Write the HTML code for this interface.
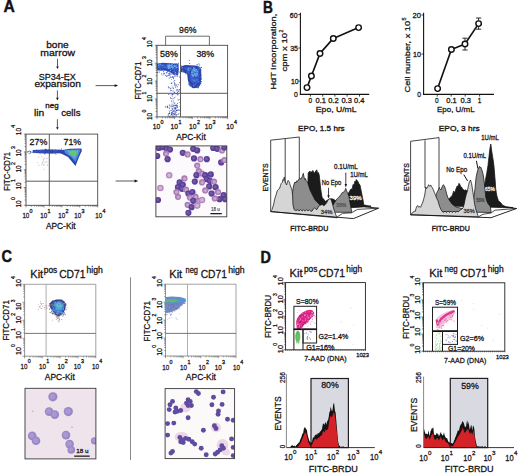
<!DOCTYPE html>
<html><head><meta charset="utf-8"><style>
html,body{margin:0;padding:0;background:#fff;}
svg{display:block;font-family:"Liberation Sans", sans-serif;}
</style></head><body>
<svg width="520" height="475" viewBox="0 0 520 475" fill="#161213">
<defs>
<filter id="b1" x="-20%" y="-20%" width="140%" height="140%"><feGaussianBlur stdDeviation="0.6"/></filter>
<filter id="bm" x="-20%" y="-20%" width="140%" height="140%"><feGaussianBlur stdDeviation="0.6"/></filter>
<filter id="b2" x="-20%" y="-20%" width="140%" height="140%"><feGaussianBlur stdDeviation="1.2"/></filter>
<filter id="b3" x="-30%" y="-30%" width="160%" height="160%"><feGaussianBlur stdDeviation="2"/></filter>
</defs>
<rect width="520" height="475" fill="#fff"/>
<text x="3.4" y="12.4" font-size="16" stroke="#161213" stroke-width="0.45" font-weight="bold" textLength="11.3" lengthAdjust="spacingAndGlyphs">A</text>
<text x="57.5" y="47.9" font-size="8.8" stroke="#161213" stroke-width="0.26" text-anchor="middle" textLength="22.5" lengthAdjust="spacingAndGlyphs">bone</text>
<text x="57.6" y="55.6" font-size="8.8" stroke="#161213" stroke-width="0.26" text-anchor="middle" textLength="34.8" lengthAdjust="spacingAndGlyphs">marrow</text>
<text x="57.2" y="79.6" font-size="8.6" stroke="#161213" stroke-width="0.26" text-anchor="middle" textLength="37" lengthAdjust="spacingAndGlyphs">SP34-EX</text>
<text x="57.6" y="87.2" font-size="8.8" stroke="#161213" stroke-width="0.26" text-anchor="middle" textLength="46.4" lengthAdjust="spacingAndGlyphs">expansion</text>
<text x="34" y="115.5" font-size="8.8" stroke="#161213" stroke-width="0.26" textLength="10.2" lengthAdjust="spacingAndGlyphs">lin</text>
<text x="45.3" y="107.6" font-size="6.6" stroke="#161213" stroke-width="0.26" textLength="13.3" lengthAdjust="spacingAndGlyphs">neg</text>
<text x="61.2" y="115.5" font-size="8.8" stroke="#161213" stroke-width="0.26" textLength="19.3" lengthAdjust="spacingAndGlyphs">cells</text>
<line x1="57.5" y1="58.8" x2="57.5" y2="66.8" stroke="#161213" stroke-width="0.7"/>
<polygon points="56.2,66.4 58.8,66.4 57.5,69" fill="#161213"/>
<line x1="57.4" y1="90.4" x2="57.4" y2="98.2" stroke="#161213" stroke-width="0.7"/>
<polygon points="56.1,97.8 58.7,97.8 57.4,100.4" fill="#161213"/>
<line x1="57.4" y1="119.2" x2="57.4" y2="127.6" stroke="#161213" stroke-width="0.7"/>
<polygon points="56.1,127.2 58.7,127.2 57.4,129.8" fill="#161213"/>
<line x1="95.6" y1="85.6" x2="115.2" y2="85.6" stroke="#161213" stroke-width="0.7"/>
<polygon points="114.6,84.2 114.6,87 118.2,85.6" fill="#161213"/>
<line x1="115.6" y1="181" x2="135.2" y2="181" stroke="#161213" stroke-width="0.7"/>
<polygon points="134.6,179.6 134.6,182.4 138.2,181" fill="#161213"/>
<g filter="url(#b1)">
<polygon points="157,63.5 163,62.8 170,63.2 178.5,63.8 178.8,70 178,75.5 174,75 170,72 165,70.5 160,70.8 157,70" fill="#2f49b5"/>
<polygon points="159,64.5 170,64.2 177,65 177,69 172,70 165,68.5 160,68" fill="#3c66d2"/>
<ellipse cx="171.5" cy="66.5" rx="4.2" ry="2.2" fill="#68aaee"/>
<polygon points="181,66.5 185,65 190,65.2 195,65.5 199,66.5 201.2,69 201.3,76 200.8,84 198.5,87.8 193,88.2 189.5,86 187.8,80 187.2,74 184,72.5 181,72" fill="#2f46b0"/>
<polygon points="184,67.5 192,66.8 198,68.5 199.5,74 198.5,82 195,85 191,82 189.5,75 185,71" fill="#3a5fcc"/>
<ellipse cx="194.5" cy="73" rx="3.6" ry="4" fill="#62a6ec"/>
</g>
<rect x="176.04" y="84.57" width="0.9" height="0.9" fill="#3a50b0"/>
<rect x="177.03" y="106.96" width="0.9" height="0.9" fill="#3a50b0"/>
<rect x="176.84" y="86.46" width="0.9" height="0.9" fill="#3a50b0"/>
<rect x="174.77" y="73.87" width="0.9" height="0.9" fill="#a8b4e4"/>
<rect x="176.16" y="73.14" width="0.9" height="0.9" fill="#2a3a90"/>
<rect x="175.2" y="75.57" width="0.9" height="0.9" fill="#5a70c8"/>
<rect x="172.57" y="98.38" width="0.9" height="0.9" fill="#2a3a90"/>
<rect x="172.97" y="87.85" width="0.9" height="0.9" fill="#5a70c8"/>
<rect x="175.06" y="72.1" width="0.9" height="0.9" fill="#5a70c8"/>
<rect x="171.57" y="94.33" width="0.9" height="0.9" fill="#2a3a90"/>
<rect x="174.26" y="83.88" width="0.9" height="0.9" fill="#2a3a90"/>
<rect x="171.77" y="95.7" width="0.9" height="0.9" fill="#5a70c8"/>
<rect x="172.47" y="86.76" width="0.9" height="0.9" fill="#3a50b0"/>
<rect x="173.18" y="97.86" width="0.9" height="0.9" fill="#a8b4e4"/>
<rect x="171.16" y="100.62" width="0.9" height="0.9" fill="#2a3a90"/>
<rect x="174.64" y="111.55" width="0.9" height="0.9" fill="#8898d8"/>
<rect x="174.78" y="83.49" width="0.9" height="0.9" fill="#5a70c8"/>
<rect x="169.03" y="73.68" width="0.9" height="0.9" fill="#8898d8"/>
<rect x="176.93" y="93.63" width="0.9" height="0.9" fill="#8898d8"/>
<rect x="170.07" y="97.4" width="0.9" height="0.9" fill="#3a50b0"/>
<rect x="169.11" y="75.31" width="0.9" height="0.9" fill="#5a70c8"/>
<rect x="175.98" y="112" width="0.9" height="0.9" fill="#a8b4e4"/>
<rect x="170.99" y="71.76" width="0.9" height="0.9" fill="#2a3a90"/>
<rect x="169.06" y="105.51" width="0.9" height="0.9" fill="#8898d8"/>
<rect x="171.43" y="85.31" width="0.9" height="0.9" fill="#a8b4e4"/>
<rect x="176.34" y="73.09" width="0.9" height="0.9" fill="#3a50b0"/>
<rect x="169.13" y="112.51" width="0.9" height="0.9" fill="#3a50b0"/>
<rect x="174.22" y="102.9" width="0.9" height="0.9" fill="#8898d8"/>
<rect x="179" y="99.12" width="0.9" height="0.9" fill="#8898d8"/>
<rect x="173.26" y="102.25" width="0.9" height="0.9" fill="#8898d8"/>
<rect x="171.73" y="71.02" width="0.9" height="0.9" fill="#3a50b0"/>
<rect x="173.93" y="92.22" width="0.9" height="0.9" fill="#5a70c8"/>
<rect x="175.06" y="104.57" width="0.9" height="0.9" fill="#a8b4e4"/>
<rect x="175.14" y="111.26" width="0.9" height="0.9" fill="#a8b4e4"/>
<rect x="169.9" y="73.63" width="0.9" height="0.9" fill="#5a70c8"/>
<rect x="174.69" y="106.87" width="0.9" height="0.9" fill="#2a3a90"/>
<rect x="171.06" y="82.53" width="0.9" height="0.9" fill="#a8b4e4"/>
<rect x="174.94" y="113.1" width="0.9" height="0.9" fill="#5a70c8"/>
<rect x="176.06" y="73.73" width="0.9" height="0.9" fill="#3a50b0"/>
<rect x="177.08" y="91.82" width="0.9" height="0.9" fill="#2a3a90"/>
<rect x="173.16" y="78.21" width="0.9" height="0.9" fill="#2a3a90"/>
<rect x="175.15" y="86.62" width="0.9" height="0.9" fill="#2a3a90"/>
<rect x="177.69" y="84.34" width="0.9" height="0.9" fill="#2a3a90"/>
<rect x="177.71" y="99.47" width="0.9" height="0.9" fill="#3a50b0"/>
<rect x="178.59" y="90.55" width="0.9" height="0.9" fill="#2a3a90"/>
<rect x="168.14" y="87.66" width="0.9" height="0.9" fill="#a8b4e4"/>
<rect x="170.49" y="87.74" width="0.9" height="0.9" fill="#5a70c8"/>
<rect x="173.85" y="73.03" width="0.9" height="0.9" fill="#5a70c8"/>
<rect x="176.63" y="89.83" width="0.9" height="0.9" fill="#3a50b0"/>
<rect x="176.09" y="70.01" width="0.9" height="0.9" fill="#5a70c8"/>
<rect x="177.43" y="94.15" width="0.9" height="0.9" fill="#3a50b0"/>
<rect x="172.2" y="109.34" width="0.9" height="0.9" fill="#2a3a90"/>
<rect x="168.53" y="86.93" width="0.9" height="0.9" fill="#2a3a90"/>
<rect x="167.9" y="86.39" width="0.9" height="0.9" fill="#3a50b0"/>
<rect x="165.24" y="75.19" width="0.9" height="0.9" fill="#a8b4e4"/>
<rect x="174.12" y="91.77" width="0.9" height="0.9" fill="#3a50b0"/>
<rect x="173.49" y="76.49" width="0.9" height="0.9" fill="#a8b4e4"/>
<rect x="168.57" y="107.3" width="0.9" height="0.9" fill="#5a70c8"/>
<rect x="175.55" y="93.24" width="0.9" height="0.9" fill="#8898d8"/>
<rect x="179" y="76.6" width="0.9" height="0.9" fill="#2a3a90"/>
<rect x="173.63" y="111.14" width="0.9" height="0.9" fill="#3a50b0"/>
<rect x="170.98" y="101.33" width="0.9" height="0.9" fill="#8898d8"/>
<rect x="175.86" y="93.33" width="0.9" height="0.9" fill="#5a70c8"/>
<rect x="171.97" y="93.97" width="0.9" height="0.9" fill="#2a3a90"/>
<rect x="174.42" y="84.83" width="0.9" height="0.9" fill="#5a70c8"/>
<rect x="178.9" y="106.27" width="0.9" height="0.9" fill="#a8b4e4"/>
<rect x="174.03" y="103.29" width="0.9" height="0.9" fill="#8898d8"/>
<rect x="177.08" y="102.9" width="0.9" height="0.9" fill="#3a50b0"/>
<rect x="171.56" y="105.56" width="0.9" height="0.9" fill="#2a3a90"/>
<rect x="173.84" y="113.04" width="0.9" height="0.9" fill="#a8b4e4"/>
<rect x="173.03" y="106.39" width="0.9" height="0.9" fill="#8898d8"/>
<rect x="170.76" y="73.62" width="0.9" height="0.9" fill="#3a50b0"/>
<rect x="174.17" y="80.21" width="0.9" height="0.9" fill="#2a3a90"/>
<rect x="175.42" y="114.34" width="0.9" height="0.9" fill="#2a3a90"/>
<rect x="169.17" y="107.82" width="0.9" height="0.9" fill="#3a50b0"/>
<rect x="174.06" y="107.56" width="0.9" height="0.9" fill="#3a50b0"/>
<rect x="174.51" y="110.94" width="0.9" height="0.9" fill="#a8b4e4"/>
<rect x="168.61" y="110.01" width="0.9" height="0.9" fill="#a8b4e4"/>
<rect x="170.83" y="105.51" width="0.9" height="0.9" fill="#a8b4e4"/>
<rect x="178.18" y="90.84" width="0.9" height="0.9" fill="#3a50b0"/>
<rect x="174.25" y="102.62" width="0.9" height="0.9" fill="#5a70c8"/>
<rect x="174.87" y="96.59" width="0.9" height="0.9" fill="#a8b4e4"/>
<rect x="176.91" y="106.29" width="0.9" height="0.9" fill="#a8b4e4"/>
<rect x="177.96" y="99.58" width="0.9" height="0.9" fill="#8898d8"/>
<rect x="172.9" y="77.02" width="0.9" height="0.9" fill="#3a50b0"/>
<rect x="173.31" y="93.7" width="0.9" height="0.9" fill="#5a70c8"/>
<rect x="177.39" y="89.52" width="0.9" height="0.9" fill="#5a70c8"/>
<rect x="169.45" y="71.26" width="0.9" height="0.9" fill="#5a70c8"/>
<rect x="173.74" y="83.18" width="0.9" height="0.9" fill="#8898d8"/>
<rect x="177.48" y="94.5" width="0.9" height="0.9" fill="#5a70c8"/>
<rect x="173.09" y="72.74" width="0.9" height="0.9" fill="#2a3a90"/>
<rect x="167.11" y="106.68" width="0.9" height="0.9" fill="#2a3a90"/>
<rect x="176.58" y="88.93" width="0.9" height="0.9" fill="#2a3a90"/>
<rect x="171.75" y="76.83" width="0.9" height="0.9" fill="#2a3a90"/>
<rect x="171.73" y="70.84" width="0.9" height="0.9" fill="#3a50b0"/>
<rect x="174.2" y="104.92" width="0.9" height="0.9" fill="#5a70c8"/>
<rect x="168.74" y="77.76" width="0.9" height="0.9" fill="#2a3a90"/>
<rect x="174.3" y="72.78" width="0.9" height="0.9" fill="#2a3a90"/>
<rect x="168.34" y="93.88" width="0.9" height="0.9" fill="#2a3a90"/>
<rect x="174.07" y="72.56" width="0.9" height="0.9" fill="#5a70c8"/>
<rect x="174" y="82.46" width="0.9" height="0.9" fill="#2a3a90"/>
<rect x="169.96" y="71.25" width="0.9" height="0.9" fill="#3a50b0"/>
<rect x="170.79" y="89.95" width="0.9" height="0.9" fill="#2a3a90"/>
<rect x="171.19" y="78.97" width="0.9" height="0.9" fill="#8898d8"/>
<rect x="170.15" y="90.36" width="0.9" height="0.9" fill="#5a70c8"/>
<rect x="172.79" y="101.46" width="0.9" height="0.9" fill="#8898d8"/>
<rect x="175.08" y="111.53" width="0.9" height="0.9" fill="#a8b4e4"/>
<rect x="172.24" y="76.17" width="0.9" height="0.9" fill="#3a50b0"/>
<rect x="171.7" y="87.66" width="0.9" height="0.9" fill="#a8b4e4"/>
<rect x="177.6" y="73.29" width="0.9" height="0.9" fill="#8898d8"/>
<rect x="174.89" y="105.28" width="0.9" height="0.9" fill="#8898d8"/>
<rect x="172.45" y="76.43" width="0.9" height="0.9" fill="#5a70c8"/>
<rect x="174.91" y="113.54" width="0.9" height="0.9" fill="#a8b4e4"/>
<rect x="179" y="109.82" width="0.9" height="0.9" fill="#5a70c8"/>
<rect x="174.38" y="114.54" width="0.9" height="0.9" fill="#a8b4e4"/>
<rect x="171.95" y="114.73" width="0.9" height="0.9" fill="#a8b4e4"/>
<rect x="174.38" y="85.26" width="0.9" height="0.9" fill="#8898d8"/>
<rect x="175.98" y="70.88" width="0.9" height="0.9" fill="#2a3a90"/>
<rect x="172.64" y="90.64" width="0.9" height="0.9" fill="#2a3a90"/>
<rect x="170.67" y="98.08" width="0.9" height="0.9" fill="#2a3a90"/>
<rect x="178.6" y="113.23" width="0.9" height="0.9" fill="#5a70c8"/>
<rect x="177.87" y="113.73" width="0.9" height="0.9" fill="#3a50b0"/>
<rect x="172.6" y="73.78" width="0.9" height="0.9" fill="#5a70c8"/>
<rect x="179" y="82.17" width="0.9" height="0.9" fill="#5a70c8"/>
<rect x="176.14" y="106.89" width="0.9" height="0.9" fill="#8898d8"/>
<rect x="169.85" y="88.27" width="0.9" height="0.9" fill="#2a3a90"/>
<rect x="169.29" y="111.36" width="0.9" height="0.9" fill="#3a50b0"/>
<rect x="171.5" y="82.56" width="0.9" height="0.9" fill="#5a70c8"/>
<rect x="179" y="89.14" width="0.9" height="0.9" fill="#3a50b0"/>
<rect x="176.61" y="106.07" width="0.9" height="0.9" fill="#3a50b0"/>
<rect x="173.91" y="97.37" width="0.9" height="0.9" fill="#3a50b0"/>
<rect x="175.82" y="90.42" width="0.9" height="0.9" fill="#8898d8"/>
<rect x="167.7" y="114.74" width="0.9" height="0.9" fill="#2a3a90"/>
<rect x="176.79" y="75.82" width="0.9" height="0.9" fill="#2a3a90"/>
<rect x="179" y="101.93" width="0.9" height="0.9" fill="#8898d8"/>
<rect x="170.5" y="72.27" width="0.9" height="0.9" fill="#5a70c8"/>
<rect x="170.95" y="111.95" width="0.9" height="0.9" fill="#5a70c8"/>
<rect x="170.83" y="83.05" width="0.9" height="0.9" fill="#2a3a90"/>
<rect x="172.8" y="100.25" width="0.9" height="0.9" fill="#8898d8"/>
<rect x="178.87" y="71.66" width="0.9" height="0.9" fill="#3a50b0"/>
<rect x="171.65" y="102.99" width="0.9" height="0.9" fill="#a8b4e4"/>
<rect x="172.89" y="81.06" width="0.9" height="0.9" fill="#a8b4e4"/>
<rect x="174.84" y="74.78" width="0.9" height="0.9" fill="#a8b4e4"/>
<rect x="170.6" y="94.57" width="0.9" height="0.9" fill="#a8b4e4"/>
<rect x="172.76" y="113.66" width="0.9" height="0.9" fill="#5a70c8"/>
<rect x="175.45" y="85.42" width="0.9" height="0.9" fill="#5a70c8"/>
<rect x="172.92" y="88.21" width="0.9" height="0.9" fill="#5a70c8"/>
<rect x="174.32" y="70.64" width="0.9" height="0.9" fill="#8898d8"/>
<rect x="177.67" y="89.38" width="0.9" height="0.9" fill="#a8b4e4"/>
<rect x="175.01" y="109.17" width="0.9" height="0.9" fill="#8898d8"/>
<rect x="172.73" y="111.19" width="1" height="1" fill="#2c3f9e"/>
<rect x="172.29" y="105.89" width="1" height="1" fill="#5068c0"/>
<rect x="171.53" y="104.04" width="1" height="1" fill="#8090d0"/>
<rect x="174.68" y="107.88" width="1" height="1" fill="#2c3f9e"/>
<rect x="172.14" y="115.59" width="1" height="1" fill="#2c3f9e"/>
<rect x="175.19" y="108.02" width="1" height="1" fill="#2c3f9e"/>
<rect x="171.33" y="109.7" width="1" height="1" fill="#8090d0"/>
<rect x="172.97" y="113.31" width="1" height="1" fill="#2c3f9e"/>
<rect x="175.13" y="107.17" width="1" height="1" fill="#2c3f9e"/>
<rect x="174.35" y="108.73" width="1" height="1" fill="#5068c0"/>
<rect x="173.36" y="107.65" width="1" height="1" fill="#8090d0"/>
<rect x="176.3" y="114.24" width="1" height="1" fill="#2c3f9e"/>
<rect x="171.91" y="111.89" width="1" height="1" fill="#5068c0"/>
<rect x="167.98" y="113.17" width="1" height="1" fill="#8090d0"/>
<rect x="175.37" y="115.82" width="1" height="1" fill="#8090d0"/>
<rect x="176.24" y="105.74" width="1" height="1" fill="#8090d0"/>
<rect x="170.17" y="114.7" width="1" height="1" fill="#8090d0"/>
<rect x="170.08" y="105.67" width="1" height="1" fill="#8090d0"/>
<rect x="168.84" y="113.03" width="1" height="1" fill="#2c3f9e"/>
<rect x="171.09" y="113.92" width="1" height="1" fill="#8090d0"/>
<rect x="171.49" y="113.58" width="1" height="1" fill="#8090d0"/>
<rect x="166.93" y="106.76" width="1" height="1" fill="#2c3f9e"/>
<rect x="168.88" y="104.5" width="1" height="1" fill="#5068c0"/>
<rect x="168.2" y="114.03" width="1" height="1" fill="#8090d0"/>
<rect x="176.06" y="104.61" width="1" height="1" fill="#2c3f9e"/>
<rect x="173.36" y="109.87" width="1" height="1" fill="#2c3f9e"/>
<rect x="178.25" y="109.48" width="1" height="1" fill="#8090d0"/>
<rect x="175.48" y="105.1" width="1" height="1" fill="#8090d0"/>
<rect x="172.84" y="104.79" width="1" height="1" fill="#2c3f9e"/>
<rect x="171.1" y="114.15" width="1" height="1" fill="#2c3f9e"/>
<rect x="174.14" y="112.75" width="1" height="1" fill="#5068c0"/>
<rect x="176.94" y="109.93" width="1" height="1" fill="#5068c0"/>
<rect x="174.74" y="104.92" width="1" height="1" fill="#2c3f9e"/>
<rect x="171.9" y="111.4" width="1" height="1" fill="#8090d0"/>
<rect x="171.18" y="106.38" width="1" height="1" fill="#8090d0"/>
<rect x="171.68" y="112.92" width="1" height="1" fill="#5068c0"/>
<rect x="174.92" y="111.45" width="1" height="1" fill="#5068c0"/>
<rect x="175.13" y="107.23" width="1" height="1" fill="#8090d0"/>
<rect x="173.58" y="105.19" width="1" height="1" fill="#8090d0"/>
<rect x="175.84" y="110.2" width="1" height="1" fill="#5068c0"/>
<rect x="173.85" y="109.59" width="1" height="1" fill="#8090d0"/>
<rect x="165.14" y="106.39" width="1" height="1" fill="#2c3f9e"/>
<rect x="175.75" y="115.24" width="1" height="1" fill="#8090d0"/>
<rect x="173.3" y="115.62" width="1" height="1" fill="#5068c0"/>
<rect x="168.78" y="115.93" width="1" height="1" fill="#2c3f9e"/>
<rect x="176.64" y="104.9" width="1" height="1" fill="#2c3f9e"/>
<rect x="166.89" y="105.7" width="1" height="1" fill="#2c3f9e"/>
<rect x="172.07" y="111.24" width="1" height="1" fill="#8090d0"/>
<rect x="175.95" y="110.1" width="1" height="1" fill="#2c3f9e"/>
<rect x="170.46" y="109.97" width="1" height="1" fill="#5068c0"/>
<rect x="176.31" y="108.73" width="1" height="1" fill="#8090d0"/>
<rect x="178.15" y="109.41" width="1" height="1" fill="#5068c0"/>
<rect x="170.9" y="112.73" width="1" height="1" fill="#2c3f9e"/>
<rect x="174.22" y="114.08" width="1" height="1" fill="#2c3f9e"/>
<rect x="171.67" y="107.89" width="1" height="1" fill="#2c3f9e"/>
<rect x="188.37" y="75.28" width="0.9" height="0.9" fill="#3a52b8"/>
<rect x="196.67" y="69.81" width="0.9" height="0.9" fill="#3a52b8"/>
<rect x="174.29" y="75.67" width="0.9" height="0.9" fill="#3a52b8"/>
<rect x="200.95" y="66.99" width="0.9" height="0.9" fill="#3a52b8"/>
<rect x="175.83" y="68.49" width="0.9" height="0.9" fill="#3a52b8"/>
<rect x="169.11" y="73.21" width="0.9" height="0.9" fill="#3a52b8"/>
<rect x="193.73" y="71.69" width="0.9" height="0.9" fill="#3a52b8"/>
<rect x="169.57" y="74.48" width="0.9" height="0.9" fill="#3a52b8"/>
<rect x="168.69" y="69.51" width="0.9" height="0.9" fill="#3a52b8"/>
<rect x="199.07" y="75.49" width="0.9" height="0.9" fill="#3a52b8"/>
<rect x="195.91" y="73.68" width="0.9" height="0.9" fill="#3a52b8"/>
<rect x="197.19" y="64.47" width="0.9" height="0.9" fill="#3a52b8"/>
<rect x="198.39" y="63.41" width="0.9" height="0.9" fill="#3a52b8"/>
<rect x="159.18" y="68.57" width="0.9" height="0.9" fill="#3a52b8"/>
<rect x="189.22" y="63.04" width="0.9" height="0.9" fill="#3a52b8"/>
<rect x="185.36" y="73.54" width="0.9" height="0.9" fill="#3a52b8"/>
<rect x="162.6" y="74.46" width="0.9" height="0.9" fill="#3a52b8"/>
<rect x="177.78" y="68.67" width="0.9" height="0.9" fill="#3a52b8"/>
<rect x="189.52" y="74.5" width="0.9" height="0.9" fill="#3a52b8"/>
<rect x="199.96" y="70.53" width="0.9" height="0.9" fill="#3a52b8"/>
<rect x="181.52" y="68.62" width="0.9" height="0.9" fill="#3a52b8"/>
<rect x="164.11" y="72.86" width="0.9" height="0.9" fill="#3a52b8"/>
<rect x="166.15" y="75.87" width="0.9" height="0.9" fill="#3a52b8"/>
<rect x="166.68" y="67.73" width="0.9" height="0.9" fill="#3a52b8"/>
<rect x="196.88" y="76.47" width="0.9" height="0.9" fill="#3a52b8"/>
<rect x="163.14" y="70.88" width="0.9" height="0.9" fill="#3a52b8"/>
<rect x="165.47" y="74.85" width="0.9" height="0.9" fill="#3a52b8"/>
<rect x="161.01" y="73.47" width="0.9" height="0.9" fill="#3a52b8"/>
<rect x="167.52" y="70.66" width="0.9" height="0.9" fill="#3a52b8"/>
<rect x="196.04" y="77.48" width="0.9" height="0.9" fill="#3a52b8"/>
<rect x="189.98" y="66.59" width="0.9" height="0.9" fill="#3a52b8"/>
<rect x="173.58" y="70.06" width="0.9" height="0.9" fill="#3a52b8"/>
<rect x="169.21" y="72.52" width="0.9" height="0.9" fill="#3a52b8"/>
<rect x="199.58" y="75.16" width="0.9" height="0.9" fill="#3a52b8"/>
<rect x="194.97" y="71.84" width="0.9" height="0.9" fill="#3a52b8"/>
<rect x="167.93" y="74.89" width="0.9" height="0.9" fill="#3a52b8"/>
<rect x="174.59" y="59.31" width="0.9" height="0.9" fill="#3a52b8"/>
<rect x="194.34" y="75.14" width="0.9" height="0.9" fill="#3a52b8"/>
<rect x="195.41" y="72.27" width="0.9" height="0.9" fill="#3a52b8"/>
<rect x="188.22" y="71.17" width="0.9" height="0.9" fill="#3a52b8"/>
<rect x="196.41" y="64.44" width="0.9" height="0.9" fill="#3a52b8"/>
<rect x="157.01" y="72.11" width="0.9" height="0.9" fill="#3a52b8"/>
<rect x="194.64" y="66.85" width="0.9" height="0.9" fill="#3a52b8"/>
<rect x="199.78" y="71.02" width="0.9" height="0.9" fill="#3a52b8"/>
<rect x="163.79" y="73.4" width="0.9" height="0.9" fill="#3a52b8"/>
<rect x="188.76" y="60.16" width="0.9" height="0.9" fill="#3a52b8"/>
<rect x="185.48" y="71.51" width="0.9" height="0.9" fill="#3a52b8"/>
<rect x="181.27" y="65.5" width="0.9" height="0.9" fill="#3a52b8"/>
<rect x="158.74" y="71.73" width="0.9" height="0.9" fill="#3a52b8"/>
<rect x="197.48" y="67.44" width="0.9" height="0.9" fill="#3a52b8"/>
<rect x="185.4" y="70.13" width="0.9" height="0.9" fill="#3a52b8"/>
<rect x="168.08" y="73.47" width="0.9" height="0.9" fill="#3a52b8"/>
<rect x="185" y="70.23" width="0.9" height="0.9" fill="#3a52b8"/>
<rect x="160.1" y="68.69" width="0.9" height="0.9" fill="#3a52b8"/>
<rect x="166.84" y="68.53" width="0.9" height="0.9" fill="#3a52b8"/>
<rect x="177.27" y="71.28" width="0.9" height="0.9" fill="#3a52b8"/>
<rect x="199.19" y="64.62" width="0.9" height="0.9" fill="#3a52b8"/>
<rect x="177.91" y="62.82" width="0.9" height="0.9" fill="#3a52b8"/>
<rect x="167.33" y="71.24" width="0.9" height="0.9" fill="#3a52b8"/>
<rect x="188" y="83.71" width="0.9" height="0.9" fill="#3a52b8"/>
<rect x="170.53" y="76.82" width="0.9" height="0.9" fill="#3a52b8"/>
<rect x="186.68" y="71.8" width="0.9" height="0.9" fill="#3a52b8"/>
<rect x="175.48" y="70.66" width="0.9" height="0.9" fill="#3a52b8"/>
<rect x="197.71" y="78.41" width="0.9" height="0.9" fill="#3a52b8"/>
<rect x="166.98" y="75.44" width="0.9" height="0.9" fill="#3a52b8"/>
<rect x="175.5" y="71.97" width="0.9" height="0.9" fill="#3a52b8"/>
<rect x="187.03" y="73.86" width="0.9" height="0.9" fill="#3a52b8"/>
<rect x="189.52" y="79.46" width="0.9" height="0.9" fill="#3a52b8"/>
<rect x="193.08" y="71.43" width="0.9" height="0.9" fill="#3a52b8"/>
<rect x="190.46" y="74.51" width="0.9" height="0.9" fill="#3a52b8"/>
<rect x="169.98" y="76.59" width="0.9" height="0.9" fill="#3a52b8"/>
<rect x="165.24" y="69.26" width="0.9" height="0.9" fill="#3a52b8"/>
<rect x="166.83" y="64.59" width="0.9" height="0.9" fill="#3a52b8"/>
<rect x="198.75" y="74.68" width="0.9" height="0.9" fill="#3a52b8"/>
<rect x="163.44" y="68.29" width="0.9" height="0.9" fill="#3a52b8"/>
<rect x="199.86" y="73.15" width="0.9" height="0.9" fill="#3a52b8"/>
<rect x="163.24" y="72.67" width="0.9" height="0.9" fill="#3a52b8"/>
<rect x="174.31" y="71.56" width="0.9" height="0.9" fill="#3a52b8"/>
<rect x="196.52" y="77.04" width="0.9" height="0.9" fill="#3a52b8"/>
<rect x="171.49" y="67.64" width="1" height="1" fill="#7ab8f2"/>
<rect x="173.45" y="71.29" width="1" height="1" fill="#5a9ae6"/>
<rect x="161.79" y="64.96" width="1" height="1" fill="#6eb0f0"/>
<rect x="166.13" y="71.92" width="1" height="1" fill="#2a3a98"/>
<rect x="193.17" y="73.81" width="1" height="1" fill="#6eb0f0"/>
<rect x="188.03" y="67.89" width="1" height="1" fill="#7ab8f2"/>
<rect x="197.46" y="67.83" width="1" height="1" fill="#2a3a98"/>
<rect x="189.44" y="74.86" width="1" height="1" fill="#3a5cc8"/>
<rect x="158.53" y="64.56" width="1" height="1" fill="#6eb0f0"/>
<rect x="196.54" y="71.48" width="1" height="1" fill="#2a3a98"/>
<rect x="188.49" y="74.64" width="1" height="1" fill="#213080"/>
<rect x="191.75" y="85.84" width="1" height="1" fill="#213080"/>
<rect x="163.66" y="68.9" width="1" height="1" fill="#2a3a98"/>
<rect x="174.23" y="67" width="1" height="1" fill="#213080"/>
<rect x="159.85" y="63.85" width="1" height="1" fill="#7ab8f2"/>
<rect x="175.77" y="65.63" width="1" height="1" fill="#6eb0f0"/>
<rect x="168.66" y="65.1" width="1" height="1" fill="#6eb0f0"/>
<rect x="199.77" y="67.33" width="1" height="1" fill="#5a9ae6"/>
<rect x="194.27" y="79.61" width="1" height="1" fill="#6eb0f0"/>
<rect x="191.31" y="70.35" width="1" height="1" fill="#2a3a98"/>
<rect x="189.47" y="67.98" width="1" height="1" fill="#5a9ae6"/>
<rect x="165.17" y="68.89" width="1" height="1" fill="#2a3a98"/>
<rect x="195.9" y="77.46" width="1" height="1" fill="#2a3a98"/>
<rect x="159.85" y="69.29" width="1" height="1" fill="#5a9ae6"/>
<rect x="192.57" y="79.33" width="1" height="1" fill="#6eb0f0"/>
<rect x="193.04" y="84.01" width="1" height="1" fill="#2a3a98"/>
<rect x="158.78" y="70.34" width="1" height="1" fill="#6eb0f0"/>
<rect x="193.43" y="67.85" width="1" height="1" fill="#6eb0f0"/>
<rect x="176.76" y="69.5" width="1" height="1" fill="#3a5cc8"/>
<rect x="166.58" y="72.22" width="1" height="1" fill="#5a9ae6"/>
<rect x="197.21" y="83.37" width="1" height="1" fill="#2a3a98"/>
<rect x="175" y="72.3" width="1" height="1" fill="#7ab8f2"/>
<rect x="170.74" y="68.09" width="1" height="1" fill="#213080"/>
<rect x="161.01" y="67.09" width="1" height="1" fill="#3a5cc8"/>
<rect x="195.88" y="73.35" width="1" height="1" fill="#6eb0f0"/>
<rect x="173.01" y="67.93" width="1" height="1" fill="#3a5cc8"/>
<rect x="176.1" y="66.91" width="1" height="1" fill="#6eb0f0"/>
<rect x="193.1" y="73.16" width="1" height="1" fill="#2a3a98"/>
<rect x="177.28" y="67.06" width="1" height="1" fill="#6eb0f0"/>
<rect x="159.27" y="66.56" width="1" height="1" fill="#213080"/>
<rect x="163.42" y="70.08" width="1" height="1" fill="#7ab8f2"/>
<rect x="164.56" y="64.68" width="1" height="1" fill="#213080"/>
<rect x="199.54" y="67.93" width="1" height="1" fill="#5a9ae6"/>
<rect x="197.16" y="70.86" width="1" height="1" fill="#7ab8f2"/>
<rect x="197.75" y="72.7" width="1" height="1" fill="#3a5cc8"/>
<rect x="194.24" y="83.73" width="1" height="1" fill="#5a9ae6"/>
<rect x="198.3" y="66.91" width="1" height="1" fill="#2a3a98"/>
<rect x="162.41" y="69.18" width="1" height="1" fill="#3a5cc8"/>
<rect x="192.89" y="67.81" width="1" height="1" fill="#7ab8f2"/>
<rect x="194.07" y="79.81" width="1" height="1" fill="#3a5cc8"/>
<rect x="184.59" y="70.66" width="1" height="1" fill="#213080"/>
<rect x="170.56" y="69.23" width="1" height="1" fill="#213080"/>
<rect x="176.29" y="63.58" width="1" height="1" fill="#7ab8f2"/>
<rect x="200.39" y="74.63" width="1" height="1" fill="#213080"/>
<rect x="190.6" y="82.5" width="1" height="1" fill="#213080"/>
<rect x="193.81" y="83.26" width="1" height="1" fill="#213080"/>
<rect x="161.71" y="66.21" width="1" height="1" fill="#213080"/>
<rect x="158.79" y="66.26" width="1" height="1" fill="#3a5cc8"/>
<rect x="196.37" y="79.32" width="1" height="1" fill="#5a9ae6"/>
<rect x="158.14" y="64.66" width="1" height="1" fill="#7ab8f2"/>
<rect x="189.21" y="83.37" width="1" height="1" fill="#5a9ae6"/>
<rect x="191.98" y="80.15" width="1" height="1" fill="#3a5cc8"/>
<rect x="197.48" y="68.21" width="1" height="1" fill="#2a3a98"/>
<rect x="184.1" y="68.93" width="1" height="1" fill="#2a3a98"/>
<rect x="158.62" y="67.55" width="1" height="1" fill="#5a9ae6"/>
<rect x="185.01" y="69.95" width="1" height="1" fill="#2a3a98"/>
<rect x="196.4" y="67.22" width="1" height="1" fill="#2a3a98"/>
<rect x="185" y="71.99" width="1" height="1" fill="#213080"/>
<rect x="200.69" y="78.74" width="1" height="1" fill="#213080"/>
<rect x="189.47" y="72.29" width="1" height="1" fill="#213080"/>
<rect x="200.58" y="77.43" width="1" height="1" fill="#2a3a98"/>
<rect x="171.56" y="65.03" width="1" height="1" fill="#5a9ae6"/>
<rect x="200.3" y="77.65" width="1" height="1" fill="#3a5cc8"/>
<rect x="196.41" y="81.33" width="1" height="1" fill="#3a5cc8"/>
<rect x="158.49" y="66.73" width="1" height="1" fill="#7ab8f2"/>
<rect x="173.02" y="64.19" width="1" height="1" fill="#213080"/>
<rect x="172.62" y="65.66" width="1" height="1" fill="#2a3a98"/>
<rect x="170.25" y="66.34" width="1" height="1" fill="#2a3a98"/>
<rect x="167.72" y="66.73" width="1" height="1" fill="#6eb0f0"/>
<rect x="159.8" y="66.62" width="1" height="1" fill="#3a5cc8"/>
<rect x="191.41" y="73.05" width="1" height="1" fill="#2a3a98"/>
<rect x="193.12" y="85.32" width="1" height="1" fill="#7ab8f2"/>
<rect x="198.23" y="81.34" width="1" height="1" fill="#5a9ae6"/>
<rect x="159.71" y="63.63" width="1" height="1" fill="#5a9ae6"/>
<rect x="167.46" y="64.46" width="1" height="1" fill="#6eb0f0"/>
<rect x="198.4" y="66.56" width="1" height="1" fill="#5a9ae6"/>
<rect x="200.74" y="81.11" width="1" height="1" fill="#213080"/>
<rect x="194.16" y="81.63" width="1" height="1" fill="#213080"/>
<rect x="197.71" y="86.57" width="1" height="1" fill="#2a3a98"/>
<rect x="188.31" y="69.65" width="1" height="1" fill="#7ab8f2"/>
<rect x="197.36" y="87.3" width="1" height="1" fill="#2a3a98"/>
<rect x="157.67" y="69.51" width="1" height="1" fill="#5a9ae6"/>
<rect x="194.04" y="68.07" width="1" height="1" fill="#5a9ae6"/>
<rect x="189.83" y="71.17" width="1" height="1" fill="#213080"/>
<rect x="171.46" y="68.98" width="1" height="1" fill="#3a5cc8"/>
<rect x="194.03" y="76.41" width="1" height="1" fill="#213080"/>
<rect x="193.95" y="80.44" width="1" height="1" fill="#6eb0f0"/>
<rect x="182.09" y="70.69" width="1" height="1" fill="#5a9ae6"/>
<rect x="181.87" y="67.29" width="1" height="1" fill="#6eb0f0"/>
<rect x="158.18" y="65.67" width="1" height="1" fill="#5a9ae6"/>
<rect x="172.17" y="66.55" width="1" height="1" fill="#6eb0f0"/>
<rect x="158.36" y="66.46" width="1" height="1" fill="#3a5cc8"/>
<rect x="192.97" y="83.49" width="1" height="1" fill="#3a5cc8"/>
<rect x="197.23" y="86.61" width="1" height="1" fill="#6eb0f0"/>
<rect x="167.85" y="68.08" width="1" height="1" fill="#6eb0f0"/>
<rect x="192.73" y="78.85" width="1" height="1" fill="#3a5cc8"/>
<rect x="185.44" y="70.36" width="1" height="1" fill="#2a3a98"/>
<rect x="175.65" y="63.52" width="1" height="1" fill="#2a3a98"/>
<rect x="190.43" y="85.76" width="1" height="1" fill="#7ab8f2"/>
<rect x="175.17" y="73.91" width="1" height="1" fill="#6eb0f0"/>
<rect x="193.07" y="67.26" width="1" height="1" fill="#6eb0f0"/>
<rect x="172.3" y="65.39" width="1" height="1" fill="#3a5cc8"/>
<rect x="192.06" y="67.61" width="1" height="1" fill="#213080"/>
<rect x="198.28" y="68.79" width="1" height="1" fill="#5a9ae6"/>
<rect x="184.63" y="71.89" width="1" height="1" fill="#213080"/>
<rect x="197.85" y="85.3" width="1" height="1" fill="#3a5cc8"/>
<rect x="158.11" y="68.15" width="1" height="1" fill="#2a3a98"/>
<rect x="187.32" y="69.43" width="1" height="1" fill="#5a9ae6"/>
<rect x="195.95" y="68.95" width="1" height="1" fill="#5a9ae6"/>
<rect x="193.37" y="78.43" width="1" height="1" fill="#3a5cc8"/>
<rect x="163.86" y="69.19" width="1" height="1" fill="#2a3a98"/>
<rect x="183.53" y="71.72" width="1" height="1" fill="#5a9ae6"/>
<rect x="171.44" y="67.73" width="1" height="1" fill="#3a5cc8"/>
<rect x="200.78" y="67.12" width="1" height="1" fill="#3a5cc8"/>
<rect x="200.29" y="82.87" width="1" height="1" fill="#3a5cc8"/>
<rect x="170.09" y="69.85" width="1" height="1" fill="#6eb0f0"/>
<rect x="166.08" y="72.71" width="1" height="1" fill="#6eb0f0"/>
<rect x="176.21" y="68.56" width="1" height="1" fill="#3a5cc8"/>
<rect x="170.03" y="63.55" width="1" height="1" fill="#2a3a98"/>
<rect x="157" y="45.3" width="70.6" height="71.6" fill="none" stroke="#4a4a4a" stroke-width="0.9"/>
<line x1="180.5" y1="45.3" x2="180.5" y2="116.9" stroke="#4a4a4a" stroke-width="0.9"/>
<line x1="157" y1="93.3" x2="227.6" y2="93.3" stroke="#4a4a4a" stroke-width="0.9"/>
<line x1="157" y1="116.9" x2="157" y2="119.1" stroke="#4a4a4a" stroke-width="0.6"/>
<line x1="162.31" y1="116.9" x2="162.31" y2="118.3" stroke="#4a4a4a" stroke-width="0.6"/>
<line x1="165.42" y1="116.9" x2="165.42" y2="118.3" stroke="#4a4a4a" stroke-width="0.6"/>
<line x1="167.63" y1="116.9" x2="167.63" y2="118.3" stroke="#4a4a4a" stroke-width="0.6"/>
<line x1="169.34" y1="116.9" x2="169.34" y2="118.3" stroke="#4a4a4a" stroke-width="0.6"/>
<line x1="170.73" y1="116.9" x2="170.73" y2="118.3" stroke="#4a4a4a" stroke-width="0.6"/>
<line x1="171.92" y1="116.9" x2="171.92" y2="118.3" stroke="#4a4a4a" stroke-width="0.6"/>
<line x1="172.94" y1="116.9" x2="172.94" y2="118.3" stroke="#4a4a4a" stroke-width="0.6"/>
<line x1="173.84" y1="116.9" x2="173.84" y2="118.3" stroke="#4a4a4a" stroke-width="0.6"/>
<line x1="174.65" y1="116.9" x2="174.65" y2="119.1" stroke="#4a4a4a" stroke-width="0.6"/>
<line x1="179.96" y1="116.9" x2="179.96" y2="118.3" stroke="#4a4a4a" stroke-width="0.6"/>
<line x1="183.07" y1="116.9" x2="183.07" y2="118.3" stroke="#4a4a4a" stroke-width="0.6"/>
<line x1="185.28" y1="116.9" x2="185.28" y2="118.3" stroke="#4a4a4a" stroke-width="0.6"/>
<line x1="186.99" y1="116.9" x2="186.99" y2="118.3" stroke="#4a4a4a" stroke-width="0.6"/>
<line x1="188.38" y1="116.9" x2="188.38" y2="118.3" stroke="#4a4a4a" stroke-width="0.6"/>
<line x1="189.57" y1="116.9" x2="189.57" y2="118.3" stroke="#4a4a4a" stroke-width="0.6"/>
<line x1="190.59" y1="116.9" x2="190.59" y2="118.3" stroke="#4a4a4a" stroke-width="0.6"/>
<line x1="191.49" y1="116.9" x2="191.49" y2="118.3" stroke="#4a4a4a" stroke-width="0.6"/>
<line x1="192.3" y1="116.9" x2="192.3" y2="119.1" stroke="#4a4a4a" stroke-width="0.6"/>
<line x1="197.61" y1="116.9" x2="197.61" y2="118.3" stroke="#4a4a4a" stroke-width="0.6"/>
<line x1="200.72" y1="116.9" x2="200.72" y2="118.3" stroke="#4a4a4a" stroke-width="0.6"/>
<line x1="202.93" y1="116.9" x2="202.93" y2="118.3" stroke="#4a4a4a" stroke-width="0.6"/>
<line x1="204.64" y1="116.9" x2="204.64" y2="118.3" stroke="#4a4a4a" stroke-width="0.6"/>
<line x1="206.03" y1="116.9" x2="206.03" y2="118.3" stroke="#4a4a4a" stroke-width="0.6"/>
<line x1="207.22" y1="116.9" x2="207.22" y2="118.3" stroke="#4a4a4a" stroke-width="0.6"/>
<line x1="208.24" y1="116.9" x2="208.24" y2="118.3" stroke="#4a4a4a" stroke-width="0.6"/>
<line x1="209.14" y1="116.9" x2="209.14" y2="118.3" stroke="#4a4a4a" stroke-width="0.6"/>
<line x1="209.95" y1="116.9" x2="209.95" y2="119.1" stroke="#4a4a4a" stroke-width="0.6"/>
<line x1="215.26" y1="116.9" x2="215.26" y2="118.3" stroke="#4a4a4a" stroke-width="0.6"/>
<line x1="218.37" y1="116.9" x2="218.37" y2="118.3" stroke="#4a4a4a" stroke-width="0.6"/>
<line x1="220.58" y1="116.9" x2="220.58" y2="118.3" stroke="#4a4a4a" stroke-width="0.6"/>
<line x1="222.29" y1="116.9" x2="222.29" y2="118.3" stroke="#4a4a4a" stroke-width="0.6"/>
<line x1="223.68" y1="116.9" x2="223.68" y2="118.3" stroke="#4a4a4a" stroke-width="0.6"/>
<line x1="224.87" y1="116.9" x2="224.87" y2="118.3" stroke="#4a4a4a" stroke-width="0.6"/>
<line x1="225.89" y1="116.9" x2="225.89" y2="118.3" stroke="#4a4a4a" stroke-width="0.6"/>
<line x1="226.79" y1="116.9" x2="226.79" y2="118.3" stroke="#4a4a4a" stroke-width="0.6"/>
<line x1="227.6" y1="116.9" x2="227.6" y2="119.1" stroke="#4a4a4a" stroke-width="0.6"/>
<line x1="154.8" y1="116.9" x2="157" y2="116.9" stroke="#4a4a4a" stroke-width="0.6"/>
<line x1="155.6" y1="111.51" x2="157" y2="111.51" stroke="#4a4a4a" stroke-width="0.6"/>
<line x1="155.6" y1="108.36" x2="157" y2="108.36" stroke="#4a4a4a" stroke-width="0.6"/>
<line x1="155.6" y1="106.12" x2="157" y2="106.12" stroke="#4a4a4a" stroke-width="0.6"/>
<line x1="155.6" y1="104.39" x2="157" y2="104.39" stroke="#4a4a4a" stroke-width="0.6"/>
<line x1="155.6" y1="102.97" x2="157" y2="102.97" stroke="#4a4a4a" stroke-width="0.6"/>
<line x1="155.6" y1="101.77" x2="157" y2="101.77" stroke="#4a4a4a" stroke-width="0.6"/>
<line x1="155.6" y1="100.73" x2="157" y2="100.73" stroke="#4a4a4a" stroke-width="0.6"/>
<line x1="155.6" y1="99.82" x2="157" y2="99.82" stroke="#4a4a4a" stroke-width="0.6"/>
<line x1="154.8" y1="99" x2="157" y2="99" stroke="#4a4a4a" stroke-width="0.6"/>
<line x1="155.6" y1="93.61" x2="157" y2="93.61" stroke="#4a4a4a" stroke-width="0.6"/>
<line x1="155.6" y1="90.46" x2="157" y2="90.46" stroke="#4a4a4a" stroke-width="0.6"/>
<line x1="155.6" y1="88.22" x2="157" y2="88.22" stroke="#4a4a4a" stroke-width="0.6"/>
<line x1="155.6" y1="86.49" x2="157" y2="86.49" stroke="#4a4a4a" stroke-width="0.6"/>
<line x1="155.6" y1="85.07" x2="157" y2="85.07" stroke="#4a4a4a" stroke-width="0.6"/>
<line x1="155.6" y1="83.87" x2="157" y2="83.87" stroke="#4a4a4a" stroke-width="0.6"/>
<line x1="155.6" y1="82.83" x2="157" y2="82.83" stroke="#4a4a4a" stroke-width="0.6"/>
<line x1="155.6" y1="81.92" x2="157" y2="81.92" stroke="#4a4a4a" stroke-width="0.6"/>
<line x1="154.8" y1="81.1" x2="157" y2="81.1" stroke="#4a4a4a" stroke-width="0.6"/>
<line x1="155.6" y1="75.71" x2="157" y2="75.71" stroke="#4a4a4a" stroke-width="0.6"/>
<line x1="155.6" y1="72.56" x2="157" y2="72.56" stroke="#4a4a4a" stroke-width="0.6"/>
<line x1="155.6" y1="70.32" x2="157" y2="70.32" stroke="#4a4a4a" stroke-width="0.6"/>
<line x1="155.6" y1="68.59" x2="157" y2="68.59" stroke="#4a4a4a" stroke-width="0.6"/>
<line x1="155.6" y1="67.17" x2="157" y2="67.17" stroke="#4a4a4a" stroke-width="0.6"/>
<line x1="155.6" y1="65.97" x2="157" y2="65.97" stroke="#4a4a4a" stroke-width="0.6"/>
<line x1="155.6" y1="64.93" x2="157" y2="64.93" stroke="#4a4a4a" stroke-width="0.6"/>
<line x1="155.6" y1="64.02" x2="157" y2="64.02" stroke="#4a4a4a" stroke-width="0.6"/>
<line x1="154.8" y1="63.2" x2="157" y2="63.2" stroke="#4a4a4a" stroke-width="0.6"/>
<line x1="155.6" y1="57.81" x2="157" y2="57.81" stroke="#4a4a4a" stroke-width="0.6"/>
<line x1="155.6" y1="54.66" x2="157" y2="54.66" stroke="#4a4a4a" stroke-width="0.6"/>
<line x1="155.6" y1="52.42" x2="157" y2="52.42" stroke="#4a4a4a" stroke-width="0.6"/>
<line x1="155.6" y1="50.69" x2="157" y2="50.69" stroke="#4a4a4a" stroke-width="0.6"/>
<line x1="155.6" y1="49.27" x2="157" y2="49.27" stroke="#4a4a4a" stroke-width="0.6"/>
<line x1="155.6" y1="48.07" x2="157" y2="48.07" stroke="#4a4a4a" stroke-width="0.6"/>
<line x1="155.6" y1="47.03" x2="157" y2="47.03" stroke="#4a4a4a" stroke-width="0.6"/>
<line x1="155.6" y1="46.12" x2="157" y2="46.12" stroke="#4a4a4a" stroke-width="0.6"/>
<line x1="154.8" y1="45.3" x2="157" y2="45.3" stroke="#4a4a4a" stroke-width="0.6"/>
<polyline points="165.6,45.2 165.6,36.2 209.4,36.2 209.4,45.2" fill="none" stroke="#4a4a4a" stroke-width="0.8" stroke-linejoin="round"/>
<text x="187.8" y="32.7" font-size="9" stroke="#161213" stroke-width="0.26" text-anchor="middle" textLength="17.4" lengthAdjust="spacingAndGlyphs">96%</text>
<text x="160" y="56.5" font-size="8.8" stroke="#161213" stroke-width="0.26" textLength="17.8" lengthAdjust="spacingAndGlyphs">58%</text>
<text x="196.4" y="56.5" font-size="8.8" stroke="#161213" stroke-width="0.26" textLength="17.8" lengthAdjust="spacingAndGlyphs">38%</text>
<text x="152.8" y="129" font-size="8" stroke="#161213" stroke-width="0.26" textLength="7.5" lengthAdjust="spacingAndGlyphs">10</text>
<text x="160.6" y="124" font-size="5.4" stroke="#161213" stroke-width="0.26">0</text>
<text x="170.6" y="129" font-size="8" stroke="#161213" stroke-width="0.26" textLength="7.5" lengthAdjust="spacingAndGlyphs">10</text>
<text x="178.4" y="124" font-size="5.4" stroke="#161213" stroke-width="0.26">1</text>
<text x="189.1" y="129" font-size="8" stroke="#161213" stroke-width="0.26" textLength="7.5" lengthAdjust="spacingAndGlyphs">10</text>
<text x="196.9" y="124" font-size="5.4" stroke="#161213" stroke-width="0.26">2</text>
<text x="204.7" y="129" font-size="8" stroke="#161213" stroke-width="0.26" textLength="7.5" lengthAdjust="spacingAndGlyphs">10</text>
<text x="212.5" y="124" font-size="5.4" stroke="#161213" stroke-width="0.26">3</text>
<text x="226.3" y="129" font-size="8" stroke="#161213" stroke-width="0.26" textLength="7.5" lengthAdjust="spacingAndGlyphs">10</text>
<text x="234.1" y="124" font-size="5.4" stroke="#161213" stroke-width="0.26">4</text>
<text x="191" y="139.8" font-size="8.3" stroke="#161213" stroke-width="0.26" text-anchor="middle" textLength="29.6" lengthAdjust="spacingAndGlyphs">APC-Kit</text>
<g transform="translate(151.6,120) rotate(-90)">
<text x="0" y="0" font-size="7.6" stroke="#161213" stroke-width="0.26" textLength="7.2" lengthAdjust="spacingAndGlyphs">10</text>
<text x="7.5" y="-5.6" font-size="5.2" stroke="#161213" stroke-width="0.26">0</text>
</g>
<g transform="translate(151.6,102) rotate(-90)">
<text x="0" y="0" font-size="7.6" stroke="#161213" stroke-width="0.26" textLength="7.2" lengthAdjust="spacingAndGlyphs">10</text>
<text x="7.5" y="-5.6" font-size="5.2" stroke="#161213" stroke-width="0.26">1</text>
</g>
<g transform="translate(151.6,85) rotate(-90)">
<text x="0" y="0" font-size="7.6" stroke="#161213" stroke-width="0.26" textLength="7.2" lengthAdjust="spacingAndGlyphs">10</text>
<text x="7.5" y="-5.6" font-size="5.2" stroke="#161213" stroke-width="0.26">2</text>
</g>
<g transform="translate(151.6,66.6) rotate(-90)">
<text x="0" y="0" font-size="7.6" stroke="#161213" stroke-width="0.26" textLength="7.2" lengthAdjust="spacingAndGlyphs">10</text>
<text x="7.5" y="-5.6" font-size="5.2" stroke="#161213" stroke-width="0.26">3</text>
</g>
<g transform="translate(151.6,47.6) rotate(-90)">
<text x="0" y="0" font-size="7.6" stroke="#161213" stroke-width="0.26" textLength="7.2" lengthAdjust="spacingAndGlyphs">10</text>
<text x="7.5" y="-5.6" font-size="5.2" stroke="#161213" stroke-width="0.26">4</text>
</g>
<g transform="translate(140.6,80.6) rotate(-90)">
<text x="0" y="0" font-size="8.2" stroke="#161213" stroke-width="0.26" text-anchor="middle" textLength="37.8" lengthAdjust="spacingAndGlyphs">FITC-CD71</text>
</g>
<g filter="url(#b1)">
<polygon points="33,150 45,149.6 55,149.4 62,149.8 62,153.2 50,153.4 40,153.3 33,152.8" fill="#2f48b2"/>
<polygon points="60.5,150.2 70,148.8 81.5,148.6 81.8,151 79,157 75.5,166 73,163 68,157 61,153.5" fill="#2e44ad"/>
<polygon points="64,150.3 72,149.4 80.5,149.5 79,154 75.5,162 71,157 65,153" fill="#4a8cd8"/>
<polygon points="67,150.6 73,150.2 78.5,150.4 76.5,155.5 74.5,158.5 71.5,155.5 68,152.5" fill="#5eb0d0"/>
<ellipse cx="73.2" cy="153" rx="4" ry="2.6" fill="#6cc078"/>
</g>
<rect x="53.19" y="150" width="0.9" height="0.9" fill="#3a55c0"/>
<rect x="51.84" y="149.82" width="0.9" height="0.9" fill="#2c3f9e"/>
<rect x="50.71" y="150.4" width="0.9" height="0.9" fill="#5070d0"/>
<rect x="57.92" y="151.58" width="0.9" height="0.9" fill="#2c3f9e"/>
<rect x="51.11" y="149.46" width="0.9" height="0.9" fill="#5070d0"/>
<rect x="32.22" y="150.45" width="0.9" height="0.9" fill="#5070d0"/>
<rect x="31.33" y="151.68" width="0.9" height="0.9" fill="#3a55c0"/>
<rect x="36.24" y="149.77" width="0.9" height="0.9" fill="#2c3f9e"/>
<rect x="36.5" y="152.41" width="0.9" height="0.9" fill="#3a55c0"/>
<rect x="44.41" y="153.66" width="0.9" height="0.9" fill="#5070d0"/>
<rect x="50.96" y="151.59" width="0.9" height="0.9" fill="#2c3f9e"/>
<rect x="58.41" y="151.22" width="0.9" height="0.9" fill="#3a55c0"/>
<rect x="58.88" y="151.45" width="0.9" height="0.9" fill="#2c3f9e"/>
<rect x="29.3" y="150.62" width="0.9" height="0.9" fill="#2c3f9e"/>
<rect x="45.65" y="151.11" width="0.9" height="0.9" fill="#2c3f9e"/>
<rect x="56.8" y="150.52" width="0.9" height="0.9" fill="#3a55c0"/>
<rect x="45.41" y="151.52" width="0.9" height="0.9" fill="#5070d0"/>
<rect x="54.95" y="150.55" width="0.9" height="0.9" fill="#5070d0"/>
<rect x="60.23" y="152.1" width="0.9" height="0.9" fill="#2c3f9e"/>
<rect x="61.67" y="151.88" width="0.9" height="0.9" fill="#2c3f9e"/>
<rect x="52.79" y="152.62" width="0.9" height="0.9" fill="#5070d0"/>
<rect x="40.09" y="152.2" width="0.9" height="0.9" fill="#3a55c0"/>
<rect x="30.09" y="151.63" width="0.9" height="0.9" fill="#2c3f9e"/>
<rect x="42.23" y="149.67" width="0.9" height="0.9" fill="#3a55c0"/>
<rect x="47.73" y="152.19" width="0.9" height="0.9" fill="#2c3f9e"/>
<rect x="35.63" y="151.15" width="0.9" height="0.9" fill="#5070d0"/>
<rect x="61.03" y="148.46" width="0.9" height="0.9" fill="#3a55c0"/>
<rect x="43.71" y="152.71" width="0.9" height="0.9" fill="#2c3f9e"/>
<rect x="55.53" y="153.67" width="0.9" height="0.9" fill="#5070d0"/>
<rect x="34.57" y="150.1" width="0.9" height="0.9" fill="#2c3f9e"/>
<rect x="40.01" y="149.81" width="0.9" height="0.9" fill="#5070d0"/>
<rect x="56.24" y="151.65" width="0.9" height="0.9" fill="#3a55c0"/>
<rect x="53.84" y="150.11" width="0.9" height="0.9" fill="#5070d0"/>
<rect x="32.26" y="151.86" width="0.9" height="0.9" fill="#2c3f9e"/>
<rect x="37.09" y="150.33" width="0.9" height="0.9" fill="#3a55c0"/>
<rect x="51.37" y="153.1" width="0.9" height="0.9" fill="#3a55c0"/>
<rect x="28.09" y="151.11" width="0.9" height="0.9" fill="#5070d0"/>
<rect x="55.16" y="150.2" width="0.9" height="0.9" fill="#3a55c0"/>
<rect x="44.3" y="152.66" width="0.9" height="0.9" fill="#3a55c0"/>
<rect x="49.19" y="153.5" width="0.9" height="0.9" fill="#2c3f9e"/>
<rect x="59.58" y="152.61" width="0.9" height="0.9" fill="#3a55c0"/>
<rect x="29.94" y="152.53" width="0.9" height="0.9" fill="#2c3f9e"/>
<rect x="46.04" y="149" width="0.9" height="0.9" fill="#3a55c0"/>
<rect x="49.53" y="151.48" width="0.9" height="0.9" fill="#2c3f9e"/>
<rect x="50.3" y="151.32" width="0.9" height="0.9" fill="#3a55c0"/>
<rect x="48.68" y="149.23" width="0.9" height="0.9" fill="#2c3f9e"/>
<rect x="54.39" y="150.19" width="0.9" height="0.9" fill="#3a55c0"/>
<rect x="54.69" y="151.61" width="0.9" height="0.9" fill="#5070d0"/>
<rect x="33.71" y="152.48" width="0.9" height="0.9" fill="#5070d0"/>
<rect x="48.68" y="151.65" width="0.9" height="0.9" fill="#5070d0"/>
<rect x="54.79" y="149.55" width="0.9" height="0.9" fill="#3a55c0"/>
<rect x="34.71" y="150.78" width="0.9" height="0.9" fill="#5070d0"/>
<rect x="56.54" y="149.92" width="0.9" height="0.9" fill="#5070d0"/>
<rect x="58.01" y="150.42" width="0.9" height="0.9" fill="#2c3f9e"/>
<rect x="56.12" y="150.98" width="0.9" height="0.9" fill="#3a55c0"/>
<rect x="44.76" y="152.56" width="0.9" height="0.9" fill="#2c3f9e"/>
<rect x="51.81" y="151.78" width="0.9" height="0.9" fill="#2c3f9e"/>
<rect x="44.94" y="148.98" width="0.9" height="0.9" fill="#2c3f9e"/>
<rect x="33.45" y="150.71" width="0.9" height="0.9" fill="#3a55c0"/>
<rect x="43.91" y="149.66" width="0.9" height="0.9" fill="#3a55c0"/>
<rect x="40.75" y="150.62" width="0.9" height="0.9" fill="#3a55c0"/>
<rect x="62" y="150.96" width="0.9" height="0.9" fill="#3a55c0"/>
<rect x="49.63" y="150.62" width="0.9" height="0.9" fill="#2c3f9e"/>
<rect x="28.7" y="153.18" width="0.9" height="0.9" fill="#3a55c0"/>
<rect x="55.49" y="151.86" width="0.9" height="0.9" fill="#2c3f9e"/>
<rect x="45.36" y="148.75" width="0.9" height="0.9" fill="#2c3f9e"/>
<rect x="35.25" y="151.55" width="0.9" height="0.9" fill="#3a55c0"/>
<rect x="49.26" y="150.04" width="0.9" height="0.9" fill="#3a55c0"/>
<rect x="39.6" y="153.33" width="0.9" height="0.9" fill="#5070d0"/>
<rect x="46.84" y="152.14" width="0.9" height="0.9" fill="#3a55c0"/>
<rect x="42.36" y="150.79" width="0.9" height="0.9" fill="#5070d0"/>
<rect x="29.79" y="151.03" width="0.9" height="0.9" fill="#3a55c0"/>
<rect x="41.73" y="152.39" width="0.9" height="0.9" fill="#5070d0"/>
<rect x="61.47" y="152.07" width="0.9" height="0.9" fill="#2c3f9e"/>
<rect x="50.26" y="150.51" width="0.9" height="0.9" fill="#2c3f9e"/>
<rect x="39.25" y="150.89" width="0.9" height="0.9" fill="#5070d0"/>
<rect x="61.07" y="152.22" width="0.9" height="0.9" fill="#2c3f9e"/>
<rect x="54.66" y="153.16" width="0.9" height="0.9" fill="#3a55c0"/>
<rect x="46.54" y="151.78" width="0.9" height="0.9" fill="#2c3f9e"/>
<rect x="41.55" y="151.59" width="0.9" height="0.9" fill="#3a55c0"/>
<rect x="43.3" y="164.55" width="1.1" height="1.1" fill="#d0c4c8"/>
<rect x="43.4" y="164.15" width="1.1" height="1.1" fill="#c8c0d4"/>
<rect x="38.55" y="164.67" width="1.1" height="1.1" fill="#d0c4c8"/>
<rect x="43.5" y="158.26" width="1.1" height="1.1" fill="#d8d0e0"/>
<rect x="46.43" y="161.48" width="1.1" height="1.1" fill="#c8c0d4"/>
<rect x="46.97" y="164.52" width="1.1" height="1.1" fill="#b8b0cc"/>
<rect x="46.46" y="157.8" width="1.1" height="1.1" fill="#b8b0cc"/>
<rect x="42.75" y="159.35" width="1.1" height="1.1" fill="#b8b0cc"/>
<rect x="38.22" y="156.45" width="1.1" height="1.1" fill="#c8c0d4"/>
<rect x="41.17" y="164.34" width="1.1" height="1.1" fill="#c8c0d4"/>
<rect x="41.97" y="162.79" width="1.1" height="1.1" fill="#c8c0d4"/>
<rect x="45.29" y="161.47" width="1.1" height="1.1" fill="#d0c4c8"/>
<rect x="41.36" y="156.18" width="1.1" height="1.1" fill="#d0c4c8"/>
<rect x="43.13" y="168.91" width="1.1" height="1.1" fill="#d8d0e0"/>
<rect x="41.71" y="161.36" width="1.1" height="1.1" fill="#c8c0d4"/>
<rect x="37" y="162.14" width="1.1" height="1.1" fill="#d8d0e0"/>
<rect x="43.52" y="161.55" width="1.1" height="1.1" fill="#c8c0d4"/>
<rect x="44.21" y="157.58" width="1.1" height="1.1" fill="#c8c0d4"/>
<rect x="26.8" y="151.5" width="1.6" height="0.9" fill="#2c3f9e"/>
<rect x="26" y="134.1" width="71.7" height="71.2" fill="none" stroke="#4a4a4a" stroke-width="0.9"/>
<line x1="49.3" y1="134.1" x2="49.3" y2="205.3" stroke="#4a4a4a" stroke-width="0.9"/>
<line x1="26" y1="181.2" x2="97.7" y2="181.2" stroke="#4a4a4a" stroke-width="0.9"/>
<line x1="26" y1="205.3" x2="26" y2="207.5" stroke="#4a4a4a" stroke-width="0.6"/>
<line x1="31.4" y1="205.3" x2="31.4" y2="206.7" stroke="#4a4a4a" stroke-width="0.6"/>
<line x1="34.55" y1="205.3" x2="34.55" y2="206.7" stroke="#4a4a4a" stroke-width="0.6"/>
<line x1="36.79" y1="205.3" x2="36.79" y2="206.7" stroke="#4a4a4a" stroke-width="0.6"/>
<line x1="38.53" y1="205.3" x2="38.53" y2="206.7" stroke="#4a4a4a" stroke-width="0.6"/>
<line x1="39.95" y1="205.3" x2="39.95" y2="206.7" stroke="#4a4a4a" stroke-width="0.6"/>
<line x1="41.15" y1="205.3" x2="41.15" y2="206.7" stroke="#4a4a4a" stroke-width="0.6"/>
<line x1="42.19" y1="205.3" x2="42.19" y2="206.7" stroke="#4a4a4a" stroke-width="0.6"/>
<line x1="43.1" y1="205.3" x2="43.1" y2="206.7" stroke="#4a4a4a" stroke-width="0.6"/>
<line x1="43.92" y1="205.3" x2="43.92" y2="207.5" stroke="#4a4a4a" stroke-width="0.6"/>
<line x1="49.32" y1="205.3" x2="49.32" y2="206.7" stroke="#4a4a4a" stroke-width="0.6"/>
<line x1="52.48" y1="205.3" x2="52.48" y2="206.7" stroke="#4a4a4a" stroke-width="0.6"/>
<line x1="54.72" y1="205.3" x2="54.72" y2="206.7" stroke="#4a4a4a" stroke-width="0.6"/>
<line x1="56.45" y1="205.3" x2="56.45" y2="206.7" stroke="#4a4a4a" stroke-width="0.6"/>
<line x1="57.87" y1="205.3" x2="57.87" y2="206.7" stroke="#4a4a4a" stroke-width="0.6"/>
<line x1="59.07" y1="205.3" x2="59.07" y2="206.7" stroke="#4a4a4a" stroke-width="0.6"/>
<line x1="60.11" y1="205.3" x2="60.11" y2="206.7" stroke="#4a4a4a" stroke-width="0.6"/>
<line x1="61.03" y1="205.3" x2="61.03" y2="206.7" stroke="#4a4a4a" stroke-width="0.6"/>
<line x1="61.85" y1="205.3" x2="61.85" y2="207.5" stroke="#4a4a4a" stroke-width="0.6"/>
<line x1="67.25" y1="205.3" x2="67.25" y2="206.7" stroke="#4a4a4a" stroke-width="0.6"/>
<line x1="70.4" y1="205.3" x2="70.4" y2="206.7" stroke="#4a4a4a" stroke-width="0.6"/>
<line x1="72.64" y1="205.3" x2="72.64" y2="206.7" stroke="#4a4a4a" stroke-width="0.6"/>
<line x1="74.38" y1="205.3" x2="74.38" y2="206.7" stroke="#4a4a4a" stroke-width="0.6"/>
<line x1="75.8" y1="205.3" x2="75.8" y2="206.7" stroke="#4a4a4a" stroke-width="0.6"/>
<line x1="77" y1="205.3" x2="77" y2="206.7" stroke="#4a4a4a" stroke-width="0.6"/>
<line x1="78.04" y1="205.3" x2="78.04" y2="206.7" stroke="#4a4a4a" stroke-width="0.6"/>
<line x1="78.95" y1="205.3" x2="78.95" y2="206.7" stroke="#4a4a4a" stroke-width="0.6"/>
<line x1="79.78" y1="205.3" x2="79.78" y2="207.5" stroke="#4a4a4a" stroke-width="0.6"/>
<line x1="85.17" y1="205.3" x2="85.17" y2="206.7" stroke="#4a4a4a" stroke-width="0.6"/>
<line x1="88.33" y1="205.3" x2="88.33" y2="206.7" stroke="#4a4a4a" stroke-width="0.6"/>
<line x1="90.57" y1="205.3" x2="90.57" y2="206.7" stroke="#4a4a4a" stroke-width="0.6"/>
<line x1="92.3" y1="205.3" x2="92.3" y2="206.7" stroke="#4a4a4a" stroke-width="0.6"/>
<line x1="93.72" y1="205.3" x2="93.72" y2="206.7" stroke="#4a4a4a" stroke-width="0.6"/>
<line x1="94.92" y1="205.3" x2="94.92" y2="206.7" stroke="#4a4a4a" stroke-width="0.6"/>
<line x1="95.96" y1="205.3" x2="95.96" y2="206.7" stroke="#4a4a4a" stroke-width="0.6"/>
<line x1="96.88" y1="205.3" x2="96.88" y2="206.7" stroke="#4a4a4a" stroke-width="0.6"/>
<line x1="97.7" y1="205.3" x2="97.7" y2="207.5" stroke="#4a4a4a" stroke-width="0.6"/>
<line x1="23.8" y1="205.3" x2="26" y2="205.3" stroke="#4a4a4a" stroke-width="0.6"/>
<line x1="24.6" y1="199.94" x2="26" y2="199.94" stroke="#4a4a4a" stroke-width="0.6"/>
<line x1="24.6" y1="196.81" x2="26" y2="196.81" stroke="#4a4a4a" stroke-width="0.6"/>
<line x1="24.6" y1="194.58" x2="26" y2="194.58" stroke="#4a4a4a" stroke-width="0.6"/>
<line x1="24.6" y1="192.86" x2="26" y2="192.86" stroke="#4a4a4a" stroke-width="0.6"/>
<line x1="24.6" y1="191.45" x2="26" y2="191.45" stroke="#4a4a4a" stroke-width="0.6"/>
<line x1="24.6" y1="190.26" x2="26" y2="190.26" stroke="#4a4a4a" stroke-width="0.6"/>
<line x1="24.6" y1="189.22" x2="26" y2="189.22" stroke="#4a4a4a" stroke-width="0.6"/>
<line x1="24.6" y1="188.31" x2="26" y2="188.31" stroke="#4a4a4a" stroke-width="0.6"/>
<line x1="23.8" y1="187.5" x2="26" y2="187.5" stroke="#4a4a4a" stroke-width="0.6"/>
<line x1="24.6" y1="182.14" x2="26" y2="182.14" stroke="#4a4a4a" stroke-width="0.6"/>
<line x1="24.6" y1="179.01" x2="26" y2="179.01" stroke="#4a4a4a" stroke-width="0.6"/>
<line x1="24.6" y1="176.78" x2="26" y2="176.78" stroke="#4a4a4a" stroke-width="0.6"/>
<line x1="24.6" y1="175.06" x2="26" y2="175.06" stroke="#4a4a4a" stroke-width="0.6"/>
<line x1="24.6" y1="173.65" x2="26" y2="173.65" stroke="#4a4a4a" stroke-width="0.6"/>
<line x1="24.6" y1="172.46" x2="26" y2="172.46" stroke="#4a4a4a" stroke-width="0.6"/>
<line x1="24.6" y1="171.42" x2="26" y2="171.42" stroke="#4a4a4a" stroke-width="0.6"/>
<line x1="24.6" y1="170.51" x2="26" y2="170.51" stroke="#4a4a4a" stroke-width="0.6"/>
<line x1="23.8" y1="169.7" x2="26" y2="169.7" stroke="#4a4a4a" stroke-width="0.6"/>
<line x1="24.6" y1="164.34" x2="26" y2="164.34" stroke="#4a4a4a" stroke-width="0.6"/>
<line x1="24.6" y1="161.21" x2="26" y2="161.21" stroke="#4a4a4a" stroke-width="0.6"/>
<line x1="24.6" y1="158.98" x2="26" y2="158.98" stroke="#4a4a4a" stroke-width="0.6"/>
<line x1="24.6" y1="157.26" x2="26" y2="157.26" stroke="#4a4a4a" stroke-width="0.6"/>
<line x1="24.6" y1="155.85" x2="26" y2="155.85" stroke="#4a4a4a" stroke-width="0.6"/>
<line x1="24.6" y1="154.66" x2="26" y2="154.66" stroke="#4a4a4a" stroke-width="0.6"/>
<line x1="24.6" y1="153.62" x2="26" y2="153.62" stroke="#4a4a4a" stroke-width="0.6"/>
<line x1="24.6" y1="152.71" x2="26" y2="152.71" stroke="#4a4a4a" stroke-width="0.6"/>
<line x1="23.8" y1="151.9" x2="26" y2="151.9" stroke="#4a4a4a" stroke-width="0.6"/>
<line x1="24.6" y1="146.54" x2="26" y2="146.54" stroke="#4a4a4a" stroke-width="0.6"/>
<line x1="24.6" y1="143.41" x2="26" y2="143.41" stroke="#4a4a4a" stroke-width="0.6"/>
<line x1="24.6" y1="141.18" x2="26" y2="141.18" stroke="#4a4a4a" stroke-width="0.6"/>
<line x1="24.6" y1="139.46" x2="26" y2="139.46" stroke="#4a4a4a" stroke-width="0.6"/>
<line x1="24.6" y1="138.05" x2="26" y2="138.05" stroke="#4a4a4a" stroke-width="0.6"/>
<line x1="24.6" y1="136.86" x2="26" y2="136.86" stroke="#4a4a4a" stroke-width="0.6"/>
<line x1="24.6" y1="135.82" x2="26" y2="135.82" stroke="#4a4a4a" stroke-width="0.6"/>
<line x1="24.6" y1="134.91" x2="26" y2="134.91" stroke="#4a4a4a" stroke-width="0.6"/>
<line x1="23.8" y1="134.1" x2="26" y2="134.1" stroke="#4a4a4a" stroke-width="0.6"/>
<text x="29.6" y="144.6" font-size="8.8" stroke="#161213" stroke-width="0.26" textLength="17.8" lengthAdjust="spacingAndGlyphs">27%</text>
<text x="63.6" y="144.6" font-size="8.8" stroke="#161213" stroke-width="0.26" textLength="17.6" lengthAdjust="spacingAndGlyphs">71%</text>
<text x="22.4" y="217.8" font-size="8" stroke="#161213" stroke-width="0.26" textLength="6.9" lengthAdjust="spacingAndGlyphs">10</text>
<text x="29.6" y="212.8" font-size="5.4" stroke="#161213" stroke-width="0.26">0</text>
<text x="40.2" y="217.8" font-size="8" stroke="#161213" stroke-width="0.26" textLength="6.9" lengthAdjust="spacingAndGlyphs">10</text>
<text x="47.4" y="212.8" font-size="5.4" stroke="#161213" stroke-width="0.26">1</text>
<text x="58.3" y="217.8" font-size="8" stroke="#161213" stroke-width="0.26" textLength="6.9" lengthAdjust="spacingAndGlyphs">10</text>
<text x="65.5" y="212.8" font-size="5.4" stroke="#161213" stroke-width="0.26">2</text>
<text x="74.2" y="217.8" font-size="8" stroke="#161213" stroke-width="0.26" textLength="6.9" lengthAdjust="spacingAndGlyphs">10</text>
<text x="81.4" y="212.8" font-size="5.4" stroke="#161213" stroke-width="0.26">3</text>
<text x="95.2" y="217.8" font-size="8" stroke="#161213" stroke-width="0.26" textLength="6.9" lengthAdjust="spacingAndGlyphs">10</text>
<text x="102.4" y="212.8" font-size="5.4" stroke="#161213" stroke-width="0.26">4</text>
<text x="60.8" y="228.6" font-size="8.3" stroke="#161213" stroke-width="0.26" text-anchor="middle" textLength="29.6" lengthAdjust="spacingAndGlyphs">APC-Kit</text>
<g transform="translate(21,207.6) rotate(-90)">
<text x="0" y="0" font-size="7.6" stroke="#161213" stroke-width="0.26" textLength="7.2" lengthAdjust="spacingAndGlyphs">10</text>
<text x="7.5" y="-5.6" font-size="5.2" stroke="#161213" stroke-width="0.26">0</text>
</g>
<g transform="translate(21,189.6) rotate(-90)">
<text x="0" y="0" font-size="7.6" stroke="#161213" stroke-width="0.26" textLength="7.2" lengthAdjust="spacingAndGlyphs">10</text>
<text x="7.5" y="-5.6" font-size="5.2" stroke="#161213" stroke-width="0.26">1</text>
</g>
<g transform="translate(21,172.6) rotate(-90)">
<text x="0" y="0" font-size="7.6" stroke="#161213" stroke-width="0.26" textLength="7.2" lengthAdjust="spacingAndGlyphs">10</text>
<text x="7.5" y="-5.6" font-size="5.2" stroke="#161213" stroke-width="0.26">2</text>
</g>
<g transform="translate(21,156.6) rotate(-90)">
<text x="0" y="0" font-size="7.6" stroke="#161213" stroke-width="0.26" textLength="7.2" lengthAdjust="spacingAndGlyphs">10</text>
<text x="7.5" y="-5.6" font-size="5.2" stroke="#161213" stroke-width="0.26">3</text>
</g>
<g transform="translate(21,135.2) rotate(-90)">
<text x="0" y="0" font-size="7.6" stroke="#161213" stroke-width="0.26" textLength="7.2" lengthAdjust="spacingAndGlyphs">10</text>
<text x="7.5" y="-5.6" font-size="5.2" stroke="#161213" stroke-width="0.26">4</text>
</g>
<g transform="translate(10.2,171.3) rotate(-90)">
<text x="0" y="0" font-size="8.2" stroke="#161213" stroke-width="0.26" text-anchor="middle" textLength="38.7" lengthAdjust="spacingAndGlyphs">FITC-CD71</text>
</g>
<rect x="155.9" y="145.9" width="70.9" height="70.9" fill="#fdfafd"/>
<clipPath id="cpA"><rect x="155.9" y="145.9" width="70.9" height="70.9"/></clipPath>
<g clip-path="url(#cpA)"><g filter="url(#bm)">
<ellipse cx="200" cy="175" rx="6" ry="6" fill="#efe0ef"/>
<ellipse cx="192" cy="196" rx="6" ry="6" fill="#efe0ef"/>
<ellipse cx="212" cy="190" rx="5" ry="5" fill="#efe0ef"/>
<circle cx="158.8" cy="148" r="3.1" fill="#5a4096"/>
<circle cx="158.4" cy="147.6" r="1.5" fill="#7658ac"/>
<circle cx="162.8" cy="147.2" r="3.1" fill="#5a4096"/>
<circle cx="162.4" cy="146.8" r="1.5" fill="#7658ac"/>
<circle cx="166.8" cy="148.8" r="3.1" fill="#5a4096"/>
<circle cx="166.4" cy="148.4" r="1.5" fill="#7658ac"/>
<circle cx="170" cy="149.6" r="3.1" fill="#5a4096"/>
<circle cx="169.6" cy="149.2" r="1.5" fill="#7658ac"/>
<circle cx="157.2" cy="156" r="3.1" fill="#5a4096"/>
<circle cx="156.8" cy="155.6" r="1.5" fill="#7658ac"/>
<circle cx="166" cy="153.6" r="3.1" fill="#a97cb6"/>
<circle cx="166.2" cy="153.8" r="1.6" fill="#c9a8d0"/>
<circle cx="167.6" cy="159.2" r="3.1" fill="#5a4096"/>
<circle cx="167.2" cy="158.8" r="1.5" fill="#7658ac"/>
<circle cx="182.8" cy="152.8" r="3.1" fill="#5a4096"/>
<circle cx="182.4" cy="152.4" r="1.5" fill="#7658ac"/>
<circle cx="187.6" cy="154.4" r="3.1" fill="#a97cb6"/>
<circle cx="187.8" cy="154.6" r="1.6" fill="#c9a8d0"/>
<circle cx="193.2" cy="148.8" r="3.1" fill="#5a4096"/>
<circle cx="192.8" cy="148.4" r="1.5" fill="#7658ac"/>
<circle cx="197.2" cy="150.4" r="3.1" fill="#5a4096"/>
<circle cx="196.8" cy="150" r="1.5" fill="#7658ac"/>
<circle cx="194" cy="158.4" r="3.1" fill="#5a4096"/>
<circle cx="193.6" cy="158" r="1.5" fill="#7658ac"/>
<circle cx="200.4" cy="159.2" r="3.1" fill="#a97cb6"/>
<circle cx="200.6" cy="159.4" r="1.6" fill="#c9a8d0"/>
<circle cx="206.8" cy="159.2" r="3.1" fill="#5a4096"/>
<circle cx="206.4" cy="158.8" r="1.5" fill="#7658ac"/>
<circle cx="213.2" cy="148" r="3.1" fill="#5a4096"/>
<circle cx="212.8" cy="147.6" r="1.5" fill="#7658ac"/>
<circle cx="217.2" cy="148.8" r="3.1" fill="#5a4096"/>
<circle cx="216.8" cy="148.4" r="1.5" fill="#7658ac"/>
<circle cx="222" cy="150.4" r="3.1" fill="#a97cb6"/>
<circle cx="222.2" cy="150.6" r="1.6" fill="#c9a8d0"/>
<circle cx="224.4" cy="147.5" r="3.1" fill="#5a4096"/>
<circle cx="224" cy="147.1" r="1.5" fill="#7658ac"/>
<circle cx="221.2" cy="162.4" r="3.1" fill="#5a4096"/>
<circle cx="220.8" cy="162" r="1.5" fill="#7658ac"/>
<circle cx="224.4" cy="160" r="3.1" fill="#a97cb6"/>
<circle cx="224.6" cy="160.2" r="1.6" fill="#c9a8d0"/>
<circle cx="169.2" cy="175.2" r="3.3" fill="#b68cbf"/>
<circle cx="169.2" cy="175.2" r="1.8" fill="#d3b8d8"/>
<circle cx="160.4" cy="188" r="3.3" fill="#b68cbf"/>
<circle cx="160.4" cy="188" r="1.8" fill="#d3b8d8"/>
<circle cx="158" cy="200" r="3.1" fill="#5a4096"/>
<circle cx="157.6" cy="199.6" r="1.5" fill="#7658ac"/>
<circle cx="197.2" cy="165.6" r="3.1" fill="#a97cb6"/>
<circle cx="197.4" cy="165.8" r="1.6" fill="#c9a8d0"/>
<circle cx="198.8" cy="171.2" r="3.1" fill="#a97cb6"/>
<circle cx="199" cy="171.4" r="1.6" fill="#c9a8d0"/>
<circle cx="196.4" cy="175.2" r="3.1" fill="#5a4096"/>
<circle cx="196" cy="174.8" r="1.5" fill="#7658ac"/>
<circle cx="202" cy="173.6" r="3.1" fill="#a97cb6"/>
<circle cx="202.2" cy="173.8" r="1.6" fill="#c9a8d0"/>
<circle cx="205.2" cy="175.2" r="3.1" fill="#5a4096"/>
<circle cx="204.8" cy="174.8" r="1.5" fill="#7658ac"/>
<circle cx="206.8" cy="179.2" r="3.1" fill="#5a4096"/>
<circle cx="206.4" cy="178.8" r="1.5" fill="#7658ac"/>
<circle cx="210.8" cy="174.4" r="3.1" fill="#5a4096"/>
<circle cx="210.4" cy="174" r="1.5" fill="#7658ac"/>
<circle cx="210" cy="180.8" r="3.1" fill="#5a4096"/>
<circle cx="209.6" cy="180.4" r="1.5" fill="#7658ac"/>
<circle cx="202" cy="182.4" r="3.1" fill="#a97cb6"/>
<circle cx="202.2" cy="182.6" r="1.6" fill="#c9a8d0"/>
<circle cx="194.8" cy="181.6" r="3.1" fill="#5a4096"/>
<circle cx="194.4" cy="181.2" r="1.5" fill="#7658ac"/>
<circle cx="214" cy="181.6" r="3.1" fill="#a97cb6"/>
<circle cx="214.2" cy="181.8" r="1.6" fill="#c9a8d0"/>
<circle cx="215.6" cy="187.2" r="3.1" fill="#5a4096"/>
<circle cx="215.2" cy="186.8" r="1.5" fill="#7658ac"/>
<circle cx="209.2" cy="186.4" r="3.1" fill="#5a4096"/>
<circle cx="208.8" cy="186" r="1.5" fill="#7658ac"/>
<circle cx="205.2" cy="190.4" r="3.1" fill="#a97cb6"/>
<circle cx="205.4" cy="190.6" r="1.6" fill="#c9a8d0"/>
<circle cx="211.6" cy="193.6" r="3.1" fill="#5a4096"/>
<circle cx="211.2" cy="193.2" r="1.5" fill="#7658ac"/>
<circle cx="218" cy="192" r="3.1" fill="#a97cb6"/>
<circle cx="218.2" cy="192.2" r="1.6" fill="#c9a8d0"/>
<circle cx="223.6" cy="195.2" r="3.1" fill="#5a4096"/>
<circle cx="223.2" cy="194.8" r="1.5" fill="#7658ac"/>
<circle cx="225.2" cy="199.2" r="3.1" fill="#5a4096"/>
<circle cx="224.8" cy="198.8" r="1.5" fill="#7658ac"/>
<circle cx="219.6" cy="199.2" r="3.1" fill="#5a4096"/>
<circle cx="219.2" cy="198.8" r="1.5" fill="#7658ac"/>
<circle cx="214.8" cy="198.4" r="3.1" fill="#a97cb6"/>
<circle cx="215" cy="198.6" r="1.6" fill="#c9a8d0"/>
<circle cx="184.4" cy="178.4" r="3.1" fill="#a97cb6"/>
<circle cx="184.6" cy="178.6" r="1.6" fill="#c9a8d0"/>
<circle cx="179.6" cy="182.4" r="3.1" fill="#5a4096"/>
<circle cx="179.2" cy="182" r="1.5" fill="#7658ac"/>
<circle cx="182.8" cy="184.8" r="3.1" fill="#5a4096"/>
<circle cx="182.4" cy="184.4" r="1.5" fill="#7658ac"/>
<circle cx="178" cy="187.2" r="3.1" fill="#5a4096"/>
<circle cx="177.6" cy="186.8" r="1.5" fill="#7658ac"/>
<circle cx="182" cy="188.8" r="3.1" fill="#5a4096"/>
<circle cx="181.6" cy="188.4" r="1.5" fill="#7658ac"/>
<circle cx="176.4" cy="192" r="3.1" fill="#a97cb6"/>
<circle cx="176.6" cy="192.2" r="1.6" fill="#c9a8d0"/>
<circle cx="186" cy="189.6" r="3.1" fill="#a97cb6"/>
<circle cx="186.2" cy="189.8" r="1.6" fill="#c9a8d0"/>
<circle cx="188.4" cy="193.6" r="3.1" fill="#5a4096"/>
<circle cx="188" cy="193.2" r="1.5" fill="#7658ac"/>
<circle cx="192.4" cy="192" r="3.1" fill="#5a4096"/>
<circle cx="192" cy="191.6" r="1.5" fill="#7658ac"/>
<circle cx="190" cy="197.6" r="3.1" fill="#a97cb6"/>
<circle cx="190.2" cy="197.8" r="1.6" fill="#c9a8d0"/>
<circle cx="195.6" cy="196.8" r="3.1" fill="#a97cb6"/>
<circle cx="195.8" cy="197" r="1.6" fill="#c9a8d0"/>
<circle cx="193.2" cy="200.8" r="3.1" fill="#5a4096"/>
<circle cx="192.8" cy="200.4" r="1.5" fill="#7658ac"/>
<circle cx="198.8" cy="200.8" r="3.1" fill="#a97cb6"/>
<circle cx="199" cy="201" r="1.6" fill="#c9a8d0"/>
<circle cx="187.6" cy="204.8" r="3.1" fill="#a97cb6"/>
<circle cx="187.8" cy="205" r="1.6" fill="#c9a8d0"/>
<circle cx="191.6" cy="207.2" r="3.1" fill="#5a4096"/>
<circle cx="191.2" cy="206.8" r="1.5" fill="#7658ac"/>
<circle cx="188.4" cy="212.8" r="3.1" fill="#5a4096"/>
<circle cx="188" cy="212.4" r="1.5" fill="#7658ac"/>
<circle cx="178" cy="196.8" r="3.1" fill="#a97cb6"/>
<circle cx="178.2" cy="197" r="1.6" fill="#c9a8d0"/>
<circle cx="197.2" cy="205.6" r="3.3" fill="#b68cbf"/>
<circle cx="197.2" cy="205.6" r="1.8" fill="#d3b8d8"/>
<circle cx="202" cy="200" r="3.3" fill="#b68cbf"/>
<circle cx="202" cy="200" r="1.8" fill="#d3b8d8"/>
</g></g>
<rect x="155.9" y="145.9" width="70.9" height="70.9" fill="none" stroke="#3a3a3a" stroke-width="0.9"/>
<text x="211" y="210.9" font-size="5.4" stroke="#161213" stroke-width="0.08" textLength="8.8" lengthAdjust="spacingAndGlyphs">18 u</text>
<rect x="210.4" y="213" width="11.4" height="1.3" fill="#231f20"/>
<text x="263" y="12.7" font-size="16" stroke="#161213" stroke-width="0.45" font-weight="bold" textLength="9.9" lengthAdjust="spacingAndGlyphs">B</text>
<line x1="300.4" y1="12.8" x2="300.4" y2="95" stroke="#161213" stroke-width="1.1"/>
<line x1="299.85" y1="94.4" x2="369.2" y2="94.4" stroke="#161213" stroke-width="1.1"/>
<line x1="298.3" y1="14.6" x2="300.4" y2="14.6" stroke="#161213" stroke-width="0.8"/>
<line x1="298.3" y1="48" x2="300.4" y2="48" stroke="#161213" stroke-width="0.8"/>
<line x1="298.3" y1="81.1" x2="300.4" y2="81.1" stroke="#161213" stroke-width="0.8"/>
<line x1="310.4" y1="94.4" x2="310.4" y2="96.6" stroke="#161213" stroke-width="0.8"/>
<line x1="322.7" y1="94.4" x2="322.7" y2="96.6" stroke="#161213" stroke-width="0.8"/>
<line x1="334.9" y1="94.4" x2="334.9" y2="96.6" stroke="#161213" stroke-width="0.8"/>
<line x1="347.1" y1="94.4" x2="347.1" y2="96.6" stroke="#161213" stroke-width="0.8"/>
<line x1="359.5" y1="94.4" x2="359.5" y2="96.6" stroke="#161213" stroke-width="0.8"/>
<text x="297.6" y="17.6" font-size="7" stroke="#161213" stroke-width="0.26" text-anchor="end" textLength="7.8" lengthAdjust="spacingAndGlyphs">60</text>
<text x="298" y="51" font-size="7" stroke="#161213" stroke-width="0.26" text-anchor="end" textLength="7.8" lengthAdjust="spacingAndGlyphs">35</text>
<text x="298.6" y="84.2" font-size="7" stroke="#161213" stroke-width="0.26" text-anchor="end" textLength="7.6" lengthAdjust="spacingAndGlyphs">10</text>
<text x="297.8" y="97.2" font-size="7" stroke="#161213" stroke-width="0.26" text-anchor="end" textLength="3.8" lengthAdjust="spacingAndGlyphs">0</text>
<text x="310.2" y="103.1" font-size="7" stroke="#161213" stroke-width="0.26" text-anchor="middle" textLength="3.6" lengthAdjust="spacingAndGlyphs">0</text>
<text x="320.8" y="103.1" font-size="7" stroke="#161213" stroke-width="0.26" text-anchor="middle" textLength="10.4" lengthAdjust="spacingAndGlyphs">0.1</text>
<text x="333.4" y="103.1" font-size="7" stroke="#161213" stroke-width="0.26" text-anchor="middle" textLength="10.4" lengthAdjust="spacingAndGlyphs">0.2</text>
<text x="346.6" y="103.1" font-size="7" stroke="#161213" stroke-width="0.26" text-anchor="middle" textLength="10.4" lengthAdjust="spacingAndGlyphs">0.3</text>
<text x="359.2" y="103.1" font-size="7" stroke="#161213" stroke-width="0.26" text-anchor="middle" textLength="10.4" lengthAdjust="spacingAndGlyphs">0.4</text>
<text x="336.2" y="111.6" font-size="7.8" stroke="#161213" stroke-width="0.26" text-anchor="middle" textLength="40.7" lengthAdjust="spacingAndGlyphs">Epo, U/mL</text>
<g transform="translate(276.4,51.7) rotate(-90)">
<text x="0" y="0" font-size="8" stroke="#161213" stroke-width="0.26" text-anchor="middle" textLength="75.8" lengthAdjust="spacingAndGlyphs">HdT Incorporation,</text>
</g>
<g transform="translate(286.8,49.8) rotate(-90)">
<text x="-21.8" y="0" font-size="8" stroke="#161213" stroke-width="0.26" textLength="38.6" lengthAdjust="spacingAndGlyphs">cpm x 10</text>
<text x="17.2" y="-3.6" font-size="5.2" stroke="#161213" stroke-width="0.26">2</text>
</g>
<polyline points="307,87.6 311.4,76 320,53.4 333.3,38.4 358.6,27.6" fill="none" stroke="#161213" stroke-width="1.65" stroke-linejoin="round"/>
<circle cx="307" cy="87.6" r="2.75" fill="#fff" stroke="#161213" stroke-width="1.45"/>
<circle cx="311.4" cy="76" r="2.75" fill="#fff" stroke="#161213" stroke-width="1.45"/>
<circle cx="320" cy="53.4" r="2.75" fill="#fff" stroke="#161213" stroke-width="1.45"/>
<circle cx="333.3" cy="38.4" r="2.75" fill="#fff" stroke="#161213" stroke-width="1.45"/>
<circle cx="358.6" cy="27.6" r="2.75" fill="#fff" stroke="#161213" stroke-width="1.45"/>
<line x1="423.6" y1="12.8" x2="423.6" y2="95" stroke="#161213" stroke-width="1.1"/>
<line x1="423.05" y1="94.4" x2="494" y2="94.4" stroke="#161213" stroke-width="1.1"/>
<line x1="421.5" y1="15" x2="423.6" y2="15" stroke="#161213" stroke-width="0.8"/>
<line x1="421.5" y1="54" x2="423.6" y2="54" stroke="#161213" stroke-width="0.8"/>
<line x1="437.2" y1="94.4" x2="437.2" y2="96.6" stroke="#161213" stroke-width="0.8"/>
<line x1="451.2" y1="94.4" x2="451.2" y2="96.6" stroke="#161213" stroke-width="0.8"/>
<line x1="465.2" y1="94.4" x2="465.2" y2="96.6" stroke="#161213" stroke-width="0.8"/>
<line x1="479.6" y1="94.4" x2="479.6" y2="96.6" stroke="#161213" stroke-width="0.8"/>
<text x="421" y="17.6" font-size="7" stroke="#161213" stroke-width="0.26" text-anchor="end" textLength="8.4" lengthAdjust="spacingAndGlyphs">20</text>
<text x="421" y="56.6" font-size="7" stroke="#161213" stroke-width="0.26" text-anchor="end" textLength="8" lengthAdjust="spacingAndGlyphs">10</text>
<text x="421" y="97.2" font-size="7" stroke="#161213" stroke-width="0.26" text-anchor="end" textLength="3.8" lengthAdjust="spacingAndGlyphs">0</text>
<text x="436.9" y="103.1" font-size="7" stroke="#161213" stroke-width="0.26" text-anchor="middle" textLength="3.6" lengthAdjust="spacingAndGlyphs">0</text>
<text x="451.5" y="103.1" font-size="7" stroke="#161213" stroke-width="0.26" text-anchor="middle" textLength="10.4" lengthAdjust="spacingAndGlyphs">0.1</text>
<text x="465.8" y="103.1" font-size="7" stroke="#161213" stroke-width="0.26" text-anchor="middle" textLength="10.4" lengthAdjust="spacingAndGlyphs">0.3</text>
<text x="479.5" y="103.1" font-size="7" stroke="#161213" stroke-width="0.26" text-anchor="middle" textLength="3.6" lengthAdjust="spacingAndGlyphs">1</text>
<text x="455.8" y="111.6" font-size="7.8" stroke="#161213" stroke-width="0.26" text-anchor="middle" textLength="37.6" lengthAdjust="spacingAndGlyphs">Epo, U/mL</text>
<g transform="translate(410.4,55.0) rotate(-90)">
<text x="-37.4" y="0" font-size="8" stroke="#161213" stroke-width="0.26" textLength="71.4" lengthAdjust="spacingAndGlyphs">Cell number, x 10</text>
<text x="34.5" y="-4" font-size="5.6" stroke="#161213" stroke-width="0.26">5</text>
</g>
<line x1="465" y1="38.2" x2="465" y2="50" stroke="#161213" stroke-width="0.9"/>
<line x1="462.4" y1="38.2" x2="467.6" y2="38.2" stroke="#161213" stroke-width="0.9"/>
<line x1="462.4" y1="50" x2="467.6" y2="50" stroke="#161213" stroke-width="0.9"/>
<line x1="478.6" y1="18" x2="478.6" y2="29.2" stroke="#161213" stroke-width="0.9"/>
<line x1="476" y1="18" x2="481.2" y2="18" stroke="#161213" stroke-width="0.9"/>
<line x1="476" y1="29.2" x2="481.2" y2="29.2" stroke="#161213" stroke-width="0.9"/>
<polyline points="437.6,88.6 451.4,49.4 465,44 478.6,23.6" fill="none" stroke="#161213" stroke-width="1.65" stroke-linejoin="round"/>
<circle cx="437.6" cy="88.6" r="2.75" fill="#fff" stroke="#161213" stroke-width="1.45"/>
<circle cx="451.4" cy="49.4" r="2.75" fill="#fff" stroke="#161213" stroke-width="1.45"/>
<circle cx="465" cy="44" r="2.75" fill="#fff" stroke="#161213" stroke-width="1.45"/>
<circle cx="478.6" cy="23.6" r="2.75" fill="#fff" stroke="#161213" stroke-width="1.45"/>
<polygon points="270.7,140.2 299.3,137 299.3,190 270.7,211.6" fill="#fff"/>
<line x1="270.7" y1="140.2" x2="270.7" y2="211.9" stroke="#3c3c3c" stroke-width="0.95"/>
<line x1="270.6" y1="140.2" x2="299.4" y2="137" stroke="#3c3c3c" stroke-width="0.95"/>
<line x1="285.2" y1="138.6" x2="285.2" y2="190" stroke="#3c3c3c" stroke-width="0.95"/>
<line x1="299.3" y1="137" x2="299.3" y2="190" stroke="#3c3c3c" stroke-width="0.95"/>
<polygon points="336.5,218.4 353.5,218.6 378.5,208.2 364,206.6 345,207" fill="#fff"/>
<polygon points="307.3,211 307.5,200 307.8,185 308.2,172.7 309,172 309.9,171 310.8,172.5 311.6,171.6 312.2,172.8 312.8,170.4 313.6,172 314.5,173.3 315.2,172 315.7,171 316.3,171.5 316.8,169.8 317.3,172 317.7,173.9 318.4,172.5 319.2,175 319.8,180 320.4,186 321,191 322.1,197.5 323.8,199.2 325.5,201.6 326.7,200.5 328,199.8 330,199.2 332,198.8 334,199.5 336,201 338,203 340,204 344,204.5 346.5,199 347.5,193.8 349,192.5 350.2,190 351.3,188.8 352.2,189.5 353,184.5 354,185 355,181 355.7,182 356.3,179.5 357.2,180.5 358.2,182 359,184 360,185 361,190 362,195 362.5,197.5 363.2,201 363.8,205 366,205.3 368,205.8 371,206 371,206.4 307,210.5" fill="#1b1b1b" stroke="#151515" stroke-width="0.75" stroke-linejoin="round"/>
<polygon points="292.3,211 292.5,200 292.6,192 293.5,186 294.8,182 295.8,183 296.6,180.8 297.5,181.5 298.9,179.1 300,178.5 301,179 302.4,176.2 303.3,173.3 304,177 304.7,179.7 305.5,178.5 306.4,181.4 307.5,182 310,190 315,200 320,205 326,207 331,207 333.2,205 334.2,203 335.2,201.8 336.2,200 337.3,198.6 338.5,197.5 339.8,196 341,194.5 342.3,192.6 343.5,192 344.8,191 345.7,188.4 346.5,190.5 347.4,192.6 348.2,194.5 349,196.8 350,203 351,208 351.7,212 351.7,212.3 292,212" fill="#8d8d8d" stroke="#151515" stroke-width="0.75" stroke-linejoin="round"/>
<polygon points="271.3,210.5 272,209.5 272.8,207 273.5,205 274.3,201 275,198 275.8,195.8 276.6,193 277.4,190.4 278.5,189.5 279.7,188 280.5,185.5 281.2,183.5 282.2,182.5 283,179.5 283.5,180.4 284.3,177 285,182 285.8,183.5 286.6,185 287.4,182 288.2,180.4 289,181.5 289.7,183.5 290.5,186 291.2,188 292,190 292.6,195 293,205 294,209.5 296,210.6 298,209.6 299,211 300.5,209.6 302,211.1 303.5,209.7 305,211.2 306.5,209.5 308,211 309.5,209.8 311,211.2 312,211.2 313.2,209 314.5,207.8 315.8,209.2 317,209.5 318.7,206.1 320.4,205.3 322.1,204.4 323.4,205.5 324.6,205.3 325.6,204 326.7,202.7 327.5,201 328.5,199.5 329.3,199 330.1,198.3 330.8,199.5 331.4,200.5 332.2,203 333,206 333.8,209 334.6,211.5 335.5,214 336.4,216.2 337.3,217.6 337.3,217.8 271,211.6" fill="#d5d5d5" stroke="#151515" stroke-width="0.75" stroke-linejoin="round"/>
<polyline points="270.7,211.6 353.5,218.6 378.5,208.2 364.5,206.8" fill="none" stroke="#111" stroke-width="0.9" stroke-linejoin="round"/>
<polyline points="337.3,216.9 342.5,213.4 351.5,212.8 357.5,209.4 378.5,208.2" fill="none" stroke="#111" stroke-width="0.75" stroke-linejoin="round"/>
<text x="321.8" y="185.4" font-size="6.6" stroke="#161213" stroke-width="0.26" textLength="19.4" lengthAdjust="spacingAndGlyphs">No Epo</text>
<text x="334" y="169.2" font-size="6.6" stroke="#161213" stroke-width="0.26" textLength="23.6" lengthAdjust="spacingAndGlyphs">0.1U/mL</text>
<text x="350.2" y="177.3" font-size="6.6" stroke="#161213" stroke-width="0.26" textLength="17.7" lengthAdjust="spacingAndGlyphs">1U/mL</text>
<line x1="328.5" y1="187.8" x2="328.5" y2="196.5" stroke="#161213" stroke-width="0.8"/>
<polygon points="327.3,195.3 329.7,195.3 328.5,198.6" fill="#161213"/>
<line x1="345.8" y1="172.6" x2="345.8" y2="185.2" stroke="#161213" stroke-width="0.8"/>
<polygon points="344.6,184 347,184 345.8,187.6" fill="#161213"/>
<text x="320.7" y="214.2" font-size="6.2" stroke="#333" stroke-width="0.26" fill="#333" textLength="11.8" lengthAdjust="spacingAndGlyphs">34%</text>
<text x="336" y="206.6" font-size="6.2" stroke="#555" stroke-width="0.26" fill="#555" textLength="10.4" lengthAdjust="spacingAndGlyphs">38%</text>
<text x="349.6" y="200.2" font-size="6.2" stroke="#fff" stroke-width="0.26" fill="#fff" textLength="12.2" lengthAdjust="spacingAndGlyphs">39%</text>
<text x="321.4" y="130.9" font-size="7.9" stroke="#161213" stroke-width="0.32" text-anchor="middle" textLength="46.6" lengthAdjust="spacingAndGlyphs">EPO, 1.5 hrs</text>
<g transform="translate(267.9,177.4) rotate(-90)">
<text x="0" y="0" font-size="7.8" stroke="#161213" stroke-width="0.26" text-anchor="middle" textLength="28" lengthAdjust="spacingAndGlyphs">EVENTS</text>
</g>
<text x="309.3" y="230.5" font-size="7" stroke="#161213" stroke-width="0.34" text-anchor="middle" textLength="38" lengthAdjust="spacingAndGlyphs">FITC-BRDU</text>
<polygon points="410.6,141.3 439,137.6 439,190 410.6,214.8" fill="#fff"/>
<line x1="410.6" y1="141.3" x2="410.6" y2="215.1" stroke="#3c3c3c" stroke-width="0.95"/>
<line x1="410.5" y1="141.3" x2="439.1" y2="137.6" stroke="#3c3c3c" stroke-width="0.95"/>
<line x1="425" y1="140.3" x2="425" y2="188" stroke="#3c3c3c" stroke-width="0.95"/>
<line x1="439" y1="137.6" x2="439" y2="190" stroke="#3c3c3c" stroke-width="0.95"/>
<polygon points="478,217 491,217.7 516.5,208.5 503.5,206.6 490,207" fill="#fff"/>
<polygon points="448.4,200 449.3,198.5 450.2,197.4 451.3,196.4 452.5,195.1 453.6,191 454.8,192.8 456,188.8 457.2,186 458,186.5 459,183.3 459.8,184.5 460.4,186 461.5,187 462.5,188.7 463.4,189.5 464.3,190.5 465.6,189.8 467,191 468.5,192.5 470,195 472,198 476,201 482,200 483.8,191 484.9,183.3 485.8,178 486.7,173.5 487.4,169 488,165.4 488.5,160.5 489,156.5 489.6,151 490.1,147.5 490.8,144 491.5,149.3 492,153 492.6,156.5 493.3,161 493.9,165.4 494.4,171 494.8,176.2 495.3,182 495.7,188.7 496.3,192.5 496.9,195.9 498.3,200.4 499.6,201.8 501,203 502.3,204.9 505.8,206.7 509,207.2 513,207.6 513,207.9 448,206" fill="#1b1b1b" stroke="#151515" stroke-width="0.75" stroke-linejoin="round"/>
<polygon points="435.5,205 435.7,196.3 436.5,193.5 437.4,191.6 438.5,189.5 439.3,187.6 439.7,188.7 440.9,189.9 442,187 442.6,186 443.2,184.7 444.4,185.8 445.5,189.3 446.7,194 447.8,197.4 449,199.7 452,204 456,207 462,208.5 470,208 473.5,200 475,188.7 476,178 477,173 477.8,169.9 478.6,168 479.5,166.3 480.2,167.6 480.8,167.2 481.5,169 482.2,170.8 483,174 483.7,178 484.3,183 484.9,188.7 485.4,193.5 485.8,197.7 486.7,200.5 487.6,203 490.3,206.6 491,211 491,212.5 435,211.5" fill="#8d8d8d" stroke="#151515" stroke-width="0.75" stroke-linejoin="round"/>
<polygon points="411,214 412,213.6 413,212 413.7,211.9 414.5,211 415.4,211.3 416,208.5 416.6,206.7 417.7,205.5 418.3,207 418.9,207.3 419.8,206.5 420.6,207.3 421.5,205 422.4,203.2 423.5,199.7 424.1,197.5 424.7,195.1 425.3,191 425.8,187 426.4,188.5 427,188.2 427.8,186.5 428.7,184.7 429.3,185.5 429.9,186.4 430.4,185.5 431,185.3 431.6,186.5 432.2,187.6 433.4,189.9 434.5,192.8 435.7,195.7 436.8,198.6 438,200.9 439.7,206.7 441,209.5 442,211.3 443.5,212.3 445,211.2 446.5,212.5 448,211 449.5,212.4 451,211.1 452.5,212.5 454,211 455.5,212.4 457,211.3 458.5,211.8 460,210 461.5,209.5 463,208 464.2,204 465.3,198.4 466.3,194.5 467.4,191 468.4,185.8 469.5,181.6 470.5,180 471.6,183.7 472.6,190 473.7,197.4 474.7,204.7 476.3,211 477.9,215.3 478.6,216.5 478.8,216.8 410.8,214.8" fill="#d5d5d5" stroke="#151515" stroke-width="0.75" stroke-linejoin="round"/>
<polyline points="410.6,214.8 491,217.7 516.5,208.5 503.6,206.7" fill="none" stroke="#111" stroke-width="0.9" stroke-linejoin="round"/>
<polyline points="478.8,216.6 483,214.3 491,213 495,210.2 516.5,208.5" fill="none" stroke="#111" stroke-width="0.75" stroke-linejoin="round"/>
<text x="446.3" y="172.4" font-size="6.6" stroke="#161213" stroke-width="0.26" textLength="21" lengthAdjust="spacingAndGlyphs">No Epo</text>
<text x="463.4" y="158.2" font-size="6.6" stroke="#161213" stroke-width="0.26" textLength="22.8" lengthAdjust="spacingAndGlyphs">0.1U/mL</text>
<text x="481.3" y="139.8" font-size="6.6" stroke="#161213" stroke-width="0.26" textLength="17.6" lengthAdjust="spacingAndGlyphs">1U/mL</text>
<polyline points="463.8,174.6 467.6,181" fill="none" stroke="#161213" stroke-width="1" stroke-linejoin="round"/>
<polyline points="476.4,160.8 477.9,168.6" fill="none" stroke="#161213" stroke-width="1" stroke-linejoin="round"/>
<text x="463.4" y="213.2" font-size="6.2" stroke="#333" stroke-width="0.26" fill="#333" textLength="11.4" lengthAdjust="spacingAndGlyphs">36%</text>
<text x="476.2" y="202.2" font-size="6.2" stroke="#444" stroke-width="0.26" fill="#444" textLength="8.4" lengthAdjust="spacingAndGlyphs">56%</text>
<text x="485" y="190.9" font-size="6.2" stroke="#fff" stroke-width="0.26" fill="#fff" textLength="9.8" lengthAdjust="spacingAndGlyphs">65%</text>
<text x="459.2" y="131.1" font-size="7.9" stroke="#161213" stroke-width="0.32" text-anchor="middle" textLength="40.8" lengthAdjust="spacingAndGlyphs">EPO, 3 hrs</text>
<g transform="translate(408.7,177) rotate(-90)">
<text x="0" y="0" font-size="7.8" stroke="#161213" stroke-width="0.26" text-anchor="middle" textLength="28" lengthAdjust="spacingAndGlyphs">EVENTS</text>
</g>
<text x="450.7" y="230.5" font-size="7" stroke="#161213" stroke-width="0.34" text-anchor="middle" textLength="38.1" lengthAdjust="spacingAndGlyphs">FITC-BRDU</text>
<text x="1.6" y="261.8" font-size="16" stroke="#161213" stroke-width="0.45" font-weight="bold" textLength="10.5" lengthAdjust="spacingAndGlyphs">C</text>
<line x1="130.5" y1="277.3" x2="130.5" y2="460" stroke="#8a8a8a" stroke-width="1"/>
<text x="30.3" y="278.2" font-size="10.8" stroke="#161213" stroke-width="0.26" textLength="12.9" lengthAdjust="spacingAndGlyphs">Kit</text>
<text x="43.8" y="273.4" font-size="8.2" stroke="#161213" stroke-width="0.26" textLength="13.5" lengthAdjust="spacingAndGlyphs">pos</text>
<text x="59.2" y="278.2" font-size="10.8" stroke="#161213" stroke-width="0.26" textLength="26.3" lengthAdjust="spacingAndGlyphs">CD71</text>
<text x="86.5" y="273.3" font-size="8.2" stroke="#161213" stroke-width="0.26" textLength="16.2" lengthAdjust="spacingAndGlyphs">high</text>
<text x="169.3" y="277.7" font-size="10.8" stroke="#161213" stroke-width="0.26" textLength="12.9" lengthAdjust="spacingAndGlyphs">Kit</text>
<text x="185.6" y="272.9" font-size="8.2" stroke="#161213" stroke-width="0.26" textLength="12.4" lengthAdjust="spacingAndGlyphs">neg</text>
<text x="200.7" y="277.7" font-size="10.8" stroke="#161213" stroke-width="0.26" textLength="26.3" lengthAdjust="spacingAndGlyphs">CD71</text>
<text x="228.2" y="272.8" font-size="8.2" stroke="#161213" stroke-width="0.26" textLength="16.5" lengthAdjust="spacingAndGlyphs">high</text>
<g filter="url(#b1)">
<rect x="39.06" y="305.93" width="0.9" height="0.9" fill="#d8b0b0"/>
<rect x="37.81" y="308.99" width="0.9" height="0.9" fill="#c8a0a8"/>
<rect x="42.31" y="305.89" width="0.9" height="0.9" fill="#c8a0a8"/>
<rect x="48.92" y="303.07" width="0.9" height="0.9" fill="#c8a0a8"/>
<rect x="46.22" y="308.22" width="0.9" height="0.9" fill="#d8b0b0"/>
<rect x="40.1" y="303.08" width="0.9" height="0.9" fill="#e0c8c8"/>
<rect x="48.79" y="304.59" width="0.9" height="0.9" fill="#d8b0b0"/>
<rect x="46.04" y="305.88" width="0.9" height="0.9" fill="#d8b0b0"/>
<rect x="41.45" y="305.53" width="0.9" height="0.9" fill="#e0c8c8"/>
<rect x="46.21" y="307.7" width="0.9" height="0.9" fill="#b09090"/>
<rect x="44.53" y="309.28" width="0.9" height="0.9" fill="#e0c8c8"/>
<rect x="41.15" y="303.39" width="0.9" height="0.9" fill="#c8a0a8"/>
<rect x="38.03" y="304.43" width="0.9" height="0.9" fill="#d8b0b0"/>
<rect x="41.09" y="303.6" width="0.9" height="0.9" fill="#b09090"/>
<rect x="42.68" y="303.05" width="0.9" height="0.9" fill="#b09090"/>
<rect x="49.23" y="306.11" width="0.9" height="0.9" fill="#e0c8c8"/>
<rect x="39.92" y="302.72" width="0.9" height="0.9" fill="#e0c8c8"/>
<rect x="48.17" y="305.44" width="0.9" height="0.9" fill="#c8a0a8"/>
<rect x="44.42" y="305.12" width="0.9" height="0.9" fill="#e0c8c8"/>
<rect x="44.19" y="307.14" width="0.9" height="0.9" fill="#b09090"/>
<rect x="45.59" y="305.26" width="0.9" height="0.9" fill="#c8a0a8"/>
<rect x="47.3" y="305.47" width="0.9" height="0.9" fill="#e0c8c8"/>
<rect x="39.75" y="305.62" width="0.9" height="0.9" fill="#c8a0a8"/>
<rect x="44.21" y="307.35" width="0.9" height="0.9" fill="#d8b0b0"/>
<rect x="40.04" y="301.29" width="0.9" height="0.9" fill="#c8a0a8"/>
<rect x="47.36" y="307.42" width="0.9" height="0.9" fill="#e0c8c8"/>
<rect x="49.66" y="303.38" width="0.9" height="0.9" fill="#b09090"/>
<rect x="40.86" y="307.9" width="0.9" height="0.9" fill="#b09090"/>
<rect x="38.81" y="306.92" width="0.9" height="0.9" fill="#c8a0a8"/>
<rect x="40.33" y="307.56" width="0.9" height="0.9" fill="#c8a0a8"/>
<polygon points="49.5,303.6 52,301 56.2,299.6 61.2,299.6 64.6,301.4 65.9,305.3 65.2,309.5 63.4,312.8 60.4,315.4 57.9,316.4 55.4,314.7 52.8,311.3 50.3,307.8" fill="#34408e"/>
<polygon points="51.5,304 53.5,302 56.5,301 61,301 63.6,302.6 64.5,305.5 63.8,309 62,312 59.5,314 57.5,314.5 55.5,312.5 53.5,310 52,307" fill="#4380cf"/>
<ellipse cx="58.6" cy="306" rx="4.6" ry="4" fill="#54a2de"/>
<ellipse cx="58.9" cy="305.4" rx="2.6" ry="2.2" fill="#62c0bc"/>
</g>
<rect x="64.99" y="304.3" width="0.9" height="0.9" fill="#3a3a80"/>
<rect x="59.79" y="300.39" width="0.9" height="0.9" fill="#3a3a80"/>
<rect x="50.6" y="306.29" width="0.9" height="0.9" fill="#3a3a80"/>
<rect x="58.66" y="316.18" width="0.9" height="0.9" fill="#8a6a50"/>
<rect x="63.7" y="302.67" width="0.9" height="0.9" fill="#b08060"/>
<rect x="50.84" y="307.72" width="0.9" height="0.9" fill="#50407a"/>
<rect x="60.25" y="314.62" width="0.9" height="0.9" fill="#c09070"/>
<rect x="55.82" y="315.96" width="0.9" height="0.9" fill="#8a6a50"/>
<rect x="51.38" y="312.63" width="0.9" height="0.9" fill="#50407a"/>
<rect x="58.01" y="317.21" width="0.9" height="0.9" fill="#b08060"/>
<rect x="53.09" y="312.88" width="0.9" height="0.9" fill="#c09070"/>
<rect x="51.35" y="309.55" width="0.9" height="0.9" fill="#8a6a50"/>
<rect x="51.77" y="303.67" width="0.9" height="0.9" fill="#2e3a88"/>
<rect x="52.59" y="303.74" width="0.9" height="0.9" fill="#50407a"/>
<rect x="66.61" y="307.45" width="0.9" height="0.9" fill="#b08060"/>
<rect x="51.82" y="304.28" width="0.9" height="0.9" fill="#8a6a50"/>
<rect x="49.71" y="312.16" width="0.9" height="0.9" fill="#2e3a88"/>
<rect x="61.61" y="299.53" width="0.9" height="0.9" fill="#8a6a50"/>
<rect x="61.88" y="301.74" width="0.9" height="0.9" fill="#50407a"/>
<rect x="53.13" y="312.6" width="0.9" height="0.9" fill="#3a3a80"/>
<rect x="49.53" y="304.8" width="0.9" height="0.9" fill="#b08060"/>
<rect x="49.06" y="308.74" width="0.9" height="0.9" fill="#3a3a80"/>
<rect x="63.14" y="301.63" width="0.9" height="0.9" fill="#3a3a80"/>
<rect x="56" y="301.44" width="0.9" height="0.9" fill="#8a6a50"/>
<rect x="50.27" y="304.69" width="0.9" height="0.9" fill="#c09070"/>
<rect x="50.89" y="307.71" width="0.9" height="0.9" fill="#50407a"/>
<rect x="52.94" y="313.25" width="0.9" height="0.9" fill="#c09070"/>
<rect x="58.95" y="314.57" width="0.9" height="0.9" fill="#8a6a50"/>
<rect x="63.92" y="305.57" width="0.9" height="0.9" fill="#2e3a88"/>
<rect x="65.02" y="302.94" width="0.9" height="0.9" fill="#3a3a80"/>
<rect x="57.41" y="316.02" width="0.9" height="0.9" fill="#c09070"/>
<rect x="52.26" y="300.52" width="0.9" height="0.9" fill="#3a3a80"/>
<rect x="63.67" y="312.43" width="0.9" height="0.9" fill="#3a3a80"/>
<rect x="65.5" y="304.84" width="0.9" height="0.9" fill="#8a6a50"/>
<rect x="51.35" y="303.82" width="0.9" height="0.9" fill="#c09070"/>
<rect x="63.56" y="312.61" width="0.9" height="0.9" fill="#8a6a50"/>
<rect x="52.06" y="312.87" width="0.9" height="0.9" fill="#b08060"/>
<rect x="61.26" y="314.32" width="0.9" height="0.9" fill="#50407a"/>
<rect x="65.44" y="303.32" width="0.9" height="0.9" fill="#b08060"/>
<rect x="56.38" y="301.03" width="0.9" height="0.9" fill="#3a3a80"/>
<rect x="62.62" y="315.46" width="0.9" height="0.9" fill="#3a3a80"/>
<rect x="65.88" y="304.35" width="0.9" height="0.9" fill="#c09070"/>
<rect x="62.69" y="314.04" width="0.9" height="0.9" fill="#3a3a80"/>
<rect x="64.48" y="304.56" width="0.9" height="0.9" fill="#3a3a80"/>
<rect x="52.49" y="302.33" width="0.9" height="0.9" fill="#8a6a50"/>
<rect x="54.69" y="314.49" width="0.9" height="0.9" fill="#3a3a80"/>
<rect x="53.09" y="302.97" width="0.9" height="0.9" fill="#50407a"/>
<rect x="57.2" y="300.95" width="0.9" height="0.9" fill="#b08060"/>
<rect x="51.37" y="305.7" width="0.9" height="0.9" fill="#50407a"/>
<rect x="57.02" y="315.7" width="0.9" height="0.9" fill="#50407a"/>
<rect x="65.7" y="309.3" width="0.9" height="0.9" fill="#8a6a50"/>
<rect x="54.32" y="314.07" width="0.9" height="0.9" fill="#b08060"/>
<rect x="63.74" y="312.99" width="0.9" height="0.9" fill="#b08060"/>
<rect x="64.69" y="314.16" width="0.9" height="0.9" fill="#3a3a80"/>
<rect x="51.95" y="301.53" width="0.9" height="0.9" fill="#50407a"/>
<rect x="49.67" y="304.71" width="0.9" height="0.9" fill="#3a3a80"/>
<rect x="57.46" y="315.13" width="0.9" height="0.9" fill="#8a6a50"/>
<rect x="51.31" y="311.03" width="0.9" height="0.9" fill="#50407a"/>
<rect x="63.75" y="304.9" width="0.9" height="0.9" fill="#8a6a50"/>
<rect x="51.89" y="311.55" width="0.9" height="0.9" fill="#c09070"/>
<rect x="63.74" y="302.88" width="0.9" height="0.9" fill="#5aa8e8"/>
<rect x="57.31" y="307.6" width="0.9" height="0.9" fill="#3a6ac8"/>
<rect x="57.32" y="311.26" width="0.9" height="0.9" fill="#60c0c8"/>
<rect x="54.23" y="306.66" width="0.9" height="0.9" fill="#2e48a0"/>
<rect x="54.62" y="308.43" width="0.9" height="0.9" fill="#3a6ac8"/>
<rect x="62.12" y="307.78" width="0.9" height="0.9" fill="#3a6ac8"/>
<rect x="60.54" y="303.56" width="0.9" height="0.9" fill="#5aa8e8"/>
<rect x="61.95" y="312.56" width="0.9" height="0.9" fill="#2e48a0"/>
<rect x="61.14" y="303.28" width="0.9" height="0.9" fill="#3a6ac8"/>
<rect x="59.35" y="310.2" width="0.9" height="0.9" fill="#3a6ac8"/>
<rect x="59" y="303.63" width="0.9" height="0.9" fill="#5aa8e8"/>
<rect x="60.31" y="307.75" width="0.9" height="0.9" fill="#5aa8e8"/>
<rect x="58.22" y="305.52" width="0.9" height="0.9" fill="#60c0c8"/>
<rect x="62.1" y="312.24" width="0.9" height="0.9" fill="#2e48a0"/>
<rect x="53.08" y="306.32" width="0.9" height="0.9" fill="#2e48a0"/>
<rect x="53.6" y="309.65" width="0.9" height="0.9" fill="#3a6ac8"/>
<rect x="54.23" y="311.81" width="0.9" height="0.9" fill="#60c0c8"/>
<rect x="52.44" y="310.13" width="0.9" height="0.9" fill="#5aa8e8"/>
<rect x="56.27" y="313.12" width="0.9" height="0.9" fill="#5aa8e8"/>
<rect x="53.45" y="310.29" width="0.9" height="0.9" fill="#60c0c8"/>
<rect x="61.35" y="312.29" width="0.9" height="0.9" fill="#5aa8e8"/>
<rect x="55.5" y="302.4" width="0.9" height="0.9" fill="#2e48a0"/>
<rect x="57.36" y="301.33" width="0.9" height="0.9" fill="#3a6ac8"/>
<rect x="52.25" y="313.58" width="0.9" height="0.9" fill="#3a6ac8"/>
<rect x="59.43" y="303.18" width="0.9" height="0.9" fill="#60c0c8"/>
<rect x="55.01" y="311.62" width="0.9" height="0.9" fill="#5aa8e8"/>
<rect x="52.23" y="313.04" width="0.9" height="0.9" fill="#3a6ac8"/>
<rect x="55.14" y="311.89" width="0.9" height="0.9" fill="#2e48a0"/>
<rect x="58.27" y="310.13" width="0.9" height="0.9" fill="#5aa8e8"/>
<rect x="56.21" y="302.22" width="0.9" height="0.9" fill="#3a6ac8"/>
<rect x="52.54" y="302.6" width="0.9" height="0.9" fill="#2e48a0"/>
<rect x="59.03" y="310.9" width="0.9" height="0.9" fill="#5aa8e8"/>
<rect x="53.46" y="306.27" width="0.9" height="0.9" fill="#3a6ac8"/>
<rect x="58.5" y="303.96" width="0.9" height="0.9" fill="#3a6ac8"/>
<rect x="53.77" y="308.45" width="0.9" height="0.9" fill="#2e48a0"/>
<rect x="53.97" y="311.74" width="0.9" height="0.9" fill="#2e48a0"/>
<rect x="60.33" y="308.76" width="0.9" height="0.9" fill="#5aa8e8"/>
<rect x="56.75" y="313.24" width="0.9" height="0.9" fill="#60c0c8"/>
<rect x="56.06" y="304.12" width="0.9" height="0.9" fill="#60c0c8"/>
<rect x="60.59" y="311.96" width="0.9" height="0.9" fill="#60c0c8"/>
<rect x="61.78" y="312.02" width="0.9" height="0.9" fill="#5aa8e8"/>
<rect x="55.9" y="302.91" width="0.9" height="0.9" fill="#60c0c8"/>
<rect x="54.99" y="306.49" width="0.9" height="0.9" fill="#5aa8e8"/>
<rect x="56.37" y="307.9" width="0.9" height="0.9" fill="#5aa8e8"/>
<rect x="55.89" y="303.61" width="0.9" height="0.9" fill="#5aa8e8"/>
<rect x="54.71" y="306.47" width="0.9" height="0.9" fill="#2e48a0"/>
<rect x="61.32" y="313.18" width="0.9" height="0.9" fill="#5aa8e8"/>
<rect x="61.71" y="312.5" width="0.9" height="0.9" fill="#5aa8e8"/>
<rect x="52.41" y="309.34" width="0.9" height="0.9" fill="#60c0c8"/>
<rect x="63.02" y="309.11" width="0.9" height="0.9" fill="#5aa8e8"/>
<rect x="59.46" y="304.26" width="0.9" height="0.9" fill="#5aa8e8"/>
<rect x="57.2" y="313.36" width="0.9" height="0.9" fill="#60c0c8"/>
<rect x="53.36" y="305.52" width="0.9" height="0.9" fill="#3a6ac8"/>
<rect x="53.44" y="308.73" width="0.9" height="0.9" fill="#60c0c8"/>
<rect x="53.01" y="308.67" width="0.9" height="0.9" fill="#3a6ac8"/>
<rect x="57.28" y="307.65" width="0.9" height="0.9" fill="#60c0c8"/>
<rect x="62.99" y="308.51" width="0.9" height="0.9" fill="#60c0c8"/>
<rect x="54.92" y="302.14" width="0.9" height="0.9" fill="#60c0c8"/>
<rect x="62.08" y="308.93" width="0.9" height="0.9" fill="#3a6ac8"/>
<rect x="59.8" y="303.62" width="0.9" height="0.9" fill="#60c0c8"/>
<rect x="58.71" y="318.23" width="0.9" height="0.9" fill="#9080b0"/>
<rect x="56.29" y="317.17" width="0.9" height="0.9" fill="#c0b0c8"/>
<rect x="56.54" y="317.34" width="0.9" height="0.9" fill="#c0b0c8"/>
<rect x="56.04" y="319.1" width="0.9" height="0.9" fill="#b0a0c0"/>
<rect x="57.85" y="321.47" width="0.9" height="0.9" fill="#c0b0c8"/>
<rect x="58.95" y="318.9" width="0.9" height="0.9" fill="#c8a090"/>
<rect x="56.87" y="316.89" width="0.9" height="0.9" fill="#c0b0c8"/>
<rect x="57.03" y="316.11" width="0.9" height="0.9" fill="#b0a0c0"/>
<rect x="61.3" y="319.24" width="0.9" height="0.9" fill="#9080b0"/>
<rect x="57.33" y="317.72" width="0.9" height="0.9" fill="#c8a090"/>
<rect x="58.26" y="317.48" width="0.9" height="0.9" fill="#b0a0c0"/>
<rect x="52.03" y="319.74" width="0.9" height="0.9" fill="#c0b0c8"/>
<rect x="57.21" y="317.92" width="0.9" height="0.9" fill="#9080b0"/>
<rect x="58.86" y="319.28" width="0.9" height="0.9" fill="#9080b0"/>
<rect x="59.04" y="320.75" width="0.9" height="0.9" fill="#b0a0c0"/>
<rect x="57.77" y="320.32" width="0.9" height="0.9" fill="#c8a090"/>
<line x1="24.6" y1="284.3" x2="95.8" y2="284.3" stroke="#8a8a8a" stroke-width="0.8"/>
<line x1="95.8" y1="284.3" x2="95.8" y2="356.2" stroke="#8a8a8a" stroke-width="0.8"/>
<line x1="46.1" y1="284.3" x2="46.1" y2="356.2" stroke="#999" stroke-width="0.8"/>
<line x1="24.6" y1="333.4" x2="95.8" y2="333.4" stroke="#666" stroke-width="0.9"/>
<line x1="24.6" y1="284.3" x2="24.6" y2="356.6" stroke="#7a7a7a" stroke-width="0.8"/>
<line x1="24.2" y1="356.2" x2="95.8" y2="356.2" stroke="#7a7a7a" stroke-width="0.8"/>
<line x1="24.6" y1="356.2" x2="24.6" y2="358.4" stroke="#666" stroke-width="0.6"/>
<line x1="29.96" y1="356.2" x2="29.96" y2="357.6" stroke="#666" stroke-width="0.6"/>
<line x1="33.09" y1="356.2" x2="33.09" y2="357.6" stroke="#666" stroke-width="0.6"/>
<line x1="35.32" y1="356.2" x2="35.32" y2="357.6" stroke="#666" stroke-width="0.6"/>
<line x1="37.04" y1="356.2" x2="37.04" y2="357.6" stroke="#666" stroke-width="0.6"/>
<line x1="38.45" y1="356.2" x2="38.45" y2="357.6" stroke="#666" stroke-width="0.6"/>
<line x1="39.64" y1="356.2" x2="39.64" y2="357.6" stroke="#666" stroke-width="0.6"/>
<line x1="40.68" y1="356.2" x2="40.68" y2="357.6" stroke="#666" stroke-width="0.6"/>
<line x1="41.59" y1="356.2" x2="41.59" y2="357.6" stroke="#666" stroke-width="0.6"/>
<line x1="42.4" y1="356.2" x2="42.4" y2="358.4" stroke="#666" stroke-width="0.6"/>
<line x1="47.76" y1="356.2" x2="47.76" y2="357.6" stroke="#666" stroke-width="0.6"/>
<line x1="50.89" y1="356.2" x2="50.89" y2="357.6" stroke="#666" stroke-width="0.6"/>
<line x1="53.12" y1="356.2" x2="53.12" y2="357.6" stroke="#666" stroke-width="0.6"/>
<line x1="54.84" y1="356.2" x2="54.84" y2="357.6" stroke="#666" stroke-width="0.6"/>
<line x1="56.25" y1="356.2" x2="56.25" y2="357.6" stroke="#666" stroke-width="0.6"/>
<line x1="57.44" y1="356.2" x2="57.44" y2="357.6" stroke="#666" stroke-width="0.6"/>
<line x1="58.48" y1="356.2" x2="58.48" y2="357.6" stroke="#666" stroke-width="0.6"/>
<line x1="59.39" y1="356.2" x2="59.39" y2="357.6" stroke="#666" stroke-width="0.6"/>
<line x1="60.2" y1="356.2" x2="60.2" y2="358.4" stroke="#666" stroke-width="0.6"/>
<line x1="65.56" y1="356.2" x2="65.56" y2="357.6" stroke="#666" stroke-width="0.6"/>
<line x1="68.69" y1="356.2" x2="68.69" y2="357.6" stroke="#666" stroke-width="0.6"/>
<line x1="70.92" y1="356.2" x2="70.92" y2="357.6" stroke="#666" stroke-width="0.6"/>
<line x1="72.64" y1="356.2" x2="72.64" y2="357.6" stroke="#666" stroke-width="0.6"/>
<line x1="74.05" y1="356.2" x2="74.05" y2="357.6" stroke="#666" stroke-width="0.6"/>
<line x1="75.24" y1="356.2" x2="75.24" y2="357.6" stroke="#666" stroke-width="0.6"/>
<line x1="76.28" y1="356.2" x2="76.28" y2="357.6" stroke="#666" stroke-width="0.6"/>
<line x1="77.19" y1="356.2" x2="77.19" y2="357.6" stroke="#666" stroke-width="0.6"/>
<line x1="78" y1="356.2" x2="78" y2="358.4" stroke="#666" stroke-width="0.6"/>
<line x1="83.36" y1="356.2" x2="83.36" y2="357.6" stroke="#666" stroke-width="0.6"/>
<line x1="86.49" y1="356.2" x2="86.49" y2="357.6" stroke="#666" stroke-width="0.6"/>
<line x1="88.72" y1="356.2" x2="88.72" y2="357.6" stroke="#666" stroke-width="0.6"/>
<line x1="90.44" y1="356.2" x2="90.44" y2="357.6" stroke="#666" stroke-width="0.6"/>
<line x1="91.85" y1="356.2" x2="91.85" y2="357.6" stroke="#666" stroke-width="0.6"/>
<line x1="93.04" y1="356.2" x2="93.04" y2="357.6" stroke="#666" stroke-width="0.6"/>
<line x1="94.08" y1="356.2" x2="94.08" y2="357.6" stroke="#666" stroke-width="0.6"/>
<line x1="94.99" y1="356.2" x2="94.99" y2="357.6" stroke="#666" stroke-width="0.6"/>
<line x1="95.8" y1="356.2" x2="95.8" y2="358.4" stroke="#666" stroke-width="0.6"/>
<line x1="22.4" y1="356.2" x2="24.6" y2="356.2" stroke="#666" stroke-width="0.6"/>
<line x1="23.2" y1="350.79" x2="24.6" y2="350.79" stroke="#666" stroke-width="0.6"/>
<line x1="23.2" y1="347.62" x2="24.6" y2="347.62" stroke="#666" stroke-width="0.6"/>
<line x1="23.2" y1="345.38" x2="24.6" y2="345.38" stroke="#666" stroke-width="0.6"/>
<line x1="23.2" y1="343.64" x2="24.6" y2="343.64" stroke="#666" stroke-width="0.6"/>
<line x1="23.2" y1="342.21" x2="24.6" y2="342.21" stroke="#666" stroke-width="0.6"/>
<line x1="23.2" y1="341.01" x2="24.6" y2="341.01" stroke="#666" stroke-width="0.6"/>
<line x1="23.2" y1="339.97" x2="24.6" y2="339.97" stroke="#666" stroke-width="0.6"/>
<line x1="23.2" y1="339.05" x2="24.6" y2="339.05" stroke="#666" stroke-width="0.6"/>
<line x1="22.4" y1="338.23" x2="24.6" y2="338.23" stroke="#666" stroke-width="0.6"/>
<line x1="23.2" y1="332.81" x2="24.6" y2="332.81" stroke="#666" stroke-width="0.6"/>
<line x1="23.2" y1="329.65" x2="24.6" y2="329.65" stroke="#666" stroke-width="0.6"/>
<line x1="23.2" y1="327.4" x2="24.6" y2="327.4" stroke="#666" stroke-width="0.6"/>
<line x1="23.2" y1="325.66" x2="24.6" y2="325.66" stroke="#666" stroke-width="0.6"/>
<line x1="23.2" y1="324.24" x2="24.6" y2="324.24" stroke="#666" stroke-width="0.6"/>
<line x1="23.2" y1="323.03" x2="24.6" y2="323.03" stroke="#666" stroke-width="0.6"/>
<line x1="23.2" y1="321.99" x2="24.6" y2="321.99" stroke="#666" stroke-width="0.6"/>
<line x1="23.2" y1="321.07" x2="24.6" y2="321.07" stroke="#666" stroke-width="0.6"/>
<line x1="22.4" y1="320.25" x2="24.6" y2="320.25" stroke="#666" stroke-width="0.6"/>
<line x1="23.2" y1="314.84" x2="24.6" y2="314.84" stroke="#666" stroke-width="0.6"/>
<line x1="23.2" y1="311.67" x2="24.6" y2="311.67" stroke="#666" stroke-width="0.6"/>
<line x1="23.2" y1="309.43" x2="24.6" y2="309.43" stroke="#666" stroke-width="0.6"/>
<line x1="23.2" y1="307.69" x2="24.6" y2="307.69" stroke="#666" stroke-width="0.6"/>
<line x1="23.2" y1="306.26" x2="24.6" y2="306.26" stroke="#666" stroke-width="0.6"/>
<line x1="23.2" y1="305.06" x2="24.6" y2="305.06" stroke="#666" stroke-width="0.6"/>
<line x1="23.2" y1="304.02" x2="24.6" y2="304.02" stroke="#666" stroke-width="0.6"/>
<line x1="23.2" y1="303.1" x2="24.6" y2="303.1" stroke="#666" stroke-width="0.6"/>
<line x1="22.4" y1="302.27" x2="24.6" y2="302.27" stroke="#666" stroke-width="0.6"/>
<line x1="23.2" y1="296.86" x2="24.6" y2="296.86" stroke="#666" stroke-width="0.6"/>
<line x1="23.2" y1="293.7" x2="24.6" y2="293.7" stroke="#666" stroke-width="0.6"/>
<line x1="23.2" y1="291.45" x2="24.6" y2="291.45" stroke="#666" stroke-width="0.6"/>
<line x1="23.2" y1="289.71" x2="24.6" y2="289.71" stroke="#666" stroke-width="0.6"/>
<line x1="23.2" y1="288.29" x2="24.6" y2="288.29" stroke="#666" stroke-width="0.6"/>
<line x1="23.2" y1="287.08" x2="24.6" y2="287.08" stroke="#666" stroke-width="0.6"/>
<line x1="23.2" y1="286.04" x2="24.6" y2="286.04" stroke="#666" stroke-width="0.6"/>
<line x1="23.2" y1="285.12" x2="24.6" y2="285.12" stroke="#666" stroke-width="0.6"/>
<line x1="22.4" y1="284.3" x2="24.6" y2="284.3" stroke="#666" stroke-width="0.6"/>
<text x="20.5" y="368.8" font-size="7.9" stroke="#161213" stroke-width="0.26" textLength="7" lengthAdjust="spacingAndGlyphs">10</text>
<text x="27.8" y="363.4" font-size="5.4" stroke="#161213" stroke-width="0.26">0</text>
<text x="38.9" y="368.8" font-size="7.9" stroke="#161213" stroke-width="0.26" textLength="7" lengthAdjust="spacingAndGlyphs">10</text>
<text x="46.2" y="363.4" font-size="5.4" stroke="#161213" stroke-width="0.26">1</text>
<text x="57.4" y="368.8" font-size="7.9" stroke="#161213" stroke-width="0.26" textLength="7" lengthAdjust="spacingAndGlyphs">10</text>
<text x="64.7" y="363.4" font-size="5.4" stroke="#161213" stroke-width="0.26">2</text>
<text x="73.8" y="368.8" font-size="7.9" stroke="#161213" stroke-width="0.26" textLength="7" lengthAdjust="spacingAndGlyphs">10</text>
<text x="81.1" y="363.4" font-size="5.4" stroke="#161213" stroke-width="0.26">3</text>
<text x="92" y="368.8" font-size="7.9" stroke="#161213" stroke-width="0.26" textLength="7" lengthAdjust="spacingAndGlyphs">10</text>
<text x="99.3" y="363.4" font-size="5.4" stroke="#161213" stroke-width="0.26">4</text>
<text x="59.8" y="379.6" font-size="8.2" stroke="#161213" stroke-width="0.26" text-anchor="middle" textLength="29.9" lengthAdjust="spacingAndGlyphs">APC-Kit</text>
<g transform="translate(21,355) rotate(-90)">
<text x="0" y="0" font-size="7.6" stroke="#161213" stroke-width="0.26" textLength="7.8" lengthAdjust="spacingAndGlyphs">10</text>
<text x="8.1" y="-5.6" font-size="5" stroke="#161213" stroke-width="0.26">0</text>
</g>
<g transform="translate(21,339) rotate(-90)">
<text x="0" y="0" font-size="7.6" stroke="#161213" stroke-width="0.26" textLength="7.8" lengthAdjust="spacingAndGlyphs">10</text>
<text x="8.1" y="-5.6" font-size="5" stroke="#161213" stroke-width="0.26">1</text>
</g>
<g transform="translate(21,323.8) rotate(-90)">
<text x="0" y="0" font-size="7.6" stroke="#161213" stroke-width="0.26" textLength="7.8" lengthAdjust="spacingAndGlyphs">10</text>
<text x="8.1" y="-5.6" font-size="5" stroke="#161213" stroke-width="0.26">2</text>
</g>
<g transform="translate(21,310.3) rotate(-90)">
<text x="0" y="0" font-size="7.6" stroke="#161213" stroke-width="0.26" textLength="7.8" lengthAdjust="spacingAndGlyphs">10</text>
<text x="8.1" y="-5.6" font-size="5" stroke="#161213" stroke-width="0.26">3</text>
</g>
<g transform="translate(21,287) rotate(-90)">
<text x="0" y="0" font-size="7.6" stroke="#161213" stroke-width="0.26" textLength="7.8" lengthAdjust="spacingAndGlyphs">10</text>
<text x="8.1" y="-5.6" font-size="5" stroke="#161213" stroke-width="0.26">4</text>
</g>
<g transform="translate(9.3,320.4) rotate(-90)">
<text x="0" y="0" font-size="8.2" stroke="#161213" stroke-width="0.26" text-anchor="middle" textLength="40.4" lengthAdjust="spacingAndGlyphs">FITC-CD71</text>
</g>
<g filter="url(#b1)">
<polygon points="166,297 172,296.6 180,297 185.5,298.5 186,301 184,303.5 181,306 178,309 174,311 170,312.5 166,313" fill="#7088c4"/>
<polygon points="166,298.8 176,298.6 185,299.2 185.5,302.3 176,302.6 166,302.5" fill="#4a9ad8"/>
<polygon points="166,299.4 172,299.2 177,299.8 177,301.8 172,302.2 166,302.2" fill="#62b870"/>
</g>
<rect x="171.1" y="310.83" width="0.9" height="0.9" fill="#a08090"/>
<rect x="173.85" y="303.45" width="0.9" height="0.9" fill="#b09098"/>
<rect x="176.87" y="307.85" width="0.9" height="0.9" fill="#7070b0"/>
<rect x="173.21" y="308.33" width="0.9" height="0.9" fill="#b09098"/>
<rect x="171.47" y="306.94" width="0.9" height="0.9" fill="#7070b0"/>
<rect x="173.42" y="309.77" width="0.9" height="0.9" fill="#b09098"/>
<rect x="178.32" y="302.09" width="0.9" height="0.9" fill="#b09098"/>
<rect x="173.23" y="306.2" width="0.9" height="0.9" fill="#5a70b8"/>
<rect x="171.78" y="304.03" width="0.9" height="0.9" fill="#5a70b8"/>
<rect x="173.16" y="305.25" width="0.9" height="0.9" fill="#7070b0"/>
<rect x="169.88" y="307.97" width="0.9" height="0.9" fill="#6a80c0"/>
<rect x="166.49" y="305.59" width="0.9" height="0.9" fill="#b09098"/>
<rect x="171.7" y="309.51" width="0.9" height="0.9" fill="#7070b0"/>
<rect x="175.83" y="309.24" width="0.9" height="0.9" fill="#b09098"/>
<rect x="173.4" y="307.01" width="0.9" height="0.9" fill="#5a70b8"/>
<rect x="178.85" y="308.34" width="0.9" height="0.9" fill="#6a80c0"/>
<rect x="167.88" y="307.24" width="0.9" height="0.9" fill="#b09098"/>
<rect x="168.93" y="304.63" width="0.9" height="0.9" fill="#b09098"/>
<rect x="175.25" y="308.16" width="0.9" height="0.9" fill="#5a70b8"/>
<rect x="167.75" y="307.08" width="0.9" height="0.9" fill="#7070b0"/>
<rect x="175.74" y="303.55" width="0.9" height="0.9" fill="#7070b0"/>
<rect x="174" y="304.19" width="0.9" height="0.9" fill="#7070b0"/>
<rect x="181.51" y="304.91" width="0.9" height="0.9" fill="#a08090"/>
<rect x="173.83" y="302.84" width="0.9" height="0.9" fill="#5a70b8"/>
<rect x="177.46" y="306.94" width="0.9" height="0.9" fill="#6a80c0"/>
<rect x="179.14" y="302.15" width="0.9" height="0.9" fill="#6a80c0"/>
<rect x="171.83" y="311.67" width="0.9" height="0.9" fill="#6a80c0"/>
<rect x="167.87" y="302.22" width="0.9" height="0.9" fill="#6a80c0"/>
<rect x="169.74" y="308.97" width="0.9" height="0.9" fill="#5a70b8"/>
<rect x="168.73" y="304.78" width="0.9" height="0.9" fill="#5a70b8"/>
<rect x="168.31" y="304.19" width="0.9" height="0.9" fill="#5a70b8"/>
<rect x="168.03" y="303.4" width="0.9" height="0.9" fill="#a08090"/>
<rect x="174.88" y="308.03" width="0.9" height="0.9" fill="#6a80c0"/>
<rect x="177" y="304.01" width="0.9" height="0.9" fill="#a08090"/>
<rect x="172.72" y="304.37" width="0.9" height="0.9" fill="#7070b0"/>
<rect x="184.01" y="302.88" width="0.9" height="0.9" fill="#a08090"/>
<rect x="174.55" y="307.4" width="0.9" height="0.9" fill="#6a80c0"/>
<rect x="170.18" y="307.54" width="0.9" height="0.9" fill="#6a80c0"/>
<rect x="174.35" y="310.68" width="0.9" height="0.9" fill="#a08090"/>
<rect x="170.24" y="304.23" width="0.9" height="0.9" fill="#5a70b8"/>
<rect x="171.77" y="310.44" width="0.9" height="0.9" fill="#b09098"/>
<rect x="184.61" y="302.95" width="0.9" height="0.9" fill="#b09098"/>
<rect x="173.86" y="307.58" width="0.9" height="0.9" fill="#b09098"/>
<rect x="166.43" y="314.15" width="0.9" height="0.9" fill="#6a80c0"/>
<rect x="169.3" y="307.02" width="0.9" height="0.9" fill="#a08090"/>
<rect x="166.15" y="314.35" width="0.9" height="0.9" fill="#b09098"/>
<rect x="176.67" y="303.61" width="0.9" height="0.9" fill="#5a70b8"/>
<rect x="176.52" y="307.42" width="0.9" height="0.9" fill="#b09098"/>
<rect x="171.39" y="305.32" width="0.9" height="0.9" fill="#6a80c0"/>
<rect x="171.3" y="302.35" width="0.9" height="0.9" fill="#a08090"/>
<rect x="170.59" y="303.82" width="0.9" height="0.9" fill="#a08090"/>
<rect x="171.12" y="313.69" width="0.9" height="0.9" fill="#a08090"/>
<rect x="176.54" y="308.54" width="0.9" height="0.9" fill="#a08090"/>
<rect x="169.03" y="306.94" width="0.9" height="0.9" fill="#b09098"/>
<rect x="175.59" y="305.18" width="0.9" height="0.9" fill="#b09098"/>
<rect x="176.16" y="307.66" width="0.9" height="0.9" fill="#5a70b8"/>
<rect x="170.04" y="314.21" width="0.9" height="0.9" fill="#6a80c0"/>
<rect x="178.88" y="303.28" width="0.9" height="0.9" fill="#7070b0"/>
<rect x="166.55" y="312.06" width="0.9" height="0.9" fill="#a08090"/>
<rect x="170.35" y="315.12" width="0.9" height="0.9" fill="#c0b0c8"/>
<rect x="175.73" y="318.21" width="0.9" height="0.9" fill="#c0b0c8"/>
<rect x="170.49" y="317.3" width="0.9" height="0.9" fill="#c0b0c8"/>
<rect x="166.95" y="319.31" width="0.9" height="0.9" fill="#d0c0d0"/>
<rect x="168.7" y="317.75" width="0.9" height="0.9" fill="#c0b0c8"/>
<rect x="169.17" y="313.01" width="0.9" height="0.9" fill="#d0c0d0"/>
<rect x="169.95" y="315.23" width="0.9" height="0.9" fill="#d0c0d0"/>
<rect x="176.85" y="319.06" width="0.9" height="0.9" fill="#c0b0c8"/>
<rect x="179.11" y="313.41" width="0.9" height="0.9" fill="#d0c0d0"/>
<rect x="175.51" y="317.31" width="0.9" height="0.9" fill="#d0c0d0"/>
<line x1="165.5" y1="284.2" x2="236" y2="284.2" stroke="#8a8a8a" stroke-width="0.8"/>
<line x1="236" y1="284.2" x2="236" y2="356" stroke="#8a8a8a" stroke-width="0.8"/>
<line x1="187.5" y1="284.2" x2="187.5" y2="356" stroke="#999" stroke-width="0.8"/>
<line x1="165.5" y1="333.4" x2="236" y2="333.4" stroke="#666" stroke-width="0.9"/>
<line x1="165.5" y1="284.2" x2="165.5" y2="356.4" stroke="#7a7a7a" stroke-width="0.8"/>
<line x1="165.1" y1="356" x2="236" y2="356" stroke="#7a7a7a" stroke-width="0.8"/>
<line x1="165.5" y1="356" x2="165.5" y2="358.2" stroke="#666" stroke-width="0.6"/>
<line x1="170.81" y1="356" x2="170.81" y2="357.4" stroke="#666" stroke-width="0.6"/>
<line x1="173.91" y1="356" x2="173.91" y2="357.4" stroke="#666" stroke-width="0.6"/>
<line x1="176.11" y1="356" x2="176.11" y2="357.4" stroke="#666" stroke-width="0.6"/>
<line x1="177.82" y1="356" x2="177.82" y2="357.4" stroke="#666" stroke-width="0.6"/>
<line x1="179.21" y1="356" x2="179.21" y2="357.4" stroke="#666" stroke-width="0.6"/>
<line x1="180.39" y1="356" x2="180.39" y2="357.4" stroke="#666" stroke-width="0.6"/>
<line x1="181.42" y1="356" x2="181.42" y2="357.4" stroke="#666" stroke-width="0.6"/>
<line x1="182.32" y1="356" x2="182.32" y2="357.4" stroke="#666" stroke-width="0.6"/>
<line x1="183.12" y1="356" x2="183.12" y2="358.2" stroke="#666" stroke-width="0.6"/>
<line x1="188.43" y1="356" x2="188.43" y2="357.4" stroke="#666" stroke-width="0.6"/>
<line x1="191.53" y1="356" x2="191.53" y2="357.4" stroke="#666" stroke-width="0.6"/>
<line x1="193.74" y1="356" x2="193.74" y2="357.4" stroke="#666" stroke-width="0.6"/>
<line x1="195.44" y1="356" x2="195.44" y2="357.4" stroke="#666" stroke-width="0.6"/>
<line x1="196.84" y1="356" x2="196.84" y2="357.4" stroke="#666" stroke-width="0.6"/>
<line x1="198.02" y1="356" x2="198.02" y2="357.4" stroke="#666" stroke-width="0.6"/>
<line x1="199.04" y1="356" x2="199.04" y2="357.4" stroke="#666" stroke-width="0.6"/>
<line x1="199.94" y1="356" x2="199.94" y2="357.4" stroke="#666" stroke-width="0.6"/>
<line x1="200.75" y1="356" x2="200.75" y2="358.2" stroke="#666" stroke-width="0.6"/>
<line x1="206.06" y1="356" x2="206.06" y2="357.4" stroke="#666" stroke-width="0.6"/>
<line x1="209.16" y1="356" x2="209.16" y2="357.4" stroke="#666" stroke-width="0.6"/>
<line x1="211.36" y1="356" x2="211.36" y2="357.4" stroke="#666" stroke-width="0.6"/>
<line x1="213.07" y1="356" x2="213.07" y2="357.4" stroke="#666" stroke-width="0.6"/>
<line x1="214.46" y1="356" x2="214.46" y2="357.4" stroke="#666" stroke-width="0.6"/>
<line x1="215.64" y1="356" x2="215.64" y2="357.4" stroke="#666" stroke-width="0.6"/>
<line x1="216.67" y1="356" x2="216.67" y2="357.4" stroke="#666" stroke-width="0.6"/>
<line x1="217.57" y1="356" x2="217.57" y2="357.4" stroke="#666" stroke-width="0.6"/>
<line x1="218.38" y1="356" x2="218.38" y2="358.2" stroke="#666" stroke-width="0.6"/>
<line x1="223.68" y1="356" x2="223.68" y2="357.4" stroke="#666" stroke-width="0.6"/>
<line x1="226.78" y1="356" x2="226.78" y2="357.4" stroke="#666" stroke-width="0.6"/>
<line x1="228.99" y1="356" x2="228.99" y2="357.4" stroke="#666" stroke-width="0.6"/>
<line x1="230.69" y1="356" x2="230.69" y2="357.4" stroke="#666" stroke-width="0.6"/>
<line x1="232.09" y1="356" x2="232.09" y2="357.4" stroke="#666" stroke-width="0.6"/>
<line x1="233.27" y1="356" x2="233.27" y2="357.4" stroke="#666" stroke-width="0.6"/>
<line x1="234.29" y1="356" x2="234.29" y2="357.4" stroke="#666" stroke-width="0.6"/>
<line x1="235.19" y1="356" x2="235.19" y2="357.4" stroke="#666" stroke-width="0.6"/>
<line x1="236" y1="356" x2="236" y2="358.2" stroke="#666" stroke-width="0.6"/>
<line x1="163.3" y1="356" x2="165.5" y2="356" stroke="#666" stroke-width="0.6"/>
<line x1="164.1" y1="350.6" x2="165.5" y2="350.6" stroke="#666" stroke-width="0.6"/>
<line x1="164.1" y1="347.44" x2="165.5" y2="347.44" stroke="#666" stroke-width="0.6"/>
<line x1="164.1" y1="345.19" x2="165.5" y2="345.19" stroke="#666" stroke-width="0.6"/>
<line x1="164.1" y1="343.45" x2="165.5" y2="343.45" stroke="#666" stroke-width="0.6"/>
<line x1="164.1" y1="342.03" x2="165.5" y2="342.03" stroke="#666" stroke-width="0.6"/>
<line x1="164.1" y1="340.83" x2="165.5" y2="340.83" stroke="#666" stroke-width="0.6"/>
<line x1="164.1" y1="339.79" x2="165.5" y2="339.79" stroke="#666" stroke-width="0.6"/>
<line x1="164.1" y1="338.87" x2="165.5" y2="338.87" stroke="#666" stroke-width="0.6"/>
<line x1="163.3" y1="338.05" x2="165.5" y2="338.05" stroke="#666" stroke-width="0.6"/>
<line x1="164.1" y1="332.65" x2="165.5" y2="332.65" stroke="#666" stroke-width="0.6"/>
<line x1="164.1" y1="329.49" x2="165.5" y2="329.49" stroke="#666" stroke-width="0.6"/>
<line x1="164.1" y1="327.24" x2="165.5" y2="327.24" stroke="#666" stroke-width="0.6"/>
<line x1="164.1" y1="325.5" x2="165.5" y2="325.5" stroke="#666" stroke-width="0.6"/>
<line x1="164.1" y1="324.08" x2="165.5" y2="324.08" stroke="#666" stroke-width="0.6"/>
<line x1="164.1" y1="322.88" x2="165.5" y2="322.88" stroke="#666" stroke-width="0.6"/>
<line x1="164.1" y1="321.84" x2="165.5" y2="321.84" stroke="#666" stroke-width="0.6"/>
<line x1="164.1" y1="320.92" x2="165.5" y2="320.92" stroke="#666" stroke-width="0.6"/>
<line x1="163.3" y1="320.1" x2="165.5" y2="320.1" stroke="#666" stroke-width="0.6"/>
<line x1="164.1" y1="314.7" x2="165.5" y2="314.7" stroke="#666" stroke-width="0.6"/>
<line x1="164.1" y1="311.54" x2="165.5" y2="311.54" stroke="#666" stroke-width="0.6"/>
<line x1="164.1" y1="309.29" x2="165.5" y2="309.29" stroke="#666" stroke-width="0.6"/>
<line x1="164.1" y1="307.55" x2="165.5" y2="307.55" stroke="#666" stroke-width="0.6"/>
<line x1="164.1" y1="306.13" x2="165.5" y2="306.13" stroke="#666" stroke-width="0.6"/>
<line x1="164.1" y1="304.93" x2="165.5" y2="304.93" stroke="#666" stroke-width="0.6"/>
<line x1="164.1" y1="303.89" x2="165.5" y2="303.89" stroke="#666" stroke-width="0.6"/>
<line x1="164.1" y1="302.97" x2="165.5" y2="302.97" stroke="#666" stroke-width="0.6"/>
<line x1="163.3" y1="302.15" x2="165.5" y2="302.15" stroke="#666" stroke-width="0.6"/>
<line x1="164.1" y1="296.75" x2="165.5" y2="296.75" stroke="#666" stroke-width="0.6"/>
<line x1="164.1" y1="293.59" x2="165.5" y2="293.59" stroke="#666" stroke-width="0.6"/>
<line x1="164.1" y1="291.34" x2="165.5" y2="291.34" stroke="#666" stroke-width="0.6"/>
<line x1="164.1" y1="289.6" x2="165.5" y2="289.6" stroke="#666" stroke-width="0.6"/>
<line x1="164.1" y1="288.18" x2="165.5" y2="288.18" stroke="#666" stroke-width="0.6"/>
<line x1="164.1" y1="286.98" x2="165.5" y2="286.98" stroke="#666" stroke-width="0.6"/>
<line x1="164.1" y1="285.94" x2="165.5" y2="285.94" stroke="#666" stroke-width="0.6"/>
<line x1="164.1" y1="285.02" x2="165.5" y2="285.02" stroke="#666" stroke-width="0.6"/>
<line x1="163.3" y1="284.2" x2="165.5" y2="284.2" stroke="#666" stroke-width="0.6"/>
<text x="162.3" y="369.7" font-size="7.9" stroke="#161213" stroke-width="0.26" textLength="7" lengthAdjust="spacingAndGlyphs">10</text>
<text x="169.6" y="364.3" font-size="5.4" stroke="#161213" stroke-width="0.26">0</text>
<text x="180.1" y="369.7" font-size="7.9" stroke="#161213" stroke-width="0.26" textLength="7" lengthAdjust="spacingAndGlyphs">10</text>
<text x="187.4" y="364.3" font-size="5.4" stroke="#161213" stroke-width="0.26">1</text>
<text x="198.6" y="369.7" font-size="7.9" stroke="#161213" stroke-width="0.26" textLength="7" lengthAdjust="spacingAndGlyphs">10</text>
<text x="205.9" y="364.3" font-size="5.4" stroke="#161213" stroke-width="0.26">2</text>
<text x="214.7" y="369.7" font-size="7.9" stroke="#161213" stroke-width="0.26" textLength="7" lengthAdjust="spacingAndGlyphs">10</text>
<text x="222" y="364.3" font-size="5.4" stroke="#161213" stroke-width="0.26">3</text>
<text x="232.9" y="369.7" font-size="7.9" stroke="#161213" stroke-width="0.26" textLength="7" lengthAdjust="spacingAndGlyphs">10</text>
<text x="240.2" y="364.3" font-size="5.4" stroke="#161213" stroke-width="0.26">4</text>
<text x="200.9" y="380.1" font-size="8.2" stroke="#161213" stroke-width="0.26" text-anchor="middle" textLength="30.1" lengthAdjust="spacingAndGlyphs">APC-Kit</text>
<g transform="translate(161.9,355.8) rotate(-90)">
<text x="0" y="0" font-size="7.6" stroke="#161213" stroke-width="0.26" textLength="7.8" lengthAdjust="spacingAndGlyphs">10</text>
<text x="8.1" y="-5.6" font-size="5" stroke="#161213" stroke-width="0.26">0</text>
</g>
<g transform="translate(161.9,339.8) rotate(-90)">
<text x="0" y="0" font-size="7.6" stroke="#161213" stroke-width="0.26" textLength="7.8" lengthAdjust="spacingAndGlyphs">10</text>
<text x="8.1" y="-5.6" font-size="5" stroke="#161213" stroke-width="0.26">1</text>
</g>
<g transform="translate(161.9,324.6) rotate(-90)">
<text x="0" y="0" font-size="7.6" stroke="#161213" stroke-width="0.26" textLength="7.8" lengthAdjust="spacingAndGlyphs">10</text>
<text x="8.1" y="-5.6" font-size="5" stroke="#161213" stroke-width="0.26">2</text>
</g>
<g transform="translate(161.9,308.6) rotate(-90)">
<text x="0" y="0" font-size="7.6" stroke="#161213" stroke-width="0.26" textLength="7.8" lengthAdjust="spacingAndGlyphs">10</text>
<text x="8.1" y="-5.6" font-size="5" stroke="#161213" stroke-width="0.26">3</text>
</g>
<g transform="translate(161.9,287) rotate(-90)">
<text x="0" y="0" font-size="7.6" stroke="#161213" stroke-width="0.26" textLength="7.8" lengthAdjust="spacingAndGlyphs">10</text>
<text x="8.1" y="-5.6" font-size="5" stroke="#161213" stroke-width="0.26">4</text>
</g>
<g transform="translate(150.1,321.2) rotate(-90)">
<text x="0" y="0" font-size="8.2" stroke="#161213" stroke-width="0.26" text-anchor="middle" textLength="40.4" lengthAdjust="spacingAndGlyphs">FITC-CD71</text>
</g>
<rect x="25" y="388.3" width="70.9" height="70.6" fill="#efe3ec"/>
<clipPath id="cpC1"><rect x="25" y="388.3" width="70.9" height="70.6"/></clipPath>
<g clip-path="url(#cpC1)"><g filter="url(#b1)">
<circle cx="52.9" cy="396.8" r="4.6" fill="#9a87c6"/>
<circle cx="52.5" cy="396.4" r="2.76" fill="#a898d0"/>
<circle cx="49.1" cy="411.6" r="4.3" fill="#9a87c6"/>
<circle cx="48.7" cy="411.2" r="2.58" fill="#a898d0"/>
<circle cx="54.8" cy="414.6" r="4.3" fill="#9a87c6"/>
<circle cx="54.4" cy="414.2" r="2.58" fill="#a898d0"/>
<circle cx="68.3" cy="411.6" r="4.6" fill="#9a87c6"/>
<circle cx="67.9" cy="411.2" r="2.76" fill="#a898d0"/>
<circle cx="32.2" cy="435.9" r="4.3" fill="#9a87c6"/>
<circle cx="31.8" cy="435.5" r="2.58" fill="#a898d0"/>
<circle cx="36" cy="440.8" r="4.3" fill="#9a87c6"/>
<circle cx="35.6" cy="440.4" r="2.58" fill="#a898d0"/>
<circle cx="66" cy="435.1" r="4.3" fill="#9a87c6"/>
<circle cx="65.6" cy="434.7" r="2.58" fill="#a898d0"/>
<circle cx="69.6" cy="444.1" r="4.3" fill="#9a87c6"/>
<circle cx="69.2" cy="443.7" r="2.58" fill="#a898d0"/>
<circle cx="71.3" cy="449.9" r="3.8" fill="#9a87c6"/>
<circle cx="70.9" cy="449.5" r="2.28" fill="#a898d0"/>
<circle cx="94.5" cy="440.8" r="3.6" fill="#9a87c6"/>
<circle cx="94.1" cy="440.4" r="2.16" fill="#a898d0"/>
<circle cx="72" cy="427.4" r="0.8" fill="#c0a8c8"/>
<circle cx="32.7" cy="411.3" r="0.7" fill="#c0a8c8"/>
</g></g>
<rect x="25" y="388.3" width="70.9" height="70.6" fill="none" stroke="#3a3a3a" stroke-width="0.9"/>
<text x="76.2" y="453.1" font-size="6.2" stroke="#161213" stroke-width="0.26" textLength="12.3" lengthAdjust="spacingAndGlyphs">18 u</text>
<rect x="74.2" y="455.5" width="15.5" height="1.3" fill="#231f20"/>
<rect x="165.1" y="388.6" width="69.5" height="70" fill="#fcfaf8"/>
<clipPath id="cpC2"><rect x="165.1" y="388.6" width="69.5" height="70.0"/></clipPath>
<g clip-path="url(#cpC2)"><g filter="url(#b1)">
<ellipse cx="185.6" cy="407.5" rx="5.5" ry="5" fill="#efd6e6"/>
<ellipse cx="216" cy="427.5" rx="5" ry="5" fill="#efd6e6"/>
<ellipse cx="181.5" cy="437" rx="7" ry="5" fill="#efd6e6"/>
<ellipse cx="222.6" cy="445" rx="6" ry="6" fill="#efd6e6"/>
<ellipse cx="226" cy="452" rx="4" ry="3.5" fill="#efd6e6"/>
<circle cx="196.3" cy="391.6" r="2.45" fill="#5f4ca0"/>
<circle cx="198.4" cy="393.5" r="2.45" fill="#5f4ca0"/>
<circle cx="223.1" cy="391.9" r="2.45" fill="#5f4ca0"/>
<circle cx="213.5" cy="397.3" r="2.45" fill="#5f4ca0"/>
<circle cx="172.5" cy="401.4" r="2.45" fill="#5f4ca0"/>
<circle cx="170" cy="404.7" r="2.45" fill="#5f4ca0"/>
<circle cx="188.1" cy="399.8" r="2.45" fill="#5f4ca0"/>
<circle cx="190.2" cy="401.4" r="2.45" fill="#5f4ca0"/>
<circle cx="186.5" cy="403.1" r="2.45" fill="#5f4ca0"/>
<circle cx="191.4" cy="405.5" r="2.45" fill="#5f4ca0"/>
<circle cx="188.1" cy="405.5" r="2.45" fill="#5f4ca0"/>
<circle cx="211.9" cy="404.7" r="2.45" fill="#5f4ca0"/>
<circle cx="222.1" cy="404.4" r="2.45" fill="#5f4ca0"/>
<circle cx="175.8" cy="408" r="2.45" fill="#5f4ca0"/>
<circle cx="169.2" cy="409.6" r="2.45" fill="#5f4ca0"/>
<circle cx="175" cy="412.1" r="2.45" fill="#5f4ca0"/>
<circle cx="180.7" cy="410.5" r="2.45" fill="#5f4ca0"/>
<circle cx="177.4" cy="411.3" r="2.45" fill="#5f4ca0"/>
<circle cx="218.5" cy="410.9" r="2.45" fill="#5f4ca0"/>
<circle cx="218.1" cy="414.2" r="2.45" fill="#5f4ca0"/>
<circle cx="188.1" cy="417.8" r="2.45" fill="#5f4ca0"/>
<circle cx="227.5" cy="419.2" r="2.45" fill="#5f4ca0"/>
<circle cx="233.2" cy="420.3" r="2.45" fill="#5f4ca0"/>
<circle cx="173.8" cy="423.1" r="2.45" fill="#5f4ca0"/>
<circle cx="167.6" cy="423.6" r="2.45" fill="#5f4ca0"/>
<circle cx="214.4" cy="425.7" r="2.45" fill="#5f4ca0"/>
<circle cx="216" cy="428.5" r="2.45" fill="#5f4ca0"/>
<circle cx="203.4" cy="430.2" r="2.45" fill="#5f4ca0"/>
<circle cx="167.6" cy="435.1" r="2.45" fill="#5f4ca0"/>
<circle cx="231.6" cy="438.9" r="2.45" fill="#5f4ca0"/>
<circle cx="179.9" cy="437.5" r="2.45" fill="#5f4ca0"/>
<circle cx="182.3" cy="440" r="2.45" fill="#5f4ca0"/>
<circle cx="185.6" cy="438.4" r="2.45" fill="#5f4ca0"/>
<circle cx="183.2" cy="442.5" r="2.45" fill="#5f4ca0"/>
<circle cx="188.9" cy="439.2" r="2.45" fill="#5f4ca0"/>
<circle cx="192.2" cy="441.7" r="2.45" fill="#5f4ca0"/>
<circle cx="194.7" cy="444.1" r="2.45" fill="#5f4ca0"/>
<circle cx="180.7" cy="441.7" r="2.45" fill="#5f4ca0"/>
<circle cx="201.2" cy="448.2" r="2.45" fill="#5f4ca0"/>
<circle cx="221.8" cy="445.8" r="2.45" fill="#5f4ca0"/>
<circle cx="223.4" cy="448.2" r="2.45" fill="#5f4ca0"/>
<circle cx="220.1" cy="449.9" r="2.45" fill="#5f4ca0"/>
<circle cx="170.9" cy="453.1" r="2.45" fill="#5f4ca0"/>
<circle cx="172.5" cy="451.5" r="2.45" fill="#5f4ca0"/>
<circle cx="206.2" cy="454.8" r="2.45" fill="#5f4ca0"/>
<circle cx="215.2" cy="454" r="2.45" fill="#5f4ca0"/>
<circle cx="217.6" cy="452.3" r="2.45" fill="#5f4ca0"/>
<circle cx="233.2" cy="455.6" r="2.45" fill="#5f4ca0"/>
<circle cx="233.2" cy="447.4" r="2.45" fill="#5f4ca0"/>
</g></g>
<rect x="165.1" y="388.6" width="69.5" height="70" fill="none" stroke="#3a3a3a" stroke-width="0.9"/>
<text x="260.6" y="262.5" font-size="16" stroke="#161213" stroke-width="0.45" font-weight="bold" textLength="10.4" lengthAdjust="spacingAndGlyphs">D</text>
<text x="289.6" y="276.8" font-size="10.8" stroke="#161213" stroke-width="0.26" textLength="13.1" lengthAdjust="spacingAndGlyphs">Kit</text>
<text x="303.9" y="272" font-size="8.2" stroke="#161213" stroke-width="0.26" textLength="13.4" lengthAdjust="spacingAndGlyphs">pos</text>
<text x="318.5" y="276.8" font-size="10.8" stroke="#161213" stroke-width="0.26" textLength="26.5" lengthAdjust="spacingAndGlyphs">CD71</text>
<text x="346.3" y="271.9" font-size="8.2" stroke="#161213" stroke-width="0.26" textLength="15.8" lengthAdjust="spacingAndGlyphs">high</text>
<text x="429.2" y="277.2" font-size="10.8" stroke="#161213" stroke-width="0.26" textLength="13.1" lengthAdjust="spacingAndGlyphs">Kit</text>
<text x="444.6" y="272.4" font-size="8.2" stroke="#161213" stroke-width="0.26" textLength="13.1" lengthAdjust="spacingAndGlyphs">neg</text>
<text x="460.3" y="277.2" font-size="10.8" stroke="#161213" stroke-width="0.26" textLength="26.7" lengthAdjust="spacingAndGlyphs">CD71</text>
<text x="487.7" y="272.3" font-size="8.2" stroke="#161213" stroke-width="0.26" textLength="16" lengthAdjust="spacingAndGlyphs">high</text>
<g filter="url(#b1)">
<polygon points="296.8,328.8 296.2,322 297,318.5 299.5,315 302.5,312.5 306,310.5 309.5,309.8 312.5,310.5 314,312.5 313.5,315.5 311,318.5 307.5,321.5 304.5,324.5 302,327.5 300,329" fill="#e0288a"/>
<ellipse cx="297.8" cy="336.4" rx="2.5" ry="5.6" fill="#5cc05a"/>
</g>
<rect x="311.4" y="311.41" width="0.9" height="0.9" fill="#f498c8"/>
<rect x="297.96" y="327.3" width="0.9" height="0.9" fill="#b81070"/>
<rect x="299.73" y="322.71" width="0.9" height="0.9" fill="#d0207e"/>
<rect x="301.15" y="316.92" width="0.9" height="0.9" fill="#f070b0"/>
<rect x="305.39" y="321.77" width="0.9" height="0.9" fill="#c81878"/>
<rect x="305.6" y="313.94" width="0.9" height="0.9" fill="#d0207e"/>
<rect x="308.18" y="314.47" width="0.9" height="0.9" fill="#d0207e"/>
<rect x="307.39" y="320.72" width="0.9" height="0.9" fill="#f070b0"/>
<rect x="297.9" y="324.39" width="0.9" height="0.9" fill="#b81070"/>
<rect x="297.89" y="324.93" width="0.9" height="0.9" fill="#c81878"/>
<rect x="309.21" y="316.24" width="0.9" height="0.9" fill="#f070b0"/>
<rect x="303.09" y="324.01" width="0.9" height="0.9" fill="#b81070"/>
<rect x="306.46" y="313.81" width="0.9" height="0.9" fill="#e03090"/>
<rect x="297.53" y="327.95" width="0.9" height="0.9" fill="#d0207e"/>
<rect x="303.52" y="316.14" width="0.9" height="0.9" fill="#e03090"/>
<rect x="303.28" y="319.48" width="0.9" height="0.9" fill="#c81878"/>
<rect x="304.32" y="313.19" width="0.9" height="0.9" fill="#b81070"/>
<rect x="298.78" y="324.73" width="0.9" height="0.9" fill="#c81878"/>
<rect x="305.25" y="314.37" width="0.9" height="0.9" fill="#f070b0"/>
<rect x="298.86" y="316.27" width="0.9" height="0.9" fill="#f070b0"/>
<rect x="299.42" y="315.56" width="0.9" height="0.9" fill="#c81878"/>
<rect x="307.67" y="318.99" width="0.9" height="0.9" fill="#d0207e"/>
<rect x="301.09" y="326.75" width="0.9" height="0.9" fill="#c81878"/>
<rect x="305.99" y="314.2" width="0.9" height="0.9" fill="#b81070"/>
<rect x="298.88" y="322.5" width="0.9" height="0.9" fill="#e03090"/>
<rect x="299.51" y="322.96" width="0.9" height="0.9" fill="#f070b0"/>
<rect x="302.13" y="313.53" width="0.9" height="0.9" fill="#f070b0"/>
<rect x="311.23" y="315.43" width="0.9" height="0.9" fill="#f070b0"/>
<rect x="307.93" y="318.24" width="0.9" height="0.9" fill="#f070b0"/>
<rect x="298.74" y="318.18" width="0.9" height="0.9" fill="#e03090"/>
<rect x="302.17" y="312.78" width="0.9" height="0.9" fill="#f070b0"/>
<rect x="304.25" y="324.07" width="0.9" height="0.9" fill="#f498c8"/>
<rect x="312.66" y="320.49" width="0.9" height="0.9" fill="#f8c8e0"/>
<rect x="301.47" y="316.51" width="0.9" height="0.9" fill="#f070b0"/>
<rect x="306.96" y="321.74" width="0.9" height="0.9" fill="#b81070"/>
<rect x="307.09" y="314.4" width="0.9" height="0.9" fill="#c81878"/>
<rect x="297.33" y="324.08" width="0.9" height="0.9" fill="#f070b0"/>
<rect x="299.16" y="321.94" width="0.9" height="0.9" fill="#b81070"/>
<rect x="298.86" y="324.8" width="0.9" height="0.9" fill="#f498c8"/>
<rect x="308.62" y="315.87" width="0.9" height="0.9" fill="#c81878"/>
<rect x="307" y="316.45" width="0.9" height="0.9" fill="#c81878"/>
<rect x="302.26" y="320.25" width="0.9" height="0.9" fill="#f498c8"/>
<rect x="310.24" y="314.44" width="0.9" height="0.9" fill="#f070b0"/>
<rect x="296.7" y="320.55" width="0.9" height="0.9" fill="#b81070"/>
<rect x="306.65" y="312.27" width="0.9" height="0.9" fill="#c81878"/>
<rect x="298.78" y="318.14" width="0.9" height="0.9" fill="#d0207e"/>
<rect x="299.24" y="323.6" width="0.9" height="0.9" fill="#f070b0"/>
<rect x="296.54" y="321.41" width="0.9" height="0.9" fill="#e03090"/>
<rect x="303.23" y="315.02" width="0.9" height="0.9" fill="#b81070"/>
<rect x="296.94" y="323.36" width="0.9" height="0.9" fill="#f498c8"/>
<rect x="299" y="323.63" width="0.9" height="0.9" fill="#d0207e"/>
<rect x="301.03" y="318.14" width="0.9" height="0.9" fill="#e03090"/>
<rect x="307.48" y="320.57" width="0.9" height="0.9" fill="#d0207e"/>
<rect x="309.79" y="310.67" width="0.9" height="0.9" fill="#b81070"/>
<rect x="301.64" y="322.34" width="0.9" height="0.9" fill="#e03090"/>
<rect x="307.01" y="315.34" width="0.9" height="0.9" fill="#f498c8"/>
<rect x="305.02" y="321.86" width="0.9" height="0.9" fill="#c81878"/>
<rect x="299.78" y="323.92" width="0.9" height="0.9" fill="#b81070"/>
<rect x="297.45" y="322.38" width="0.9" height="0.9" fill="#f498c8"/>
<rect x="300.08" y="318.11" width="0.9" height="0.9" fill="#f498c8"/>
<rect x="305.32" y="311.69" width="0.9" height="0.9" fill="#f498c8"/>
<rect x="307.04" y="313.16" width="0.9" height="0.9" fill="#b81070"/>
<rect x="300.28" y="319.04" width="0.9" height="0.9" fill="#e03090"/>
<rect x="303.79" y="320.05" width="0.9" height="0.9" fill="#b81070"/>
<rect x="297.92" y="319.51" width="0.9" height="0.9" fill="#e03090"/>
<rect x="309.61" y="312.12" width="0.9" height="0.9" fill="#e03090"/>
<rect x="305.36" y="323.43" width="0.9" height="0.9" fill="#f070b0"/>
<rect x="303.82" y="322.88" width="0.9" height="0.9" fill="#e03090"/>
<rect x="298.91" y="328.22" width="0.9" height="0.9" fill="#e03090"/>
<rect x="306.52" y="317.38" width="0.9" height="0.9" fill="#f070b0"/>
<rect x="299.62" y="315.35" width="0.9" height="0.9" fill="#b81070"/>
<rect x="298.31" y="327.22" width="0.9" height="0.9" fill="#f070b0"/>
<rect x="308.67" y="316.16" width="0.9" height="0.9" fill="#b81070"/>
<rect x="307.57" y="325.6" width="0.9" height="0.9" fill="#f8c8e0"/>
<rect x="304.72" y="319.73" width="0.9" height="0.9" fill="#f498c8"/>
<rect x="308.27" y="310.35" width="0.9" height="0.9" fill="#e03090"/>
<rect x="302.01" y="316.44" width="0.9" height="0.9" fill="#f498c8"/>
<rect x="309.65" y="311.7" width="0.9" height="0.9" fill="#b81070"/>
<rect x="300.12" y="316.41" width="0.9" height="0.9" fill="#b81070"/>
<rect x="297.93" y="309.91" width="0.9" height="0.9" fill="#f8c8e0"/>
<rect x="299.15" y="320.31" width="0.9" height="0.9" fill="#f498c8"/>
<rect x="306" y="314.38" width="0.9" height="0.9" fill="#b81070"/>
<rect x="308.94" y="314.74" width="0.9" height="0.9" fill="#d0207e"/>
<rect x="307.55" y="317.16" width="0.9" height="0.9" fill="#d0207e"/>
<rect x="299.9" y="328.18" width="0.9" height="0.9" fill="#e03090"/>
<rect x="311.2" y="320.99" width="0.9" height="0.9" fill="#f4a8cc"/>
<rect x="301.7" y="318.93" width="0.9" height="0.9" fill="#c81878"/>
<rect x="300.64" y="314.83" width="0.9" height="0.9" fill="#e03090"/>
<rect x="305.94" y="312.21" width="0.9" height="0.9" fill="#b81070"/>
<rect x="296.58" y="320.43" width="0.9" height="0.9" fill="#f070b0"/>
<rect x="306.79" y="316.58" width="0.9" height="0.9" fill="#f498c8"/>
<rect x="309.48" y="314.14" width="0.9" height="0.9" fill="#c81878"/>
<rect x="307.58" y="315.43" width="0.9" height="0.9" fill="#f498c8"/>
<rect x="308.57" y="319.42" width="0.9" height="0.9" fill="#b81070"/>
<rect x="300.17" y="326.52" width="0.9" height="0.9" fill="#b81070"/>
<rect x="302.24" y="314.25" width="0.9" height="0.9" fill="#c81878"/>
<rect x="312.94" y="312.44" width="0.9" height="0.9" fill="#c81878"/>
<rect x="303.57" y="320.59" width="0.9" height="0.9" fill="#f498c8"/>
<rect x="311.8" y="320.94" width="0.9" height="0.9" fill="#f8c8e0"/>
<rect x="300.29" y="320.65" width="0.9" height="0.9" fill="#b81070"/>
<rect x="311.94" y="316.14" width="0.9" height="0.9" fill="#c81878"/>
<rect x="305.92" y="311.06" width="0.9" height="0.9" fill="#c81878"/>
<rect x="301.17" y="316.39" width="0.9" height="0.9" fill="#d0207e"/>
<rect x="302.07" y="324.6" width="0.9" height="0.9" fill="#d0207e"/>
<rect x="300.03" y="309.89" width="0.9" height="0.9" fill="#f8c8e0"/>
<rect x="299.41" y="321.26" width="0.9" height="0.9" fill="#e03090"/>
<rect x="307.02" y="313.34" width="0.9" height="0.9" fill="#b81070"/>
<rect x="296.97" y="312.02" width="0.9" height="0.9" fill="#f4a8cc"/>
<rect x="299.61" y="315.87" width="0.9" height="0.9" fill="#b81070"/>
<rect x="309.61" y="312.9" width="0.9" height="0.9" fill="#d0207e"/>
<rect x="309.54" y="311.2" width="0.9" height="0.9" fill="#e03090"/>
<rect x="301.69" y="319.14" width="0.9" height="0.9" fill="#e03090"/>
<rect x="301.33" y="317.6" width="0.9" height="0.9" fill="#b81070"/>
<rect x="308.31" y="315.92" width="0.9" height="0.9" fill="#f070b0"/>
<rect x="310.29" y="316.48" width="0.9" height="0.9" fill="#f498c8"/>
<rect x="303.19" y="320" width="0.9" height="0.9" fill="#e03090"/>
<rect x="310.72" y="312.49" width="0.9" height="0.9" fill="#e03090"/>
<rect x="305.77" y="313.99" width="0.9" height="0.9" fill="#e03090"/>
<rect x="300.38" y="323.37" width="0.9" height="0.9" fill="#f070b0"/>
<rect x="309.19" y="315.53" width="0.9" height="0.9" fill="#e03090"/>
<rect x="304.9" y="327.85" width="0.9" height="0.9" fill="#f4a8cc"/>
<rect x="305.49" y="311.45" width="0.9" height="0.9" fill="#f498c8"/>
<rect x="298.56" y="321.76" width="0.9" height="0.9" fill="#d0207e"/>
<rect x="308.86" y="311.25" width="0.9" height="0.9" fill="#f070b0"/>
<rect x="306.62" y="311.88" width="0.9" height="0.9" fill="#e03090"/>
<rect x="304.53" y="320.33" width="0.9" height="0.9" fill="#c81878"/>
<rect x="300.4" y="321.32" width="0.9" height="0.9" fill="#b81070"/>
<rect x="311.66" y="312.66" width="0.9" height="0.9" fill="#f070b0"/>
<rect x="301.96" y="323.34" width="0.9" height="0.9" fill="#d0207e"/>
<rect x="301.85" y="325.11" width="0.9" height="0.9" fill="#d0207e"/>
<rect x="299.61" y="324.9" width="0.9" height="0.9" fill="#f070b0"/>
<rect x="297.83" y="323.8" width="0.9" height="0.9" fill="#f070b0"/>
<rect x="301.96" y="313.95" width="0.9" height="0.9" fill="#d0207e"/>
<rect x="306.66" y="313.87" width="0.9" height="0.9" fill="#f498c8"/>
<rect x="296.35" y="323.33" width="0.9" height="0.9" fill="#c81878"/>
<rect x="306.93" y="315.32" width="0.9" height="0.9" fill="#d0207e"/>
<rect x="299.68" y="320.61" width="0.9" height="0.9" fill="#c81878"/>
<rect x="312.22" y="312.16" width="0.9" height="0.9" fill="#f498c8"/>
<rect x="300.8" y="315.96" width="0.9" height="0.9" fill="#d0207e"/>
<rect x="310.83" y="314.37" width="0.9" height="0.9" fill="#f498c8"/>
<rect x="307.61" y="321.15" width="0.9" height="0.9" fill="#d0207e"/>
<rect x="310.47" y="323.84" width="0.9" height="0.9" fill="#f8c8e0"/>
<rect x="299.1" y="326.35" width="0.9" height="0.9" fill="#f498c8"/>
<rect x="311.52" y="312.1" width="0.9" height="0.9" fill="#f498c8"/>
<rect x="298.56" y="323.85" width="0.9" height="0.9" fill="#f070b0"/>
<rect x="308.77" y="318.56" width="0.9" height="0.9" fill="#d0207e"/>
<rect x="307.72" y="310.24" width="0.9" height="0.9" fill="#e03090"/>
<rect x="306.12" y="320.71" width="0.9" height="0.9" fill="#b81070"/>
<rect x="301.38" y="326.63" width="0.9" height="0.9" fill="#f070b0"/>
<rect x="306.76" y="320.14" width="0.9" height="0.9" fill="#f070b0"/>
<rect x="297.31" y="328.42" width="0.9" height="0.9" fill="#c81878"/>
<rect x="308.43" y="314.82" width="0.9" height="0.9" fill="#c81878"/>
<rect x="312.18" y="314.71" width="0.9" height="0.9" fill="#f498c8"/>
<rect x="305.33" y="322.96" width="0.9" height="0.9" fill="#b81070"/>
<rect x="308.2" y="317.29" width="0.9" height="0.9" fill="#f498c8"/>
<rect x="305.18" y="316.97" width="0.9" height="0.9" fill="#c81878"/>
<rect x="302.58" y="317.02" width="0.9" height="0.9" fill="#d0207e"/>
<rect x="300.06" y="319.27" width="0.9" height="0.9" fill="#f498c8"/>
<rect x="310.03" y="322.44" width="0.9" height="0.9" fill="#f4a8cc"/>
<rect x="311.44" y="310.47" width="0.9" height="0.9" fill="#b81070"/>
<rect x="305.49" y="322.85" width="0.9" height="0.9" fill="#d0207e"/>
<rect x="305.33" y="315.65" width="0.9" height="0.9" fill="#e03090"/>
<rect x="304.67" y="321.05" width="0.9" height="0.9" fill="#d0207e"/>
<rect x="299.99" y="321.78" width="0.9" height="0.9" fill="#b81070"/>
<rect x="310.78" y="316.43" width="0.9" height="0.9" fill="#f070b0"/>
<rect x="302.69" y="319.76" width="0.9" height="0.9" fill="#e03090"/>
<rect x="307.21" y="325.61" width="0.9" height="0.9" fill="#f4a8cc"/>
<rect x="306.02" y="320.63" width="0.9" height="0.9" fill="#c81878"/>
<rect x="297.12" y="324.27" width="0.9" height="0.9" fill="#f498c8"/>
<rect x="304.91" y="319.79" width="0.9" height="0.9" fill="#f498c8"/>
<rect x="303.83" y="321.99" width="0.9" height="0.9" fill="#b81070"/>
<rect x="310.75" y="310.34" width="0.9" height="0.9" fill="#d0207e"/>
<rect x="302.15" y="326.34" width="0.9" height="0.9" fill="#d0207e"/>
<rect x="304.86" y="318.33" width="0.9" height="0.9" fill="#f070b0"/>
<rect x="300.68" y="315.16" width="0.9" height="0.9" fill="#d0207e"/>
<rect x="311.99" y="318.74" width="0.9" height="0.9" fill="#e060a8"/>
<rect x="312.4" y="314.62" width="0.9" height="0.9" fill="#e870b0"/>
<rect x="304.07" y="313.96" width="0.9" height="0.9" fill="#e060a8"/>
<rect x="309.99" y="315.56" width="0.9" height="0.9" fill="#f4a8cc"/>
<rect x="310.02" y="324.02" width="0.9" height="0.9" fill="#f4a8cc"/>
<rect x="304.2" y="315.01" width="0.9" height="0.9" fill="#f4a8cc"/>
<rect x="304.66" y="314.68" width="0.9" height="0.9" fill="#f4a8cc"/>
<rect x="314.54" y="315.83" width="0.9" height="0.9" fill="#f4a8cc"/>
<rect x="313.59" y="313.37" width="0.9" height="0.9" fill="#e060a8"/>
<rect x="313.88" y="315.03" width="0.9" height="0.9" fill="#e060a8"/>
<rect x="315.02" y="316.36" width="0.9" height="0.9" fill="#f4a8cc"/>
<rect x="314.59" y="322.76" width="0.9" height="0.9" fill="#e060a8"/>
<rect x="308.22" y="322.69" width="0.9" height="0.9" fill="#f4a8cc"/>
<rect x="315.15" y="318.46" width="0.9" height="0.9" fill="#f4a8cc"/>
<rect x="295.83" y="335.05" width="0.9" height="0.9" fill="#50b050"/>
<rect x="298.17" y="338.11" width="0.9" height="0.9" fill="#80d080"/>
<rect x="297.29" y="337.67" width="0.9" height="0.9" fill="#60c060"/>
<rect x="297.26" y="331.81" width="0.9" height="0.9" fill="#50b050"/>
<rect x="296.87" y="335.36" width="0.9" height="0.9" fill="#80d080"/>
<rect x="295.38" y="338.39" width="0.9" height="0.9" fill="#60c060"/>
<rect x="299.24" y="332.24" width="0.9" height="0.9" fill="#80d080"/>
<rect x="296.5" y="340.66" width="0.9" height="0.9" fill="#50b050"/>
<rect x="298.11" y="342.44" width="0.9" height="0.9" fill="#60c060"/>
<rect x="298.8" y="336.65" width="0.9" height="0.9" fill="#80d080"/>
<rect x="296.98" y="339.66" width="0.9" height="0.9" fill="#60c060"/>
<rect x="296.85" y="335.62" width="0.9" height="0.9" fill="#60c060"/>
<rect x="296.07" y="341.65" width="0.9" height="0.9" fill="#50b050"/>
<rect x="295.86" y="339.85" width="0.9" height="0.9" fill="#60c060"/>
<rect x="297.12" y="332.04" width="0.9" height="0.9" fill="#60c060"/>
<rect x="297.61" y="336.71" width="0.9" height="0.9" fill="#60c060"/>
<rect x="297.71" y="337.49" width="0.9" height="0.9" fill="#60c060"/>
<rect x="298.16" y="334.86" width="0.9" height="0.9" fill="#60c060"/>
<rect x="297.08" y="337.33" width="0.9" height="0.9" fill="#80d080"/>
<rect x="296.42" y="342.48" width="0.9" height="0.9" fill="#60c060"/>
<rect x="298.58" y="341.03" width="0.9" height="0.9" fill="#60c060"/>
<rect x="297.47" y="342.3" width="0.9" height="0.9" fill="#60c060"/>
<rect x="298.5" y="342.37" width="0.9" height="0.9" fill="#50b050"/>
<rect x="297.29" y="335.41" width="0.9" height="0.9" fill="#80d080"/>
<rect x="297.74" y="340.88" width="0.9" height="0.9" fill="#80d080"/>
<rect x="306.96" y="338.97" width="0.9" height="0.9" fill="#8080c0"/>
<rect x="306.3" y="333.24" width="0.9" height="0.9" fill="#a0a0d0"/>
<rect x="310.01" y="338.71" width="0.9" height="0.9" fill="#7070b0"/>
<rect x="306.29" y="332.19" width="0.9" height="0.9" fill="#9090c8"/>
<rect x="308.03" y="334.36" width="0.9" height="0.9" fill="#a0a0d0"/>
<rect x="308.92" y="337.39" width="0.9" height="0.9" fill="#9090c8"/>
<rect x="306.74" y="338.21" width="0.9" height="0.9" fill="#9090c8"/>
<rect x="307.42" y="337.36" width="0.9" height="0.9" fill="#8080c0"/>
<rect x="309.47" y="331.08" width="0.9" height="0.9" fill="#8080c0"/>
<rect x="307.07" y="336.08" width="0.9" height="0.9" fill="#7070b0"/>
<rect x="304.26" y="332.98" width="0.9" height="0.9" fill="#a0a0d0"/>
<rect x="306.19" y="337.4" width="0.9" height="0.9" fill="#a0a0d0"/>
<rect x="307.05" y="337.55" width="0.9" height="0.9" fill="#9090c8"/>
<rect x="310.59" y="331.52" width="0.9" height="0.9" fill="#a0a0d0"/>
<rect x="310.44" y="332.12" width="0.9" height="0.9" fill="#9090c8"/>
<rect x="310.47" y="331.65" width="0.9" height="0.9" fill="#a0a0d0"/>
<rect x="325.93" y="342.43" width="0.9" height="0.9" fill="#c8d8e0"/>
<rect x="350.44" y="307.55" width="0.9" height="0.9" fill="#d0d0e0"/>
<rect x="347.65" y="331.05" width="0.9" height="0.9" fill="#e0c8d8"/>
<rect x="353.28" y="324.58" width="0.9" height="0.9" fill="#d0d0e0"/>
<rect x="324.41" y="342.22" width="0.9" height="0.9" fill="#d0d0e0"/>
<rect x="340.71" y="321.42" width="0.9" height="0.9" fill="#d0d0e0"/>
<rect x="352.51" y="343.74" width="0.9" height="0.9" fill="#e0c8d8"/>
<rect x="327.85" y="338.34" width="0.9" height="0.9" fill="#c8d8e0"/>
<rect x="293.9" y="306.3" width="22.7" height="23" fill="none" stroke="#231f20" stroke-width="1"/>
<line x1="293.6" y1="329.3" x2="316.9" y2="329.3" stroke="#111" stroke-width="1.6"/>
<line x1="293.9" y1="329.3" x2="293.9" y2="349.8" stroke="#161213" stroke-width="1"/>
<line x1="303" y1="329.3" x2="303" y2="349.8" stroke="#161213" stroke-width="1"/>
<rect x="303" y="329.3" width="13.6" height="13.7" fill="none" stroke="#231f20" stroke-width="1"/>
<rect x="285.6" y="282.6" width="79.8" height="67.2" fill="none" stroke="#231f20" stroke-width="0.9"/>
<line x1="283.6" y1="349.8" x2="285.6" y2="349.8" stroke="#231f20" stroke-width="0.6"/>
<line x1="284.3" y1="344.74" x2="285.6" y2="344.74" stroke="#231f20" stroke-width="0.6"/>
<line x1="284.3" y1="341.78" x2="285.6" y2="341.78" stroke="#231f20" stroke-width="0.6"/>
<line x1="284.3" y1="339.69" x2="285.6" y2="339.69" stroke="#231f20" stroke-width="0.6"/>
<line x1="284.3" y1="338.06" x2="285.6" y2="338.06" stroke="#231f20" stroke-width="0.6"/>
<line x1="284.3" y1="336.73" x2="285.6" y2="336.73" stroke="#231f20" stroke-width="0.6"/>
<line x1="284.3" y1="335.6" x2="285.6" y2="335.6" stroke="#231f20" stroke-width="0.6"/>
<line x1="284.3" y1="334.63" x2="285.6" y2="334.63" stroke="#231f20" stroke-width="0.6"/>
<line x1="284.3" y1="333.77" x2="285.6" y2="333.77" stroke="#231f20" stroke-width="0.6"/>
<line x1="283.6" y1="333" x2="285.6" y2="333" stroke="#231f20" stroke-width="0.6"/>
<line x1="284.3" y1="327.94" x2="285.6" y2="327.94" stroke="#231f20" stroke-width="0.6"/>
<line x1="284.3" y1="324.98" x2="285.6" y2="324.98" stroke="#231f20" stroke-width="0.6"/>
<line x1="284.3" y1="322.89" x2="285.6" y2="322.89" stroke="#231f20" stroke-width="0.6"/>
<line x1="284.3" y1="321.26" x2="285.6" y2="321.26" stroke="#231f20" stroke-width="0.6"/>
<line x1="284.3" y1="319.93" x2="285.6" y2="319.93" stroke="#231f20" stroke-width="0.6"/>
<line x1="284.3" y1="318.8" x2="285.6" y2="318.8" stroke="#231f20" stroke-width="0.6"/>
<line x1="284.3" y1="317.83" x2="285.6" y2="317.83" stroke="#231f20" stroke-width="0.6"/>
<line x1="284.3" y1="316.97" x2="285.6" y2="316.97" stroke="#231f20" stroke-width="0.6"/>
<line x1="283.6" y1="316.2" x2="285.6" y2="316.2" stroke="#231f20" stroke-width="0.6"/>
<line x1="284.3" y1="311.14" x2="285.6" y2="311.14" stroke="#231f20" stroke-width="0.6"/>
<line x1="284.3" y1="308.18" x2="285.6" y2="308.18" stroke="#231f20" stroke-width="0.6"/>
<line x1="284.3" y1="306.09" x2="285.6" y2="306.09" stroke="#231f20" stroke-width="0.6"/>
<line x1="284.3" y1="304.46" x2="285.6" y2="304.46" stroke="#231f20" stroke-width="0.6"/>
<line x1="284.3" y1="303.13" x2="285.6" y2="303.13" stroke="#231f20" stroke-width="0.6"/>
<line x1="284.3" y1="302" x2="285.6" y2="302" stroke="#231f20" stroke-width="0.6"/>
<line x1="284.3" y1="301.03" x2="285.6" y2="301.03" stroke="#231f20" stroke-width="0.6"/>
<line x1="284.3" y1="300.17" x2="285.6" y2="300.17" stroke="#231f20" stroke-width="0.6"/>
<line x1="283.6" y1="299.4" x2="285.6" y2="299.4" stroke="#231f20" stroke-width="0.6"/>
<line x1="284.3" y1="294.34" x2="285.6" y2="294.34" stroke="#231f20" stroke-width="0.6"/>
<line x1="284.3" y1="291.38" x2="285.6" y2="291.38" stroke="#231f20" stroke-width="0.6"/>
<line x1="284.3" y1="289.29" x2="285.6" y2="289.29" stroke="#231f20" stroke-width="0.6"/>
<line x1="284.3" y1="287.66" x2="285.6" y2="287.66" stroke="#231f20" stroke-width="0.6"/>
<line x1="284.3" y1="286.33" x2="285.6" y2="286.33" stroke="#231f20" stroke-width="0.6"/>
<line x1="284.3" y1="285.2" x2="285.6" y2="285.2" stroke="#231f20" stroke-width="0.6"/>
<line x1="284.3" y1="284.23" x2="285.6" y2="284.23" stroke="#231f20" stroke-width="0.6"/>
<line x1="284.3" y1="283.37" x2="285.6" y2="283.37" stroke="#231f20" stroke-width="0.6"/>
<line x1="283.6" y1="282.6" x2="285.6" y2="282.6" stroke="#231f20" stroke-width="0.6"/>
<line x1="285.6" y1="349.8" x2="285.6" y2="350.9" stroke="#231f20" stroke-width="0.55"/>
<line x1="287.65" y1="349.8" x2="287.65" y2="350.9" stroke="#231f20" stroke-width="0.55"/>
<line x1="289.69" y1="349.8" x2="289.69" y2="350.9" stroke="#231f20" stroke-width="0.55"/>
<line x1="291.74" y1="349.8" x2="291.74" y2="350.9" stroke="#231f20" stroke-width="0.55"/>
<line x1="293.78" y1="349.8" x2="293.78" y2="350.9" stroke="#231f20" stroke-width="0.55"/>
<line x1="295.83" y1="349.8" x2="295.83" y2="350.9" stroke="#231f20" stroke-width="0.55"/>
<line x1="297.88" y1="349.8" x2="297.88" y2="350.9" stroke="#231f20" stroke-width="0.55"/>
<line x1="299.92" y1="349.8" x2="299.92" y2="350.9" stroke="#231f20" stroke-width="0.55"/>
<line x1="301.97" y1="349.8" x2="301.97" y2="350.9" stroke="#231f20" stroke-width="0.55"/>
<line x1="304.02" y1="349.8" x2="304.02" y2="350.9" stroke="#231f20" stroke-width="0.55"/>
<line x1="306.06" y1="349.8" x2="306.06" y2="350.9" stroke="#231f20" stroke-width="0.55"/>
<line x1="308.11" y1="349.8" x2="308.11" y2="350.9" stroke="#231f20" stroke-width="0.55"/>
<line x1="310.15" y1="349.8" x2="310.15" y2="350.9" stroke="#231f20" stroke-width="0.55"/>
<line x1="312.2" y1="349.8" x2="312.2" y2="350.9" stroke="#231f20" stroke-width="0.55"/>
<line x1="314.25" y1="349.8" x2="314.25" y2="350.9" stroke="#231f20" stroke-width="0.55"/>
<line x1="316.29" y1="349.8" x2="316.29" y2="350.9" stroke="#231f20" stroke-width="0.55"/>
<line x1="318.34" y1="349.8" x2="318.34" y2="350.9" stroke="#231f20" stroke-width="0.55"/>
<line x1="320.38" y1="349.8" x2="320.38" y2="350.9" stroke="#231f20" stroke-width="0.55"/>
<line x1="322.43" y1="349.8" x2="322.43" y2="350.9" stroke="#231f20" stroke-width="0.55"/>
<line x1="324.48" y1="349.8" x2="324.48" y2="350.9" stroke="#231f20" stroke-width="0.55"/>
<line x1="326.52" y1="349.8" x2="326.52" y2="350.9" stroke="#231f20" stroke-width="0.55"/>
<line x1="328.57" y1="349.8" x2="328.57" y2="350.9" stroke="#231f20" stroke-width="0.55"/>
<line x1="330.62" y1="349.8" x2="330.62" y2="350.9" stroke="#231f20" stroke-width="0.55"/>
<line x1="332.66" y1="349.8" x2="332.66" y2="350.9" stroke="#231f20" stroke-width="0.55"/>
<line x1="334.71" y1="349.8" x2="334.71" y2="350.9" stroke="#231f20" stroke-width="0.55"/>
<line x1="336.75" y1="349.8" x2="336.75" y2="350.9" stroke="#231f20" stroke-width="0.55"/>
<line x1="338.8" y1="349.8" x2="338.8" y2="350.9" stroke="#231f20" stroke-width="0.55"/>
<line x1="340.85" y1="349.8" x2="340.85" y2="350.9" stroke="#231f20" stroke-width="0.55"/>
<line x1="342.89" y1="349.8" x2="342.89" y2="350.9" stroke="#231f20" stroke-width="0.55"/>
<line x1="344.94" y1="349.8" x2="344.94" y2="350.9" stroke="#231f20" stroke-width="0.55"/>
<line x1="346.98" y1="349.8" x2="346.98" y2="350.9" stroke="#231f20" stroke-width="0.55"/>
<line x1="349.03" y1="349.8" x2="349.03" y2="350.9" stroke="#231f20" stroke-width="0.55"/>
<line x1="351.08" y1="349.8" x2="351.08" y2="350.9" stroke="#231f20" stroke-width="0.55"/>
<line x1="353.12" y1="349.8" x2="353.12" y2="350.9" stroke="#231f20" stroke-width="0.55"/>
<line x1="355.17" y1="349.8" x2="355.17" y2="350.9" stroke="#231f20" stroke-width="0.55"/>
<line x1="357.22" y1="349.8" x2="357.22" y2="350.9" stroke="#231f20" stroke-width="0.55"/>
<line x1="359.26" y1="349.8" x2="359.26" y2="350.9" stroke="#231f20" stroke-width="0.55"/>
<line x1="361.31" y1="349.8" x2="361.31" y2="350.9" stroke="#231f20" stroke-width="0.55"/>
<line x1="363.35" y1="349.8" x2="363.35" y2="350.9" stroke="#231f20" stroke-width="0.55"/>
<line x1="365.4" y1="349.8" x2="365.4" y2="350.9" stroke="#231f20" stroke-width="0.55"/>
<text x="296" y="303.6" font-size="7" stroke="#161213" stroke-width="0.26" textLength="22.6" lengthAdjust="spacingAndGlyphs">S=80%</text>
<text x="318.6" y="339.2" font-size="7" stroke="#161213" stroke-width="0.26" textLength="29.6" lengthAdjust="spacingAndGlyphs">G2=1.4%</text>
<text x="306.2" y="349.8" font-size="7" stroke="#161213" stroke-width="0.26" textLength="28.2" lengthAdjust="spacingAndGlyphs">G1=16%</text>
<text x="325.4" y="360.9" font-size="7.8" stroke="#161213" stroke-width="0.26" text-anchor="middle" textLength="42.4" lengthAdjust="spacingAndGlyphs">7-AAD (DNA)</text>
<text x="356.2" y="356.7" font-size="5.2" stroke="#161213" stroke-width="0.26" textLength="12.8" lengthAdjust="spacingAndGlyphs">1023</text>
<g transform="translate(282.8,353.2) rotate(-90)">
<text x="0" y="0" font-size="7.8" stroke="#161213" stroke-width="0.26" textLength="8.2" lengthAdjust="spacingAndGlyphs">10</text>
<text x="7.4" y="-5.8" font-size="5" stroke="#161213" stroke-width="0.26">0</text>
</g>
<g transform="translate(282.8,334.4) rotate(-90)">
<text x="0" y="0" font-size="7.8" stroke="#161213" stroke-width="0.26" textLength="8.2" lengthAdjust="spacingAndGlyphs">10</text>
<text x="7.4" y="-5.8" font-size="5" stroke="#161213" stroke-width="0.26">1</text>
</g>
<g transform="translate(282.8,319.2) rotate(-90)">
<text x="0" y="0" font-size="7.8" stroke="#161213" stroke-width="0.26" textLength="8.2" lengthAdjust="spacingAndGlyphs">10</text>
<text x="7.4" y="-5.8" font-size="5" stroke="#161213" stroke-width="0.26">2</text>
</g>
<g transform="translate(282.8,303.4) rotate(-90)">
<text x="0" y="0" font-size="7.8" stroke="#161213" stroke-width="0.26" textLength="8.2" lengthAdjust="spacingAndGlyphs">10</text>
<text x="7.4" y="-5.8" font-size="5" stroke="#161213" stroke-width="0.26">3</text>
</g>
<g transform="translate(282.8,285.4) rotate(-90)">
<text x="0" y="0" font-size="7.8" stroke="#161213" stroke-width="0.26" textLength="8.2" lengthAdjust="spacingAndGlyphs">10</text>
<text x="7.4" y="-5.8" font-size="5" stroke="#161213" stroke-width="0.26">4</text>
</g>
<g transform="translate(270.6,316.5) rotate(-90)">
<text x="0" y="0" font-size="8.4" stroke="#161213" stroke-width="0.26" text-anchor="middle" textLength="43" lengthAdjust="spacingAndGlyphs">FITC-BRDU</text>
</g>
<g filter="url(#b1)">
<polygon points="436,327.5 436.6,318 441,314.5 447,311.5 454,309.8 455.5,312.5 452.5,317.5 447.5,321.5 443,325 439.5,328.5" fill="#f6c8de"/>
<polyline points="436.6,319.5 437.8,324.5 441,319 446,315 450.5,312.6 454.5,311" fill="none" stroke="#e0388f" stroke-width="2.4" stroke-linejoin="round"/>
</g>
<rect x="452.49" y="312.93" width="0.9" height="0.9" fill="#e878b8"/>
<rect x="452.78" y="313.78" width="0.9" height="0.9" fill="#f0a0c8"/>
<rect x="438.67" y="324" width="0.9" height="0.9" fill="#f0a0c8"/>
<rect x="452" y="315" width="0.9" height="0.9" fill="#e050a0"/>
<rect x="449.31" y="315.09" width="0.9" height="0.9" fill="#e050a0"/>
<rect x="443.19" y="322.06" width="0.9" height="0.9" fill="#f0a0c8"/>
<rect x="440.43" y="324.17" width="0.9" height="0.9" fill="#f4b8d4"/>
<rect x="453.59" y="320.64" width="0.9" height="0.9" fill="#e050a0"/>
<rect x="444.08" y="320.02" width="0.9" height="0.9" fill="#e878b8"/>
<rect x="441.17" y="322.55" width="0.9" height="0.9" fill="#f0a0c8"/>
<rect x="449.65" y="319.03" width="0.9" height="0.9" fill="#e878b8"/>
<rect x="438.62" y="324.78" width="0.9" height="0.9" fill="#e050a0"/>
<rect x="439.95" y="330" width="0.9" height="0.9" fill="#e878b8"/>
<rect x="442.65" y="324.92" width="0.9" height="0.9" fill="#e050a0"/>
<rect x="438.28" y="324.23" width="0.9" height="0.9" fill="#e878b8"/>
<rect x="441.21" y="327.8" width="0.9" height="0.9" fill="#e050a0"/>
<rect x="451.82" y="316.2" width="0.9" height="0.9" fill="#e878b8"/>
<rect x="441.22" y="323.1" width="0.9" height="0.9" fill="#f4b8d4"/>
<rect x="442.34" y="325.04" width="0.9" height="0.9" fill="#f0a0c8"/>
<rect x="447.26" y="320.26" width="0.9" height="0.9" fill="#e050a0"/>
<rect x="438.52" y="330" width="0.9" height="0.9" fill="#e050a0"/>
<rect x="441.11" y="325.99" width="0.9" height="0.9" fill="#f0a0c8"/>
<rect x="448.5" y="318.12" width="0.9" height="0.9" fill="#f4b8d4"/>
<rect x="445.7" y="318.2" width="0.9" height="0.9" fill="#e050a0"/>
<rect x="449.88" y="316.76" width="0.9" height="0.9" fill="#e050a0"/>
<rect x="450.94" y="318.85" width="0.9" height="0.9" fill="#f4b8d4"/>
<rect x="439.53" y="327.7" width="0.9" height="0.9" fill="#f4b8d4"/>
<rect x="445.38" y="319.43" width="0.9" height="0.9" fill="#e878b8"/>
<rect x="438.63" y="325.7" width="0.9" height="0.9" fill="#f0a0c8"/>
<rect x="444.65" y="319.74" width="0.9" height="0.9" fill="#e050a0"/>
<rect x="439.22" y="322.88" width="0.9" height="0.9" fill="#e050a0"/>
<rect x="440.72" y="326.61" width="0.9" height="0.9" fill="#e878b8"/>
<rect x="443.31" y="322.92" width="0.9" height="0.9" fill="#f4b8d4"/>
<rect x="442.85" y="325.31" width="0.9" height="0.9" fill="#e050a0"/>
<rect x="439.5" y="323.14" width="0.9" height="0.9" fill="#f4b8d4"/>
<rect x="442.33" y="320.96" width="0.9" height="0.9" fill="#e878b8"/>
<rect x="443.19" y="319.22" width="0.9" height="0.9" fill="#e878b8"/>
<rect x="446.11" y="321.45" width="0.9" height="0.9" fill="#e050a0"/>
<rect x="453.19" y="312.54" width="0.9" height="0.9" fill="#f0a0c8"/>
<rect x="452.53" y="316.46" width="0.9" height="0.9" fill="#f0a0c8"/>
<rect x="452.25" y="320.66" width="0.9" height="0.9" fill="#f4b8d4"/>
<rect x="450.67" y="314.29" width="0.9" height="0.9" fill="#f0a0c8"/>
<rect x="449.02" y="315.49" width="0.9" height="0.9" fill="#f0a0c8"/>
<rect x="451.46" y="318.69" width="0.9" height="0.9" fill="#e878b8"/>
<rect x="444.78" y="319.11" width="0.9" height="0.9" fill="#e878b8"/>
<rect x="439.35" y="323.17" width="0.9" height="0.9" fill="#f0a0c8"/>
<rect x="441.74" y="325.25" width="0.9" height="0.9" fill="#e878b8"/>
<rect x="451.14" y="316.6" width="0.9" height="0.9" fill="#e878b8"/>
<rect x="447.59" y="316.82" width="0.9" height="0.9" fill="#f0a0c8"/>
<rect x="451.03" y="313.33" width="0.9" height="0.9" fill="#e050a0"/>
<rect x="439.34" y="322.26" width="0.9" height="0.9" fill="#f0a0c8"/>
<rect x="438.17" y="327.55" width="0.9" height="0.9" fill="#f4b8d4"/>
<rect x="450.59" y="319.61" width="0.9" height="0.9" fill="#f0a0c8"/>
<rect x="449.74" y="315.44" width="0.9" height="0.9" fill="#f0a0c8"/>
<rect x="440.42" y="322.26" width="0.9" height="0.9" fill="#f0a0c8"/>
<rect x="438.26" y="329.4" width="0.9" height="0.9" fill="#f0a0c8"/>
<rect x="437.7" y="322.02" width="0.9" height="0.9" fill="#f0a0c8"/>
<rect x="437.44" y="322.3" width="0.9" height="0.9" fill="#f0a0c8"/>
<rect x="439.2" y="327.09" width="0.9" height="0.9" fill="#e878b8"/>
<rect x="436.89" y="328.93" width="0.9" height="0.9" fill="#e878b8"/>
<rect x="438.79" y="322.74" width="0.9" height="0.9" fill="#f0a0c8"/>
<rect x="436.35" y="326.66" width="0.9" height="0.9" fill="#f0a0c8"/>
<rect x="437.03" y="323.08" width="0.9" height="0.9" fill="#f0a0c8"/>
<rect x="436.34" y="329.24" width="0.9" height="0.9" fill="#f0a0c8"/>
<rect x="438.69" y="326.72" width="0.9" height="0.9" fill="#f0a0c8"/>
<rect x="436.7" y="344.02" width="0.9" height="0.9" fill="#b8e4b0"/>
<rect x="439.24" y="343.18" width="0.9" height="0.9" fill="#a0d8a0"/>
<rect x="434.48" y="346.6" width="0.9" height="0.9" fill="#b8e4b0"/>
<rect x="439.26" y="347.75" width="0.9" height="0.9" fill="#90d090"/>
<rect x="435.39" y="340.74" width="0.9" height="0.9" fill="#90d090"/>
<rect x="440.14" y="342.85" width="0.9" height="0.9" fill="#a0d8a0"/>
<rect x="436.74" y="346.61" width="0.9" height="0.9" fill="#b8e4b0"/>
<rect x="439.78" y="339.81" width="0.9" height="0.9" fill="#a0d8a0"/>
<rect x="435.6" y="344.59" width="0.9" height="0.9" fill="#b8e4b0"/>
<rect x="438.64" y="348.77" width="0.9" height="0.9" fill="#80c880"/>
<rect x="439.55" y="332.58" width="0.9" height="0.9" fill="#80c880"/>
<rect x="438.23" y="349.62" width="0.9" height="0.9" fill="#80c880"/>
<rect x="436.93" y="343.39" width="0.9" height="0.9" fill="#80c880"/>
<rect x="435.02" y="342.32" width="0.9" height="0.9" fill="#a0d8a0"/>
<rect x="436.48" y="347.7" width="0.9" height="0.9" fill="#a0d8a0"/>
<rect x="436.04" y="334.08" width="0.9" height="0.9" fill="#b8e4b0"/>
<rect x="435.31" y="348.51" width="0.9" height="0.9" fill="#80c880"/>
<rect x="438.63" y="347.03" width="0.9" height="0.9" fill="#a0d8a0"/>
<rect x="435.51" y="343.79" width="0.9" height="0.9" fill="#80c880"/>
<rect x="439.76" y="335.81" width="0.9" height="0.9" fill="#b8e4b0"/>
<rect x="436.33" y="335.22" width="0.9" height="0.9" fill="#90d090"/>
<rect x="435.57" y="348.52" width="0.9" height="0.9" fill="#80c880"/>
<rect x="436.16" y="338.23" width="0.9" height="0.9" fill="#90d090"/>
<rect x="440" y="349.93" width="0.9" height="0.9" fill="#80c880"/>
<rect x="437.69" y="332.51" width="0.9" height="0.9" fill="#90d090"/>
<rect x="434.73" y="336.93" width="0.9" height="0.9" fill="#b8e4b0"/>
<rect x="439.16" y="344.67" width="0.9" height="0.9" fill="#80c880"/>
<rect x="434.95" y="346.06" width="0.9" height="0.9" fill="#b8e4b0"/>
<rect x="438.66" y="333.87" width="0.9" height="0.9" fill="#b8e4b0"/>
<rect x="437.11" y="349.74" width="0.9" height="0.9" fill="#b8e4b0"/>
<rect x="436.14" y="345.27" width="0.9" height="0.9" fill="#80c880"/>
<rect x="440.56" y="347.06" width="0.9" height="0.9" fill="#a0d8a0"/>
<rect x="440.35" y="341.47" width="0.9" height="0.9" fill="#b8e4b0"/>
<rect x="438.84" y="332.82" width="0.9" height="0.9" fill="#a0d8a0"/>
<rect x="437.9" y="340.56" width="0.9" height="0.9" fill="#90d090"/>
<rect x="439.1" y="346" width="0.9" height="0.9" fill="#a0d8a0"/>
<rect x="440.64" y="341.18" width="0.9" height="0.9" fill="#a0d8a0"/>
<rect x="440.67" y="348.55" width="0.9" height="0.9" fill="#90d090"/>
<rect x="435.31" y="349.02" width="0.9" height="0.9" fill="#a0d8a0"/>
<rect x="440.98" y="335.62" width="0.9" height="0.9" fill="#b8e4b0"/>
<rect x="451.34" y="334.8" width="0.9" height="0.9" fill="#9090c8"/>
<rect x="448.76" y="341.79" width="0.9" height="0.9" fill="#9090c8"/>
<rect x="453.56" y="338.93" width="0.9" height="0.9" fill="#b0b0d8"/>
<rect x="449.66" y="341.76" width="0.9" height="0.9" fill="#8080c0"/>
<rect x="452.14" y="335.14" width="0.9" height="0.9" fill="#a0a0d0"/>
<rect x="453.92" y="337.21" width="0.9" height="0.9" fill="#9090c8"/>
<rect x="453.42" y="335.8" width="0.9" height="0.9" fill="#a0a0d0"/>
<rect x="446.01" y="340.17" width="0.9" height="0.9" fill="#9090c8"/>
<rect x="445.53" y="339.51" width="0.9" height="0.9" fill="#a0a0d0"/>
<rect x="452.02" y="341.12" width="0.9" height="0.9" fill="#8080c0"/>
<rect x="455.64" y="339.88" width="0.9" height="0.9" fill="#8080c0"/>
<rect x="455.53" y="334.28" width="0.9" height="0.9" fill="#8080c0"/>
<rect x="454.64" y="337.01" width="0.9" height="0.9" fill="#8080c0"/>
<rect x="455.1" y="336.33" width="0.9" height="0.9" fill="#8080c0"/>
<rect x="448.02" y="335.54" width="0.9" height="0.9" fill="#b0b0d8"/>
<rect x="446.84" y="334.44" width="0.9" height="0.9" fill="#b0b0d8"/>
<rect x="449.77" y="336.38" width="0.9" height="0.9" fill="#a0a0d0"/>
<rect x="453.23" y="335.49" width="0.9" height="0.9" fill="#a0a0d0"/>
<rect x="446.99" y="337.59" width="0.9" height="0.9" fill="#b0b0d8"/>
<rect x="452.91" y="335.12" width="0.9" height="0.9" fill="#8080c0"/>
<rect x="452.47" y="336.26" width="0.9" height="0.9" fill="#8080c0"/>
<rect x="454.14" y="333.65" width="0.9" height="0.9" fill="#b0b0d8"/>
<rect x="453.14" y="332.89" width="0.9" height="0.9" fill="#8080c0"/>
<rect x="447.92" y="341.43" width="0.9" height="0.9" fill="#8080c0"/>
<rect x="455.76" y="340.92" width="0.9" height="0.9" fill="#9090c8"/>
<rect x="452.92" y="338.94" width="0.9" height="0.9" fill="#b0b0d8"/>
<rect x="453.93" y="339.26" width="0.9" height="0.9" fill="#8080c0"/>
<rect x="445.57" y="334.18" width="0.9" height="0.9" fill="#9090c8"/>
<rect x="453.18" y="336.25" width="0.9" height="0.9" fill="#8080c0"/>
<rect x="448.5" y="337.25" width="0.9" height="0.9" fill="#8080c0"/>
<rect x="473.39" y="308.92" width="0.9" height="0.9" fill="#d0d0e0"/>
<rect x="481.4" y="325.02" width="0.9" height="0.9" fill="#c8d8e0"/>
<rect x="498.8" y="313.86" width="0.9" height="0.9" fill="#d0d0e0"/>
<rect x="472.9" y="303.17" width="0.9" height="0.9" fill="#e0c8d8"/>
<rect x="460.94" y="300.15" width="0.9" height="0.9" fill="#c8d8e0"/>
<rect x="487.38" y="327.74" width="0.9" height="0.9" fill="#e0c8d8"/>
<rect x="467.41" y="334.98" width="0.9" height="0.9" fill="#c8d8e0"/>
<rect x="492.69" y="340.24" width="0.9" height="0.9" fill="#d0d0e0"/>
<rect x="432.5" y="307.2" width="25" height="24" fill="none" stroke="#231f20" stroke-width="1"/>
<line x1="432.2" y1="331.2" x2="457.8" y2="331.2" stroke="#111" stroke-width="1.6"/>
<line x1="432.5" y1="331.2" x2="432.5" y2="351.2" stroke="#161213" stroke-width="1"/>
<line x1="442.5" y1="331.2" x2="442.5" y2="351.2" stroke="#161213" stroke-width="1"/>
<rect x="442.5" y="331.2" width="15" height="13.2" fill="none" stroke="#231f20" stroke-width="1"/>
<rect x="423.4" y="282.8" width="81.4" height="68.4" fill="none" stroke="#231f20" stroke-width="0.9"/>
<line x1="421.4" y1="351.2" x2="423.4" y2="351.2" stroke="#231f20" stroke-width="0.6"/>
<line x1="422.1" y1="346.05" x2="423.4" y2="346.05" stroke="#231f20" stroke-width="0.6"/>
<line x1="422.1" y1="343.04" x2="423.4" y2="343.04" stroke="#231f20" stroke-width="0.6"/>
<line x1="422.1" y1="340.9" x2="423.4" y2="340.9" stroke="#231f20" stroke-width="0.6"/>
<line x1="422.1" y1="339.25" x2="423.4" y2="339.25" stroke="#231f20" stroke-width="0.6"/>
<line x1="422.1" y1="337.89" x2="423.4" y2="337.89" stroke="#231f20" stroke-width="0.6"/>
<line x1="422.1" y1="336.75" x2="423.4" y2="336.75" stroke="#231f20" stroke-width="0.6"/>
<line x1="422.1" y1="335.76" x2="423.4" y2="335.76" stroke="#231f20" stroke-width="0.6"/>
<line x1="422.1" y1="334.88" x2="423.4" y2="334.88" stroke="#231f20" stroke-width="0.6"/>
<line x1="421.4" y1="334.1" x2="423.4" y2="334.1" stroke="#231f20" stroke-width="0.6"/>
<line x1="422.1" y1="328.95" x2="423.4" y2="328.95" stroke="#231f20" stroke-width="0.6"/>
<line x1="422.1" y1="325.94" x2="423.4" y2="325.94" stroke="#231f20" stroke-width="0.6"/>
<line x1="422.1" y1="323.8" x2="423.4" y2="323.8" stroke="#231f20" stroke-width="0.6"/>
<line x1="422.1" y1="322.15" x2="423.4" y2="322.15" stroke="#231f20" stroke-width="0.6"/>
<line x1="422.1" y1="320.79" x2="423.4" y2="320.79" stroke="#231f20" stroke-width="0.6"/>
<line x1="422.1" y1="319.65" x2="423.4" y2="319.65" stroke="#231f20" stroke-width="0.6"/>
<line x1="422.1" y1="318.66" x2="423.4" y2="318.66" stroke="#231f20" stroke-width="0.6"/>
<line x1="422.1" y1="317.78" x2="423.4" y2="317.78" stroke="#231f20" stroke-width="0.6"/>
<line x1="421.4" y1="317" x2="423.4" y2="317" stroke="#231f20" stroke-width="0.6"/>
<line x1="422.1" y1="311.85" x2="423.4" y2="311.85" stroke="#231f20" stroke-width="0.6"/>
<line x1="422.1" y1="308.84" x2="423.4" y2="308.84" stroke="#231f20" stroke-width="0.6"/>
<line x1="422.1" y1="306.7" x2="423.4" y2="306.7" stroke="#231f20" stroke-width="0.6"/>
<line x1="422.1" y1="305.05" x2="423.4" y2="305.05" stroke="#231f20" stroke-width="0.6"/>
<line x1="422.1" y1="303.69" x2="423.4" y2="303.69" stroke="#231f20" stroke-width="0.6"/>
<line x1="422.1" y1="302.55" x2="423.4" y2="302.55" stroke="#231f20" stroke-width="0.6"/>
<line x1="422.1" y1="301.56" x2="423.4" y2="301.56" stroke="#231f20" stroke-width="0.6"/>
<line x1="422.1" y1="300.68" x2="423.4" y2="300.68" stroke="#231f20" stroke-width="0.6"/>
<line x1="421.4" y1="299.9" x2="423.4" y2="299.9" stroke="#231f20" stroke-width="0.6"/>
<line x1="422.1" y1="294.75" x2="423.4" y2="294.75" stroke="#231f20" stroke-width="0.6"/>
<line x1="422.1" y1="291.74" x2="423.4" y2="291.74" stroke="#231f20" stroke-width="0.6"/>
<line x1="422.1" y1="289.6" x2="423.4" y2="289.6" stroke="#231f20" stroke-width="0.6"/>
<line x1="422.1" y1="287.95" x2="423.4" y2="287.95" stroke="#231f20" stroke-width="0.6"/>
<line x1="422.1" y1="286.59" x2="423.4" y2="286.59" stroke="#231f20" stroke-width="0.6"/>
<line x1="422.1" y1="285.45" x2="423.4" y2="285.45" stroke="#231f20" stroke-width="0.6"/>
<line x1="422.1" y1="284.46" x2="423.4" y2="284.46" stroke="#231f20" stroke-width="0.6"/>
<line x1="422.1" y1="283.58" x2="423.4" y2="283.58" stroke="#231f20" stroke-width="0.6"/>
<line x1="421.4" y1="282.8" x2="423.4" y2="282.8" stroke="#231f20" stroke-width="0.6"/>
<line x1="423.4" y1="351.2" x2="423.4" y2="352.3" stroke="#231f20" stroke-width="0.55"/>
<line x1="425.44" y1="351.2" x2="425.44" y2="352.3" stroke="#231f20" stroke-width="0.55"/>
<line x1="427.47" y1="351.2" x2="427.47" y2="352.3" stroke="#231f20" stroke-width="0.55"/>
<line x1="429.5" y1="351.2" x2="429.5" y2="352.3" stroke="#231f20" stroke-width="0.55"/>
<line x1="431.54" y1="351.2" x2="431.54" y2="352.3" stroke="#231f20" stroke-width="0.55"/>
<line x1="433.57" y1="351.2" x2="433.57" y2="352.3" stroke="#231f20" stroke-width="0.55"/>
<line x1="435.61" y1="351.2" x2="435.61" y2="352.3" stroke="#231f20" stroke-width="0.55"/>
<line x1="437.64" y1="351.2" x2="437.64" y2="352.3" stroke="#231f20" stroke-width="0.55"/>
<line x1="439.68" y1="351.2" x2="439.68" y2="352.3" stroke="#231f20" stroke-width="0.55"/>
<line x1="441.71" y1="351.2" x2="441.71" y2="352.3" stroke="#231f20" stroke-width="0.55"/>
<line x1="443.75" y1="351.2" x2="443.75" y2="352.3" stroke="#231f20" stroke-width="0.55"/>
<line x1="445.78" y1="351.2" x2="445.78" y2="352.3" stroke="#231f20" stroke-width="0.55"/>
<line x1="447.82" y1="351.2" x2="447.82" y2="352.3" stroke="#231f20" stroke-width="0.55"/>
<line x1="449.86" y1="351.2" x2="449.86" y2="352.3" stroke="#231f20" stroke-width="0.55"/>
<line x1="451.89" y1="351.2" x2="451.89" y2="352.3" stroke="#231f20" stroke-width="0.55"/>
<line x1="453.93" y1="351.2" x2="453.93" y2="352.3" stroke="#231f20" stroke-width="0.55"/>
<line x1="455.96" y1="351.2" x2="455.96" y2="352.3" stroke="#231f20" stroke-width="0.55"/>
<line x1="458" y1="351.2" x2="458" y2="352.3" stroke="#231f20" stroke-width="0.55"/>
<line x1="460.03" y1="351.2" x2="460.03" y2="352.3" stroke="#231f20" stroke-width="0.55"/>
<line x1="462.06" y1="351.2" x2="462.06" y2="352.3" stroke="#231f20" stroke-width="0.55"/>
<line x1="464.1" y1="351.2" x2="464.1" y2="352.3" stroke="#231f20" stroke-width="0.55"/>
<line x1="466.13" y1="351.2" x2="466.13" y2="352.3" stroke="#231f20" stroke-width="0.55"/>
<line x1="468.17" y1="351.2" x2="468.17" y2="352.3" stroke="#231f20" stroke-width="0.55"/>
<line x1="470.2" y1="351.2" x2="470.2" y2="352.3" stroke="#231f20" stroke-width="0.55"/>
<line x1="472.24" y1="351.2" x2="472.24" y2="352.3" stroke="#231f20" stroke-width="0.55"/>
<line x1="474.27" y1="351.2" x2="474.27" y2="352.3" stroke="#231f20" stroke-width="0.55"/>
<line x1="476.31" y1="351.2" x2="476.31" y2="352.3" stroke="#231f20" stroke-width="0.55"/>
<line x1="478.35" y1="351.2" x2="478.35" y2="352.3" stroke="#231f20" stroke-width="0.55"/>
<line x1="480.38" y1="351.2" x2="480.38" y2="352.3" stroke="#231f20" stroke-width="0.55"/>
<line x1="482.42" y1="351.2" x2="482.42" y2="352.3" stroke="#231f20" stroke-width="0.55"/>
<line x1="484.45" y1="351.2" x2="484.45" y2="352.3" stroke="#231f20" stroke-width="0.55"/>
<line x1="486.49" y1="351.2" x2="486.49" y2="352.3" stroke="#231f20" stroke-width="0.55"/>
<line x1="488.52" y1="351.2" x2="488.52" y2="352.3" stroke="#231f20" stroke-width="0.55"/>
<line x1="490.56" y1="351.2" x2="490.56" y2="352.3" stroke="#231f20" stroke-width="0.55"/>
<line x1="492.59" y1="351.2" x2="492.59" y2="352.3" stroke="#231f20" stroke-width="0.55"/>
<line x1="494.62" y1="351.2" x2="494.62" y2="352.3" stroke="#231f20" stroke-width="0.55"/>
<line x1="496.66" y1="351.2" x2="496.66" y2="352.3" stroke="#231f20" stroke-width="0.55"/>
<line x1="498.69" y1="351.2" x2="498.69" y2="352.3" stroke="#231f20" stroke-width="0.55"/>
<line x1="500.73" y1="351.2" x2="500.73" y2="352.3" stroke="#231f20" stroke-width="0.55"/>
<line x1="502.76" y1="351.2" x2="502.76" y2="352.3" stroke="#231f20" stroke-width="0.55"/>
<line x1="504.8" y1="351.2" x2="504.8" y2="352.3" stroke="#231f20" stroke-width="0.55"/>
<text x="435" y="305.4" font-size="7" stroke="#161213" stroke-width="0.26" textLength="21" lengthAdjust="spacingAndGlyphs">S=59%</text>
<text x="460" y="341" font-size="7" stroke="#161213" stroke-width="0.26" textLength="24" lengthAdjust="spacingAndGlyphs">G2=6%</text>
<text x="448" y="351.4" font-size="7" stroke="#161213" stroke-width="0.26" textLength="27" lengthAdjust="spacingAndGlyphs">G1=20%</text>
<text x="465.2" y="363" font-size="7.8" stroke="#161213" stroke-width="0.26" text-anchor="middle" textLength="42.4" lengthAdjust="spacingAndGlyphs">7-AAD (DNA)</text>
<text x="496" y="358.7" font-size="5.2" stroke="#161213" stroke-width="0.26" textLength="12.8" lengthAdjust="spacingAndGlyphs">1023</text>
<g transform="translate(420.2,353.8) rotate(-90)">
<text x="0" y="0" font-size="7.8" stroke="#161213" stroke-width="0.26" textLength="8.2" lengthAdjust="spacingAndGlyphs">10</text>
<text x="7.4" y="-5.8" font-size="5" stroke="#161213" stroke-width="0.26">0</text>
</g>
<g transform="translate(420.2,335.9) rotate(-90)">
<text x="0" y="0" font-size="7.8" stroke="#161213" stroke-width="0.26" textLength="8.2" lengthAdjust="spacingAndGlyphs">10</text>
<text x="7.4" y="-5.8" font-size="5" stroke="#161213" stroke-width="0.26">1</text>
</g>
<g transform="translate(420.2,319.8) rotate(-90)">
<text x="0" y="0" font-size="7.8" stroke="#161213" stroke-width="0.26" textLength="8.2" lengthAdjust="spacingAndGlyphs">10</text>
<text x="7.4" y="-5.8" font-size="5" stroke="#161213" stroke-width="0.26">2</text>
</g>
<g transform="translate(420.2,303.8) rotate(-90)">
<text x="0" y="0" font-size="7.8" stroke="#161213" stroke-width="0.26" textLength="8.2" lengthAdjust="spacingAndGlyphs">10</text>
<text x="7.4" y="-5.8" font-size="5" stroke="#161213" stroke-width="0.26">3</text>
</g>
<g transform="translate(420.2,285.8) rotate(-90)">
<text x="0" y="0" font-size="7.8" stroke="#161213" stroke-width="0.26" textLength="8.2" lengthAdjust="spacingAndGlyphs">10</text>
<text x="7.4" y="-5.8" font-size="5" stroke="#161213" stroke-width="0.26">4</text>
</g>
<g transform="translate(408.5,317.5) rotate(-90)">
<text x="0" y="0" font-size="8.4" stroke="#161213" stroke-width="0.26" text-anchor="middle" textLength="43" lengthAdjust="spacingAndGlyphs">FITC-BRDU</text>
</g>
<rect x="311" y="378.5" width="37.4" height="69.1" fill="#d9dae1"/>
<polygon points="290,447.25 290.6,446.45 291.25,445.95 291.9,445.07 292.53,445.16 293.17,445.88 293.8,446.07 294.4,445.47 295,446.24 295.6,446.51 296.25,445.12 296.9,444.88 297.53,443.78 298.17,443.48 298.8,442.58 299.4,442.21 300,440.27 300.6,438.72 301.23,437.48 301.87,435.15 302.5,433.43 303.15,433.3 303.8,429.02 304.4,427.74 305,427.06 306,429.06 306.9,430.09 307.5,434.27 308.1,436.82 308.75,438.7 309.4,441.13 310,441.53 310.6,442.9 311.25,442.03 311.9,442.18 312.5,439.37 313.1,437.32 314,437.62 315,434.92 315.63,435.12 316.27,433.75 316.9,435.45 317.5,433.6 318.1,433.13 319,433.3 320,431.47 320.63,431.16 321.27,429.98 321.9,429.54 322.5,425.71 323.1,423.62 323.75,423.77 324.4,425.05 325,422.8 325.6,422.2 326.25,424.75 326.9,422.16 327.5,420.74 328.1,419.92 328.75,416.71 329.4,411.68 330,411.86 330.6,406.79 331.25,408.85 331.9,411.17 332.5,410.6 333.1,404.89 334,402.44 335,411.08 335.6,412.61 336.3,420.56 337.3,432.28 338.1,441.14 339,445.26 340,446.2 340.57,446.97 341.14,446.49 341.71,447.06 342.29,446.51 342.86,446.86 343.43,446.5 344,446.48 344,447.6 290,447.6" fill="#141414"/>
<polygon points="290,447.6 290.6,447.6 291.25,447.6 291.9,447.58 292.53,447.6 293.17,447.6 293.8,447.6 294.4,447.6 295,447.6 295.6,447.6 296.25,447.6 296.9,447.31 297.53,446.75 298.17,446.2 298.8,445.64 299.4,444.73 300,443.82 300.6,442.91 301.23,441.45 301.87,439.98 302.5,438.51 303.15,436.88 303.8,435.26 304.4,433.85 305,432.44 306,433.06 306.9,436.31 307.5,438.78 308.1,441.24 308.75,442.91 309.4,444.58 310,445.11 310.6,445.64 311.25,445.38 311.9,445.11 312.5,443.48 313.1,441.86 314,440.71 315,438.51 315.63,438.89 316.27,439.27 316.9,439.66 317.5,438.56 318.1,437.46 319,438.07 320,436.31 320.63,435.96 321.27,435.61 321.9,435.26 322.5,433.06 323.1,430.86 323.75,431.65 324.4,432.44 325,431.08 325.6,429.71 326.25,429.98 326.9,430.24 327.5,429.45 328.1,428.66 328.75,424.4 329.4,420 330,417.8 330.6,415.6 331.25,416.55 331.9,417.5 332.5,415.65 333.1,413.8 334,411.9 335,416.3 335.6,421.3 336.3,427.5 337.3,436.31 338.1,444.06 339,447.6 340,447.6 340.57,447.6 341.14,447.6 341.71,447.6 342.29,447.6 342.86,447.6 343.43,447.6 344,447.6 344,447.6 290,447.6" fill="#d42228"/>
<rect x="311" y="378.5" width="37.4" height="69.1" fill="none" stroke="#231f20" stroke-width="1.2"/>
<line x1="286.4" y1="374" x2="286.4" y2="447.6" stroke="#6a6a6a" stroke-width="0.8"/>
<line x1="286.4" y1="447.6" x2="374.8" y2="447.6" stroke="#231f20" stroke-width="0.9"/>
<text x="321.2" y="388.4" font-size="8.6" stroke="#161213" stroke-width="0.26" textLength="17.6" lengthAdjust="spacingAndGlyphs">80%</text>
<g transform="translate(285.4,377.6) rotate(-90)">
<text x="0" y="0" font-size="7.2" stroke="#161213" stroke-width="0.26" text-anchor="middle" textLength="10.8" lengthAdjust="spacingAndGlyphs">256</text>
</g>
<g transform="translate(284.6,446.5) rotate(-90)">
<text x="0" y="0" font-size="6.6" stroke="#161213" stroke-width="0.26" text-anchor="middle" textLength="3.4" lengthAdjust="spacingAndGlyphs">0</text>
</g>
<g transform="translate(281.2,413.4) rotate(-90)">
<text x="0" y="0" font-size="9.3" stroke="#161213" stroke-width="0.26" text-anchor="middle" textLength="34.2" lengthAdjust="spacingAndGlyphs">EVENTS</text>
</g>
<text x="284.2" y="459.8" font-size="8.8" stroke="#161213" stroke-width="0.26" textLength="8.4" lengthAdjust="spacingAndGlyphs">10</text>
<text x="292.9" y="453.8" font-size="6.2" stroke="#161213" stroke-width="0.26">0</text>
<text x="305" y="459.8" font-size="8.8" stroke="#161213" stroke-width="0.26" textLength="8.4" lengthAdjust="spacingAndGlyphs">10</text>
<text x="313.7" y="453.8" font-size="6.2" stroke="#161213" stroke-width="0.26">1</text>
<text x="327.1" y="459.8" font-size="8.8" stroke="#161213" stroke-width="0.26" textLength="8.4" lengthAdjust="spacingAndGlyphs">10</text>
<text x="335.8" y="453.8" font-size="6.2" stroke="#161213" stroke-width="0.26">2</text>
<text x="347.3" y="459.8" font-size="8.8" stroke="#161213" stroke-width="0.26" textLength="8.4" lengthAdjust="spacingAndGlyphs">10</text>
<text x="356" y="453.8" font-size="6.2" stroke="#161213" stroke-width="0.26">3</text>
<text x="370" y="459.8" font-size="8.8" stroke="#161213" stroke-width="0.26" textLength="8.4" lengthAdjust="spacingAndGlyphs">10</text>
<text x="378.7" y="453.8" font-size="6.2" stroke="#161213" stroke-width="0.26">4</text>
<text x="333.3" y="471.7" font-size="8.5" stroke="#161213" stroke-width="0.26" text-anchor="middle" textLength="49" lengthAdjust="spacingAndGlyphs">FITC-BRDU</text>
<rect x="450.3" y="378.4" width="37.4" height="69.2" fill="#d9dae1"/>
<polygon points="423.8,428.06 424.8,431.65 425.4,433.52 426,434.27 426.65,433.55 427.3,434.57 427.9,433.85 428.5,430.17 429.15,433.9 429.8,435.98 430.4,431.62 431,430.56 431.65,428.39 432.3,428.46 433.3,427.25 434,434.87 434.65,434.59 435.3,435.15 435.9,434.85 436.5,433.26 437.15,433.1 437.8,434.57 438.4,434.3 439,436.41 439.65,434.73 440.3,433.4 440.9,431.87 441.5,433.94 442.15,434.73 442.8,435.82 443.4,434.4 444,432.14 444.65,435.5 445.3,436.66 445.9,438.1 446.5,437.91 447.15,438.36 447.8,440.19 448.4,441.39 449,442.54 449.65,442.23 450.3,443.61 450.9,442.98 451.5,443.04 452.15,443.13 452.8,443.67 453.4,442.38 454,440.65 454.65,439.26 455.3,437.27 455.9,436.28 456.5,434.33 457.15,432.64 457.8,430.46 458.4,430.29 459,430.99 459.65,427.28 460.3,425.51 460.9,424.26 461.5,424.05 462.15,421.35 462.8,421.57 463.8,423.07 464.8,426.8 465.4,426.86 466,426.94 466.65,422.24 467.3,420.29 467.9,424.54 468.5,421.7 469.15,425.98 469.8,429.69 470.4,427.78 471,424.66 471.65,426.09 472.3,430.8 472.9,425.88 473.5,425.73 474.4,429.14 475,437 476,442.28 476.9,445.89 477.5,446.38 478.1,446.11 478.73,446.62 479.36,446.83 479.99,446.32 480.61,446.83 481.24,446.61 481.87,446.38 482.5,446.18 483.08,446.68 483.67,446.9 484.25,446.27 484.83,446.79 485.42,446.39 486,446.53 486,447.6 423.8,447.6" fill="#141414"/>
<polygon points="423.8,433.06 424.8,436.84 425.4,437.94 426,439.04 426.65,438.51 427.3,437.98 427.9,437.15 428.5,436.31 429.15,437.98 429.8,439.66 430.4,437.72 431,435.78 431.65,434.95 432.3,434.11 433.3,433.58 434,438.51 434.65,439.35 435.3,440.18 435.9,439.35 436.5,438.51 437.15,438.25 437.8,437.98 438.4,439.35 439,440.71 439.65,438.78 440.3,436.84 440.9,437.68 441.5,438.51 442.15,439.61 442.8,440.71 443.4,439.35 444,437.98 444.65,439.61 445.3,441.24 445.9,441.81 446.5,442.38 447.15,442.65 447.8,442.91 448.4,444.01 449,445.11 449.65,445.68 450.3,446.26 450.9,445.95 451.5,445.64 452.15,445.95 452.8,446.26 453.4,445.16 454,444.06 454.65,442.96 455.3,441.86 455.9,440.76 456.5,439.66 457.15,438.25 457.8,436.84 458.4,436.05 459,435.26 459.65,434.16 460.3,433.06 460.9,431.96 461.5,430.86 462.15,429.18 462.8,427.5 463.8,430.86 464.8,433.06 465.4,432.22 466,431.38 466.65,430.28 467.3,429.18 467.9,429.45 468.5,429.71 469.15,431.91 469.8,434.11 470.4,433.01 471,431.91 471.65,433.28 472.3,434.64 472.9,432.44 473.5,430.24 474.4,435.26 475,440.71 476,445.64 476.9,447.6 477.5,447.6 478.1,447.6 478.73,447.6 479.36,447.6 479.99,447.6 480.61,447.6 481.24,447.6 481.87,447.6 482.5,447.6 483.08,447.6 483.67,447.6 484.25,447.6 484.83,447.6 485.42,447.6 486,447.6 486,447.6 423.8,447.6" fill="#d42228"/>
<rect x="450.3" y="378.4" width="37.4" height="69.2" fill="none" stroke="#231f20" stroke-width="1.2"/>
<line x1="423.6" y1="376.5" x2="423.6" y2="447.6" stroke="#6a6a6a" stroke-width="0.8"/>
<line x1="423.6" y1="447.6" x2="514" y2="447.6" stroke="#231f20" stroke-width="0.9"/>
<text x="461.2" y="389" font-size="8.6" stroke="#161213" stroke-width="0.26" textLength="17.6" lengthAdjust="spacingAndGlyphs">59%</text>
<g transform="translate(420.8,377.6) rotate(-90)">
<text x="0" y="0" font-size="7.2" stroke="#161213" stroke-width="0.26" text-anchor="middle" textLength="10.8" lengthAdjust="spacingAndGlyphs">256</text>
</g>
<g transform="translate(420.6,446) rotate(-90)">
<text x="0" y="0" font-size="6.6" stroke="#161213" stroke-width="0.26" text-anchor="middle" textLength="3.4" lengthAdjust="spacingAndGlyphs">0</text>
</g>
<g transform="translate(417,415) rotate(-90)">
<text x="0" y="0" font-size="9.3" stroke="#161213" stroke-width="0.26" text-anchor="middle" textLength="34.2" lengthAdjust="spacingAndGlyphs">EVENTS</text>
</g>
<text x="419.2" y="460.9" font-size="8.8" stroke="#161213" stroke-width="0.26" textLength="8.4" lengthAdjust="spacingAndGlyphs">10</text>
<text x="427.9" y="454.9" font-size="6.2" stroke="#161213" stroke-width="0.26">0</text>
<text x="440.8" y="460.9" font-size="8.8" stroke="#161213" stroke-width="0.26" textLength="8.4" lengthAdjust="spacingAndGlyphs">10</text>
<text x="449.5" y="454.9" font-size="6.2" stroke="#161213" stroke-width="0.26">1</text>
<text x="463.2" y="460.9" font-size="8.8" stroke="#161213" stroke-width="0.26" textLength="8.4" lengthAdjust="spacingAndGlyphs">10</text>
<text x="471.9" y="454.9" font-size="6.2" stroke="#161213" stroke-width="0.26">2</text>
<text x="483.4" y="460.9" font-size="8.8" stroke="#161213" stroke-width="0.26" textLength="8.4" lengthAdjust="spacingAndGlyphs">10</text>
<text x="492.1" y="454.9" font-size="6.2" stroke="#161213" stroke-width="0.26">3</text>
<text x="505.2" y="460.9" font-size="8.8" stroke="#161213" stroke-width="0.26" textLength="8.4" lengthAdjust="spacingAndGlyphs">10</text>
<text x="513.9" y="454.9" font-size="6.2" stroke="#161213" stroke-width="0.26">4</text>
<text x="469.2" y="472" font-size="8.5" stroke="#161213" stroke-width="0.26" text-anchor="middle" textLength="49" lengthAdjust="spacingAndGlyphs">FITC-BRDU</text>
</svg>
</body></html>
